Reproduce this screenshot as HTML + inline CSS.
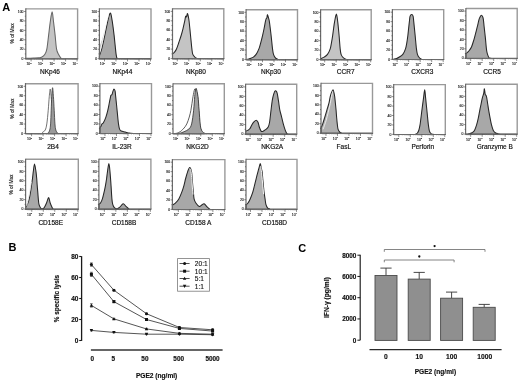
<!DOCTYPE html>
<html><head><meta charset="utf-8"><title>Figure</title>
<style>
html,body{margin:0;padding:0;background:#fff;}
body{width:520px;height:381px;overflow:hidden;position:relative;font-family:"Liberation Sans", sans-serif;-webkit-font-smoothing:antialiased;}
svg{filter:grayscale(1) blur(0.5px);}
</style></head><body>
<svg width="520" height="381" viewBox="0 0 520 381" style="position:absolute;left:0;top:0;display:block" font-family='"Liberation Sans", sans-serif'>
<rect width="520" height="381" fill="#fff"/>
<text x="2.3" y="10.7" font-size="11" font-weight="bold" fill="#000">A</text>
<text x="8.5" y="251.3" font-size="11" font-weight="bold" fill="#000">B</text>
<text x="298.3" y="251.5" font-size="11" font-weight="bold" fill="#000">C</text>
<g>
<path d="M25.8,58.3 C27.09,58.26 31.41,58.13 33.57,58.05 C35.73,57.97 37.43,57.93 38.75,57.8 C40.07,57.68 40.47,57.89 41.5,57.3 C42.52,56.72 44.02,55.72 44.91,54.31 C45.81,52.9 46.27,51.98 46.88,48.82 C47.5,45.66 48.02,39.88 48.59,35.35 C49.16,30.81 49.71,25.53 50.3,21.62 C50.89,17.72 51.58,11.89 52.11,11.89 C52.65,11.89 53.01,17.72 53.51,21.62 C54.01,25.53 54.62,30.81 55.12,35.35 C55.62,39.88 55.96,45.66 56.52,48.82 C57.08,51.98 57.71,52.73 58.49,54.31 C59.26,55.89 60.15,57.55 61.18,58.3 C62.21,59.05 61.91,58.72 64.65,58.8 C67.39,58.88 75.44,58.8 77.6,58.8 L77.6,58.8 L25.8,58.8 Z" fill="#c4c4c4" stroke="#666" stroke-width="1.05"/>
<path d="M25.8,8.9 H77.6 V58.8" fill="none" stroke="#999" stroke-width="1.4"/>
<path d="M25.8,8.3 V58.8 H78.2" fill="none" stroke="#6a6a6a" stroke-width="1.2"/>
<line x1="24" y1="58.65" x2="25.8" y2="58.65" stroke="#444" stroke-width="0.6"/>
<text x="23.5" y="59.85" font-size="3.4" text-anchor="end" fill="#222" stroke="#222" stroke-width="0.12">0</text>
<line x1="24.8" y1="53.94" x2="25.8" y2="53.94" stroke="#444" stroke-width="0.6"/>
<line x1="24" y1="49.22" x2="25.8" y2="49.22" stroke="#444" stroke-width="0.6"/>
<text x="23.5" y="50.42" font-size="3.4" text-anchor="end" fill="#222" stroke="#222" stroke-width="0.12">20</text>
<line x1="24.8" y1="44.5" x2="25.8" y2="44.5" stroke="#444" stroke-width="0.6"/>
<line x1="24" y1="39.79" x2="25.8" y2="39.79" stroke="#444" stroke-width="0.6"/>
<text x="23.5" y="40.99" font-size="3.4" text-anchor="end" fill="#222" stroke="#222" stroke-width="0.12">40</text>
<line x1="24.8" y1="35.08" x2="25.8" y2="35.08" stroke="#444" stroke-width="0.6"/>
<line x1="24" y1="30.36" x2="25.8" y2="30.36" stroke="#444" stroke-width="0.6"/>
<text x="23.5" y="31.56" font-size="3.4" text-anchor="end" fill="#222" stroke="#222" stroke-width="0.12">60</text>
<line x1="24.8" y1="25.64" x2="25.8" y2="25.64" stroke="#444" stroke-width="0.6"/>
<line x1="24" y1="20.93" x2="25.8" y2="20.93" stroke="#444" stroke-width="0.6"/>
<text x="23.5" y="22.13" font-size="3.4" text-anchor="end" fill="#222" stroke="#222" stroke-width="0.12">80</text>
<line x1="24.8" y1="16.21" x2="25.8" y2="16.21" stroke="#444" stroke-width="0.6"/>
<line x1="24" y1="11.5" x2="25.8" y2="11.5" stroke="#444" stroke-width="0.6"/>
<text x="23.5" y="12.7" font-size="3.4" text-anchor="end" fill="#222" stroke="#222" stroke-width="0.12">100</text>
<line x1="31.1" y1="58.8" x2="31.1" y2="61.4" stroke="#444" stroke-width="0.6"/>
<text x="31.5" y="65.2" font-size="3.4" text-anchor="end" fill="#222" stroke="#222" stroke-width="0.12">10<tspan font-size="2.4" dy="-1.5">0</tspan></text>
<line x1="26.52" y1="58.8" x2="26.52" y2="59.9" stroke="#777" stroke-width="0.4"/>
<line x1="27.64" y1="58.8" x2="27.64" y2="59.9" stroke="#777" stroke-width="0.4"/>
<line x1="28.55" y1="58.8" x2="28.55" y2="59.9" stroke="#777" stroke-width="0.4"/>
<line x1="29.32" y1="58.8" x2="29.32" y2="59.9" stroke="#777" stroke-width="0.4"/>
<line x1="29.99" y1="58.8" x2="29.99" y2="59.9" stroke="#777" stroke-width="0.4"/>
<line x1="30.57" y1="58.8" x2="30.57" y2="59.9" stroke="#777" stroke-width="0.4"/>
<line x1="42.6" y1="58.8" x2="42.6" y2="61.4" stroke="#444" stroke-width="0.6"/>
<text x="43" y="65.2" font-size="3.4" text-anchor="end" fill="#222" stroke="#222" stroke-width="0.12">10<tspan font-size="2.4" dy="-1.5">1</tspan></text>
<line x1="34.56" y1="58.8" x2="34.56" y2="59.9" stroke="#777" stroke-width="0.4"/>
<line x1="36.59" y1="58.8" x2="36.59" y2="59.9" stroke="#777" stroke-width="0.4"/>
<line x1="38.02" y1="58.8" x2="38.02" y2="59.9" stroke="#777" stroke-width="0.4"/>
<line x1="39.14" y1="58.8" x2="39.14" y2="59.9" stroke="#777" stroke-width="0.4"/>
<line x1="40.05" y1="58.8" x2="40.05" y2="59.9" stroke="#777" stroke-width="0.4"/>
<line x1="40.82" y1="58.8" x2="40.82" y2="59.9" stroke="#777" stroke-width="0.4"/>
<line x1="41.49" y1="58.8" x2="41.49" y2="59.9" stroke="#777" stroke-width="0.4"/>
<line x1="42.07" y1="58.8" x2="42.07" y2="59.9" stroke="#777" stroke-width="0.4"/>
<line x1="54.1" y1="58.8" x2="54.1" y2="61.4" stroke="#444" stroke-width="0.6"/>
<text x="54.5" y="65.2" font-size="3.4" text-anchor="end" fill="#222" stroke="#222" stroke-width="0.12">10<tspan font-size="2.4" dy="-1.5">2</tspan></text>
<line x1="46.06" y1="58.8" x2="46.06" y2="59.9" stroke="#777" stroke-width="0.4"/>
<line x1="48.09" y1="58.8" x2="48.09" y2="59.9" stroke="#777" stroke-width="0.4"/>
<line x1="49.52" y1="58.8" x2="49.52" y2="59.9" stroke="#777" stroke-width="0.4"/>
<line x1="50.64" y1="58.8" x2="50.64" y2="59.9" stroke="#777" stroke-width="0.4"/>
<line x1="51.55" y1="58.8" x2="51.55" y2="59.9" stroke="#777" stroke-width="0.4"/>
<line x1="52.32" y1="58.8" x2="52.32" y2="59.9" stroke="#777" stroke-width="0.4"/>
<line x1="52.99" y1="58.8" x2="52.99" y2="59.9" stroke="#777" stroke-width="0.4"/>
<line x1="53.57" y1="58.8" x2="53.57" y2="59.9" stroke="#777" stroke-width="0.4"/>
<line x1="65.6" y1="58.8" x2="65.6" y2="61.4" stroke="#444" stroke-width="0.6"/>
<text x="66" y="65.2" font-size="3.4" text-anchor="end" fill="#222" stroke="#222" stroke-width="0.12">10<tspan font-size="2.4" dy="-1.5">3</tspan></text>
<line x1="57.56" y1="58.8" x2="57.56" y2="59.9" stroke="#777" stroke-width="0.4"/>
<line x1="59.59" y1="58.8" x2="59.59" y2="59.9" stroke="#777" stroke-width="0.4"/>
<line x1="61.02" y1="58.8" x2="61.02" y2="59.9" stroke="#777" stroke-width="0.4"/>
<line x1="62.14" y1="58.8" x2="62.14" y2="59.9" stroke="#777" stroke-width="0.4"/>
<line x1="63.05" y1="58.8" x2="63.05" y2="59.9" stroke="#777" stroke-width="0.4"/>
<line x1="63.82" y1="58.8" x2="63.82" y2="59.9" stroke="#777" stroke-width="0.4"/>
<line x1="64.49" y1="58.8" x2="64.49" y2="59.9" stroke="#777" stroke-width="0.4"/>
<line x1="65.07" y1="58.8" x2="65.07" y2="59.9" stroke="#777" stroke-width="0.4"/>
<line x1="77.1" y1="58.8" x2="77.1" y2="61.4" stroke="#444" stroke-width="0.6"/>
<text x="77.5" y="65.2" font-size="3.4" text-anchor="end" fill="#222" stroke="#222" stroke-width="0.12">10<tspan font-size="2.4" dy="-1.5">4</tspan></text>
<line x1="69.06" y1="58.8" x2="69.06" y2="59.9" stroke="#777" stroke-width="0.4"/>
<line x1="71.09" y1="58.8" x2="71.09" y2="59.9" stroke="#777" stroke-width="0.4"/>
<line x1="72.52" y1="58.8" x2="72.52" y2="59.9" stroke="#777" stroke-width="0.4"/>
<line x1="73.64" y1="58.8" x2="73.64" y2="59.9" stroke="#777" stroke-width="0.4"/>
<line x1="74.55" y1="58.8" x2="74.55" y2="59.9" stroke="#777" stroke-width="0.4"/>
<line x1="75.32" y1="58.8" x2="75.32" y2="59.9" stroke="#777" stroke-width="0.4"/>
<line x1="75.99" y1="58.8" x2="75.99" y2="59.9" stroke="#777" stroke-width="0.4"/>
<line x1="76.57" y1="58.8" x2="76.57" y2="59.9" stroke="#777" stroke-width="0.4"/>
<text x="50" y="73.6" font-size="6.5" text-anchor="middle" fill="#111" stroke="#111" stroke-width="0.18">NKp46</text>
<text transform="translate(13.6,33.45) rotate(-90)" font-size="4.8" text-anchor="middle" fill="#222" stroke="#222" stroke-width="0.15">% of Max</text>
</g>
<g>
<path d="M99.4,46.82 C99.83,45.66 101.12,42.58 101.98,39.84 C102.84,37.09 103.7,33.6 104.56,30.36 C105.42,27.11 106.28,23.12 107.14,20.38 C108,17.63 109.13,15.05 109.72,13.89 C110.31,12.73 110.27,12.1 110.7,13.39 C111.13,14.68 111.73,17.97 112.3,21.62 C112.87,25.28 113.57,30.81 114.11,35.35 C114.64,39.88 115.16,45.66 115.5,48.82 C115.83,51.98 115.85,52.73 116.12,54.31 C116.39,55.89 116.45,57.55 117.1,58.3 C117.75,59.05 119.55,58.72 120.04,58.8 L120.04,58.8 L99.4,58.8 Z" fill="#c4c4c4" stroke="none" stroke-width="1.05"/>
<path d="M99.4,55.81 C99.83,54.48 101.12,51.07 101.98,47.82 C102.84,44.58 103.7,40.34 104.56,36.34 C105.42,32.35 106.37,27.36 107.14,23.87 C107.91,20.38 108.61,17.13 109.2,15.39 C109.8,13.64 110.18,12.35 110.7,13.39 C111.22,14.43 111.73,17.97 112.3,21.62 C112.87,25.28 113.57,30.81 114.11,35.35 C114.64,39.88 115.16,45.66 115.5,48.82 C115.83,51.98 115.85,52.73 116.12,54.31 C116.39,55.89 116.45,57.55 117.1,58.3 C117.75,59.05 114.39,58.72 120.04,58.8 C125.69,58.88 145.84,58.8 151,58.8 L151,58.8 L99.4,58.8 Z" fill="#a8a8a8" stroke="#262626" stroke-width="1.05"/>
<path d="M99.4,53.81 C99.72,52.65 100.57,49.9 101.31,46.82 C102.05,43.75 102.99,39.34 103.84,35.35 C104.69,31.35 105.65,26.2 106.42,22.87 C107.18,19.55 108.09,16.63 108.43,15.39" fill="none" stroke="#ffffff" stroke-width="0.9"/>
<path d="M99.4,8.9 H151 V58.8" fill="none" stroke="#999" stroke-width="1.4"/>
<path d="M99.4,8.3 V58.8 H151.6" fill="none" stroke="#6a6a6a" stroke-width="1.2"/>
<line x1="97.6" y1="58.65" x2="99.4" y2="58.65" stroke="#444" stroke-width="0.6"/>
<text x="97.1" y="59.85" font-size="3.4" text-anchor="end" fill="#222" stroke="#222" stroke-width="0.12">0</text>
<line x1="98.4" y1="53.94" x2="99.4" y2="53.94" stroke="#444" stroke-width="0.6"/>
<line x1="97.6" y1="49.22" x2="99.4" y2="49.22" stroke="#444" stroke-width="0.6"/>
<text x="97.1" y="50.42" font-size="3.4" text-anchor="end" fill="#222" stroke="#222" stroke-width="0.12">20</text>
<line x1="98.4" y1="44.5" x2="99.4" y2="44.5" stroke="#444" stroke-width="0.6"/>
<line x1="97.6" y1="39.79" x2="99.4" y2="39.79" stroke="#444" stroke-width="0.6"/>
<text x="97.1" y="40.99" font-size="3.4" text-anchor="end" fill="#222" stroke="#222" stroke-width="0.12">40</text>
<line x1="98.4" y1="35.08" x2="99.4" y2="35.08" stroke="#444" stroke-width="0.6"/>
<line x1="97.6" y1="30.36" x2="99.4" y2="30.36" stroke="#444" stroke-width="0.6"/>
<text x="97.1" y="31.56" font-size="3.4" text-anchor="end" fill="#222" stroke="#222" stroke-width="0.12">60</text>
<line x1="98.4" y1="25.64" x2="99.4" y2="25.64" stroke="#444" stroke-width="0.6"/>
<line x1="97.6" y1="20.93" x2="99.4" y2="20.93" stroke="#444" stroke-width="0.6"/>
<text x="97.1" y="22.13" font-size="3.4" text-anchor="end" fill="#222" stroke="#222" stroke-width="0.12">80</text>
<line x1="98.4" y1="16.21" x2="99.4" y2="16.21" stroke="#444" stroke-width="0.6"/>
<line x1="97.6" y1="11.5" x2="99.4" y2="11.5" stroke="#444" stroke-width="0.6"/>
<text x="97.1" y="12.7" font-size="3.4" text-anchor="end" fill="#222" stroke="#222" stroke-width="0.12">100</text>
<line x1="104.5" y1="58.8" x2="104.5" y2="61.4" stroke="#444" stroke-width="0.6"/>
<text x="104.9" y="65.2" font-size="3.4" text-anchor="end" fill="#222" stroke="#222" stroke-width="0.12">10<tspan font-size="2.4" dy="-1.5">0</tspan></text>
<line x1="99.92" y1="58.8" x2="99.92" y2="59.9" stroke="#777" stroke-width="0.4"/>
<line x1="101.04" y1="58.8" x2="101.04" y2="59.9" stroke="#777" stroke-width="0.4"/>
<line x1="101.95" y1="58.8" x2="101.95" y2="59.9" stroke="#777" stroke-width="0.4"/>
<line x1="102.72" y1="58.8" x2="102.72" y2="59.9" stroke="#777" stroke-width="0.4"/>
<line x1="103.39" y1="58.8" x2="103.39" y2="59.9" stroke="#777" stroke-width="0.4"/>
<line x1="103.97" y1="58.8" x2="103.97" y2="59.9" stroke="#777" stroke-width="0.4"/>
<line x1="116" y1="58.8" x2="116" y2="61.4" stroke="#444" stroke-width="0.6"/>
<text x="116.4" y="65.2" font-size="3.4" text-anchor="end" fill="#222" stroke="#222" stroke-width="0.12">10<tspan font-size="2.4" dy="-1.5">1</tspan></text>
<line x1="107.96" y1="58.8" x2="107.96" y2="59.9" stroke="#777" stroke-width="0.4"/>
<line x1="109.99" y1="58.8" x2="109.99" y2="59.9" stroke="#777" stroke-width="0.4"/>
<line x1="111.42" y1="58.8" x2="111.42" y2="59.9" stroke="#777" stroke-width="0.4"/>
<line x1="112.54" y1="58.8" x2="112.54" y2="59.9" stroke="#777" stroke-width="0.4"/>
<line x1="113.45" y1="58.8" x2="113.45" y2="59.9" stroke="#777" stroke-width="0.4"/>
<line x1="114.22" y1="58.8" x2="114.22" y2="59.9" stroke="#777" stroke-width="0.4"/>
<line x1="114.89" y1="58.8" x2="114.89" y2="59.9" stroke="#777" stroke-width="0.4"/>
<line x1="115.47" y1="58.8" x2="115.47" y2="59.9" stroke="#777" stroke-width="0.4"/>
<line x1="127.5" y1="58.8" x2="127.5" y2="61.4" stroke="#444" stroke-width="0.6"/>
<text x="127.9" y="65.2" font-size="3.4" text-anchor="end" fill="#222" stroke="#222" stroke-width="0.12">10<tspan font-size="2.4" dy="-1.5">2</tspan></text>
<line x1="119.46" y1="58.8" x2="119.46" y2="59.9" stroke="#777" stroke-width="0.4"/>
<line x1="121.49" y1="58.8" x2="121.49" y2="59.9" stroke="#777" stroke-width="0.4"/>
<line x1="122.92" y1="58.8" x2="122.92" y2="59.9" stroke="#777" stroke-width="0.4"/>
<line x1="124.04" y1="58.8" x2="124.04" y2="59.9" stroke="#777" stroke-width="0.4"/>
<line x1="124.95" y1="58.8" x2="124.95" y2="59.9" stroke="#777" stroke-width="0.4"/>
<line x1="125.72" y1="58.8" x2="125.72" y2="59.9" stroke="#777" stroke-width="0.4"/>
<line x1="126.39" y1="58.8" x2="126.39" y2="59.9" stroke="#777" stroke-width="0.4"/>
<line x1="126.97" y1="58.8" x2="126.97" y2="59.9" stroke="#777" stroke-width="0.4"/>
<line x1="139" y1="58.8" x2="139" y2="61.4" stroke="#444" stroke-width="0.6"/>
<text x="139.4" y="65.2" font-size="3.4" text-anchor="end" fill="#222" stroke="#222" stroke-width="0.12">10<tspan font-size="2.4" dy="-1.5">3</tspan></text>
<line x1="130.96" y1="58.8" x2="130.96" y2="59.9" stroke="#777" stroke-width="0.4"/>
<line x1="132.99" y1="58.8" x2="132.99" y2="59.9" stroke="#777" stroke-width="0.4"/>
<line x1="134.42" y1="58.8" x2="134.42" y2="59.9" stroke="#777" stroke-width="0.4"/>
<line x1="135.54" y1="58.8" x2="135.54" y2="59.9" stroke="#777" stroke-width="0.4"/>
<line x1="136.45" y1="58.8" x2="136.45" y2="59.9" stroke="#777" stroke-width="0.4"/>
<line x1="137.22" y1="58.8" x2="137.22" y2="59.9" stroke="#777" stroke-width="0.4"/>
<line x1="137.89" y1="58.8" x2="137.89" y2="59.9" stroke="#777" stroke-width="0.4"/>
<line x1="138.47" y1="58.8" x2="138.47" y2="59.9" stroke="#777" stroke-width="0.4"/>
<line x1="150.5" y1="58.8" x2="150.5" y2="61.4" stroke="#444" stroke-width="0.6"/>
<text x="150.9" y="65.2" font-size="3.4" text-anchor="end" fill="#222" stroke="#222" stroke-width="0.12">10<tspan font-size="2.4" dy="-1.5">4</tspan></text>
<line x1="142.46" y1="58.8" x2="142.46" y2="59.9" stroke="#777" stroke-width="0.4"/>
<line x1="144.49" y1="58.8" x2="144.49" y2="59.9" stroke="#777" stroke-width="0.4"/>
<line x1="145.92" y1="58.8" x2="145.92" y2="59.9" stroke="#777" stroke-width="0.4"/>
<line x1="147.04" y1="58.8" x2="147.04" y2="59.9" stroke="#777" stroke-width="0.4"/>
<line x1="147.95" y1="58.8" x2="147.95" y2="59.9" stroke="#777" stroke-width="0.4"/>
<line x1="148.72" y1="58.8" x2="148.72" y2="59.9" stroke="#777" stroke-width="0.4"/>
<line x1="149.39" y1="58.8" x2="149.39" y2="59.9" stroke="#777" stroke-width="0.4"/>
<line x1="149.97" y1="58.8" x2="149.97" y2="59.9" stroke="#777" stroke-width="0.4"/>
<text x="122.4" y="73.6" font-size="6.5" text-anchor="middle" fill="#111" stroke="#111" stroke-width="0.18">NKp44</text>
</g>
<g>
<path d="M172.5,52.96 C172.67,53 173.21,53.32 173.53,53.21 C173.84,53.1 173.9,53.03 174.4,52.31 C174.89,51.6 175.75,50.6 176.5,48.92 C177.25,47.24 178.13,44.51 178.91,42.23 C179.7,39.95 180.54,37.53 181.22,35.25 C181.91,32.96 182.45,30.8 183.02,28.51 C183.58,26.22 184.16,23.56 184.61,21.52 C185.05,19.49 185.35,17.08 185.68,16.28 C186.02,15.49 186.33,17.24 186.61,16.78 C186.89,16.33 187.09,13.62 187.38,13.54 C187.66,13.46 188.01,14.95 188.3,16.28 C188.59,17.62 188.75,18.36 189.12,21.52 C189.49,24.68 190.04,30.68 190.51,35.25 C190.97,39.81 191.51,45.73 191.89,48.92 C192.28,52.11 192.31,53.03 192.81,54.41 C193.32,55.79 194.29,56.57 194.92,57.2 C195.55,57.84 195.64,57.95 196.61,58.2 C197.58,58.45 196.18,58.62 200.72,58.7 C205.25,58.78 219.95,58.7 223.8,58.7 L223.8,58.7 L172.5,58.7 Z" fill="#c4c4c4" stroke="#262626" stroke-width="1.05"/>
<path d="M172.5,8.8 H223.8 V58.7" fill="none" stroke="#999" stroke-width="1.4"/>
<path d="M172.5,8.2 V58.7 H224.4" fill="none" stroke="#6a6a6a" stroke-width="1.2"/>
<line x1="170.7" y1="58.55" x2="172.5" y2="58.55" stroke="#444" stroke-width="0.6"/>
<text x="170.2" y="59.75" font-size="3.4" text-anchor="end" fill="#222" stroke="#222" stroke-width="0.12">0</text>
<line x1="171.5" y1="53.84" x2="172.5" y2="53.84" stroke="#444" stroke-width="0.6"/>
<line x1="170.7" y1="49.12" x2="172.5" y2="49.12" stroke="#444" stroke-width="0.6"/>
<text x="170.2" y="50.32" font-size="3.4" text-anchor="end" fill="#222" stroke="#222" stroke-width="0.12">20</text>
<line x1="171.5" y1="44.41" x2="172.5" y2="44.41" stroke="#444" stroke-width="0.6"/>
<line x1="170.7" y1="39.69" x2="172.5" y2="39.69" stroke="#444" stroke-width="0.6"/>
<text x="170.2" y="40.89" font-size="3.4" text-anchor="end" fill="#222" stroke="#222" stroke-width="0.12">40</text>
<line x1="171.5" y1="34.98" x2="172.5" y2="34.98" stroke="#444" stroke-width="0.6"/>
<line x1="170.7" y1="30.26" x2="172.5" y2="30.26" stroke="#444" stroke-width="0.6"/>
<text x="170.2" y="31.46" font-size="3.4" text-anchor="end" fill="#222" stroke="#222" stroke-width="0.12">60</text>
<line x1="171.5" y1="25.55" x2="172.5" y2="25.55" stroke="#444" stroke-width="0.6"/>
<line x1="170.7" y1="20.83" x2="172.5" y2="20.83" stroke="#444" stroke-width="0.6"/>
<text x="170.2" y="22.03" font-size="3.4" text-anchor="end" fill="#222" stroke="#222" stroke-width="0.12">80</text>
<line x1="171.5" y1="16.11" x2="172.5" y2="16.11" stroke="#444" stroke-width="0.6"/>
<line x1="170.7" y1="11.4" x2="172.5" y2="11.4" stroke="#444" stroke-width="0.6"/>
<text x="170.2" y="12.6" font-size="3.4" text-anchor="end" fill="#222" stroke="#222" stroke-width="0.12">100</text>
<line x1="177.3" y1="58.7" x2="177.3" y2="61.3" stroke="#444" stroke-width="0.6"/>
<text x="177.7" y="65.1" font-size="3.4" text-anchor="end" fill="#222" stroke="#222" stroke-width="0.12">10<tspan font-size="2.4" dy="-1.5">0</tspan></text>
<line x1="173.84" y1="58.7" x2="173.84" y2="59.8" stroke="#777" stroke-width="0.4"/>
<line x1="174.75" y1="58.7" x2="174.75" y2="59.8" stroke="#777" stroke-width="0.4"/>
<line x1="175.52" y1="58.7" x2="175.52" y2="59.8" stroke="#777" stroke-width="0.4"/>
<line x1="176.19" y1="58.7" x2="176.19" y2="59.8" stroke="#777" stroke-width="0.4"/>
<line x1="176.77" y1="58.7" x2="176.77" y2="59.8" stroke="#777" stroke-width="0.4"/>
<line x1="188.8" y1="58.7" x2="188.8" y2="61.3" stroke="#444" stroke-width="0.6"/>
<text x="189.2" y="65.1" font-size="3.4" text-anchor="end" fill="#222" stroke="#222" stroke-width="0.12">10<tspan font-size="2.4" dy="-1.5">1</tspan></text>
<line x1="180.76" y1="58.7" x2="180.76" y2="59.8" stroke="#777" stroke-width="0.4"/>
<line x1="182.79" y1="58.7" x2="182.79" y2="59.8" stroke="#777" stroke-width="0.4"/>
<line x1="184.22" y1="58.7" x2="184.22" y2="59.8" stroke="#777" stroke-width="0.4"/>
<line x1="185.34" y1="58.7" x2="185.34" y2="59.8" stroke="#777" stroke-width="0.4"/>
<line x1="186.25" y1="58.7" x2="186.25" y2="59.8" stroke="#777" stroke-width="0.4"/>
<line x1="187.02" y1="58.7" x2="187.02" y2="59.8" stroke="#777" stroke-width="0.4"/>
<line x1="187.69" y1="58.7" x2="187.69" y2="59.8" stroke="#777" stroke-width="0.4"/>
<line x1="188.27" y1="58.7" x2="188.27" y2="59.8" stroke="#777" stroke-width="0.4"/>
<line x1="200.3" y1="58.7" x2="200.3" y2="61.3" stroke="#444" stroke-width="0.6"/>
<text x="200.7" y="65.1" font-size="3.4" text-anchor="end" fill="#222" stroke="#222" stroke-width="0.12">10<tspan font-size="2.4" dy="-1.5">2</tspan></text>
<line x1="192.26" y1="58.7" x2="192.26" y2="59.8" stroke="#777" stroke-width="0.4"/>
<line x1="194.29" y1="58.7" x2="194.29" y2="59.8" stroke="#777" stroke-width="0.4"/>
<line x1="195.72" y1="58.7" x2="195.72" y2="59.8" stroke="#777" stroke-width="0.4"/>
<line x1="196.84" y1="58.7" x2="196.84" y2="59.8" stroke="#777" stroke-width="0.4"/>
<line x1="197.75" y1="58.7" x2="197.75" y2="59.8" stroke="#777" stroke-width="0.4"/>
<line x1="198.52" y1="58.7" x2="198.52" y2="59.8" stroke="#777" stroke-width="0.4"/>
<line x1="199.19" y1="58.7" x2="199.19" y2="59.8" stroke="#777" stroke-width="0.4"/>
<line x1="199.77" y1="58.7" x2="199.77" y2="59.8" stroke="#777" stroke-width="0.4"/>
<line x1="211.8" y1="58.7" x2="211.8" y2="61.3" stroke="#444" stroke-width="0.6"/>
<text x="212.2" y="65.1" font-size="3.4" text-anchor="end" fill="#222" stroke="#222" stroke-width="0.12">10<tspan font-size="2.4" dy="-1.5">3</tspan></text>
<line x1="203.76" y1="58.7" x2="203.76" y2="59.8" stroke="#777" stroke-width="0.4"/>
<line x1="205.79" y1="58.7" x2="205.79" y2="59.8" stroke="#777" stroke-width="0.4"/>
<line x1="207.22" y1="58.7" x2="207.22" y2="59.8" stroke="#777" stroke-width="0.4"/>
<line x1="208.34" y1="58.7" x2="208.34" y2="59.8" stroke="#777" stroke-width="0.4"/>
<line x1="209.25" y1="58.7" x2="209.25" y2="59.8" stroke="#777" stroke-width="0.4"/>
<line x1="210.02" y1="58.7" x2="210.02" y2="59.8" stroke="#777" stroke-width="0.4"/>
<line x1="210.69" y1="58.7" x2="210.69" y2="59.8" stroke="#777" stroke-width="0.4"/>
<line x1="211.27" y1="58.7" x2="211.27" y2="59.8" stroke="#777" stroke-width="0.4"/>
<line x1="223.3" y1="58.7" x2="223.3" y2="61.3" stroke="#444" stroke-width="0.6"/>
<text x="223.7" y="65.1" font-size="3.4" text-anchor="end" fill="#222" stroke="#222" stroke-width="0.12">10<tspan font-size="2.4" dy="-1.5">4</tspan></text>
<line x1="215.26" y1="58.7" x2="215.26" y2="59.8" stroke="#777" stroke-width="0.4"/>
<line x1="217.29" y1="58.7" x2="217.29" y2="59.8" stroke="#777" stroke-width="0.4"/>
<line x1="218.72" y1="58.7" x2="218.72" y2="59.8" stroke="#777" stroke-width="0.4"/>
<line x1="219.84" y1="58.7" x2="219.84" y2="59.8" stroke="#777" stroke-width="0.4"/>
<line x1="220.75" y1="58.7" x2="220.75" y2="59.8" stroke="#777" stroke-width="0.4"/>
<line x1="221.52" y1="58.7" x2="221.52" y2="59.8" stroke="#777" stroke-width="0.4"/>
<line x1="222.19" y1="58.7" x2="222.19" y2="59.8" stroke="#777" stroke-width="0.4"/>
<line x1="222.77" y1="58.7" x2="222.77" y2="59.8" stroke="#777" stroke-width="0.4"/>
<text x="195.9" y="73.6" font-size="6.5" text-anchor="middle" fill="#111" stroke="#111" stroke-width="0.18">NKp80</text>
</g>
<g>
<path d="M246.1,59.6 C246.53,59.52 248.02,59.27 248.67,59.1 C249.32,58.93 249.22,58.93 250.01,58.6 C250.79,58.27 252.38,57.8 253.4,57.1 C254.42,56.41 255.21,55.77 256.12,54.41 C257.04,53.05 258.1,50.97 258.9,48.92 C259.7,46.88 260.29,44.41 260.9,42.13 C261.52,39.86 262.07,37.57 262.6,35.3 C263.13,33.03 263.63,30.79 264.09,28.51 C264.55,26.23 265.04,23.23 265.38,21.63 C265.71,20.02 265.84,19.54 266.09,18.88 C266.35,18.22 266.69,18.37 266.92,17.68 C267.15,17 267.17,14.59 267.48,14.79 C267.79,14.99 268.45,17.74 268.77,18.88 C269.08,20.02 269,18.89 269.38,21.63 C269.77,24.36 270.56,30.75 271.08,35.3 C271.6,39.85 272.12,45.74 272.52,48.92 C272.92,52.11 273.05,52.96 273.5,54.41 C273.94,55.86 274.56,56.82 275.19,57.6 C275.83,58.39 276.58,58.77 277.3,59.1 C278.02,59.43 276.14,59.52 279.51,59.6 C282.88,59.68 294.5,59.6 297.5,59.6 L297.5,59.6 L246.1,59.6 Z" fill="#a8a8a8" stroke="#262626" stroke-width="1.05"/>
<path d="M246.1,9.7 H297.5 V59.6" fill="none" stroke="#999" stroke-width="1.4"/>
<path d="M246.1,9.1 V59.6 H298.1" fill="none" stroke="#6a6a6a" stroke-width="1.2"/>
<line x1="244.3" y1="59.45" x2="246.1" y2="59.45" stroke="#444" stroke-width="0.6"/>
<text x="243.8" y="60.65" font-size="3.4" text-anchor="end" fill="#222" stroke="#222" stroke-width="0.12">0</text>
<line x1="245.1" y1="54.73" x2="246.1" y2="54.73" stroke="#444" stroke-width="0.6"/>
<line x1="244.3" y1="50.02" x2="246.1" y2="50.02" stroke="#444" stroke-width="0.6"/>
<text x="243.8" y="51.22" font-size="3.4" text-anchor="end" fill="#222" stroke="#222" stroke-width="0.12">20</text>
<line x1="245.1" y1="45.3" x2="246.1" y2="45.3" stroke="#444" stroke-width="0.6"/>
<line x1="244.3" y1="40.59" x2="246.1" y2="40.59" stroke="#444" stroke-width="0.6"/>
<text x="243.8" y="41.79" font-size="3.4" text-anchor="end" fill="#222" stroke="#222" stroke-width="0.12">40</text>
<line x1="245.1" y1="35.88" x2="246.1" y2="35.88" stroke="#444" stroke-width="0.6"/>
<line x1="244.3" y1="31.16" x2="246.1" y2="31.16" stroke="#444" stroke-width="0.6"/>
<text x="243.8" y="32.36" font-size="3.4" text-anchor="end" fill="#222" stroke="#222" stroke-width="0.12">60</text>
<line x1="245.1" y1="26.44" x2="246.1" y2="26.44" stroke="#444" stroke-width="0.6"/>
<line x1="244.3" y1="21.73" x2="246.1" y2="21.73" stroke="#444" stroke-width="0.6"/>
<text x="243.8" y="22.93" font-size="3.4" text-anchor="end" fill="#222" stroke="#222" stroke-width="0.12">80</text>
<line x1="245.1" y1="17.01" x2="246.1" y2="17.01" stroke="#444" stroke-width="0.6"/>
<line x1="244.3" y1="12.3" x2="246.1" y2="12.3" stroke="#444" stroke-width="0.6"/>
<text x="243.8" y="13.5" font-size="3.4" text-anchor="end" fill="#222" stroke="#222" stroke-width="0.12">100</text>
<line x1="251" y1="59.6" x2="251" y2="62.2" stroke="#444" stroke-width="0.6"/>
<text x="251.4" y="66" font-size="3.4" text-anchor="end" fill="#222" stroke="#222" stroke-width="0.12">10<tspan font-size="2.4" dy="-1.5">0</tspan></text>
<line x1="247.54" y1="59.6" x2="247.54" y2="60.7" stroke="#777" stroke-width="0.4"/>
<line x1="248.45" y1="59.6" x2="248.45" y2="60.7" stroke="#777" stroke-width="0.4"/>
<line x1="249.22" y1="59.6" x2="249.22" y2="60.7" stroke="#777" stroke-width="0.4"/>
<line x1="249.89" y1="59.6" x2="249.89" y2="60.7" stroke="#777" stroke-width="0.4"/>
<line x1="250.47" y1="59.6" x2="250.47" y2="60.7" stroke="#777" stroke-width="0.4"/>
<line x1="262.5" y1="59.6" x2="262.5" y2="62.2" stroke="#444" stroke-width="0.6"/>
<text x="262.9" y="66" font-size="3.4" text-anchor="end" fill="#222" stroke="#222" stroke-width="0.12">10<tspan font-size="2.4" dy="-1.5">1</tspan></text>
<line x1="254.46" y1="59.6" x2="254.46" y2="60.7" stroke="#777" stroke-width="0.4"/>
<line x1="256.49" y1="59.6" x2="256.49" y2="60.7" stroke="#777" stroke-width="0.4"/>
<line x1="257.92" y1="59.6" x2="257.92" y2="60.7" stroke="#777" stroke-width="0.4"/>
<line x1="259.04" y1="59.6" x2="259.04" y2="60.7" stroke="#777" stroke-width="0.4"/>
<line x1="259.95" y1="59.6" x2="259.95" y2="60.7" stroke="#777" stroke-width="0.4"/>
<line x1="260.72" y1="59.6" x2="260.72" y2="60.7" stroke="#777" stroke-width="0.4"/>
<line x1="261.39" y1="59.6" x2="261.39" y2="60.7" stroke="#777" stroke-width="0.4"/>
<line x1="261.97" y1="59.6" x2="261.97" y2="60.7" stroke="#777" stroke-width="0.4"/>
<line x1="274" y1="59.6" x2="274" y2="62.2" stroke="#444" stroke-width="0.6"/>
<text x="274.4" y="66" font-size="3.4" text-anchor="end" fill="#222" stroke="#222" stroke-width="0.12">10<tspan font-size="2.4" dy="-1.5">2</tspan></text>
<line x1="265.96" y1="59.6" x2="265.96" y2="60.7" stroke="#777" stroke-width="0.4"/>
<line x1="267.99" y1="59.6" x2="267.99" y2="60.7" stroke="#777" stroke-width="0.4"/>
<line x1="269.42" y1="59.6" x2="269.42" y2="60.7" stroke="#777" stroke-width="0.4"/>
<line x1="270.54" y1="59.6" x2="270.54" y2="60.7" stroke="#777" stroke-width="0.4"/>
<line x1="271.45" y1="59.6" x2="271.45" y2="60.7" stroke="#777" stroke-width="0.4"/>
<line x1="272.22" y1="59.6" x2="272.22" y2="60.7" stroke="#777" stroke-width="0.4"/>
<line x1="272.89" y1="59.6" x2="272.89" y2="60.7" stroke="#777" stroke-width="0.4"/>
<line x1="273.47" y1="59.6" x2="273.47" y2="60.7" stroke="#777" stroke-width="0.4"/>
<line x1="285.5" y1="59.6" x2="285.5" y2="62.2" stroke="#444" stroke-width="0.6"/>
<text x="285.9" y="66" font-size="3.4" text-anchor="end" fill="#222" stroke="#222" stroke-width="0.12">10<tspan font-size="2.4" dy="-1.5">3</tspan></text>
<line x1="277.46" y1="59.6" x2="277.46" y2="60.7" stroke="#777" stroke-width="0.4"/>
<line x1="279.49" y1="59.6" x2="279.49" y2="60.7" stroke="#777" stroke-width="0.4"/>
<line x1="280.92" y1="59.6" x2="280.92" y2="60.7" stroke="#777" stroke-width="0.4"/>
<line x1="282.04" y1="59.6" x2="282.04" y2="60.7" stroke="#777" stroke-width="0.4"/>
<line x1="282.95" y1="59.6" x2="282.95" y2="60.7" stroke="#777" stroke-width="0.4"/>
<line x1="283.72" y1="59.6" x2="283.72" y2="60.7" stroke="#777" stroke-width="0.4"/>
<line x1="284.39" y1="59.6" x2="284.39" y2="60.7" stroke="#777" stroke-width="0.4"/>
<line x1="284.97" y1="59.6" x2="284.97" y2="60.7" stroke="#777" stroke-width="0.4"/>
<line x1="297" y1="59.6" x2="297" y2="62.2" stroke="#444" stroke-width="0.6"/>
<text x="297.4" y="66" font-size="3.4" text-anchor="end" fill="#222" stroke="#222" stroke-width="0.12">10<tspan font-size="2.4" dy="-1.5">4</tspan></text>
<line x1="288.96" y1="59.6" x2="288.96" y2="60.7" stroke="#777" stroke-width="0.4"/>
<line x1="290.99" y1="59.6" x2="290.99" y2="60.7" stroke="#777" stroke-width="0.4"/>
<line x1="292.42" y1="59.6" x2="292.42" y2="60.7" stroke="#777" stroke-width="0.4"/>
<line x1="293.54" y1="59.6" x2="293.54" y2="60.7" stroke="#777" stroke-width="0.4"/>
<line x1="294.45" y1="59.6" x2="294.45" y2="60.7" stroke="#777" stroke-width="0.4"/>
<line x1="295.22" y1="59.6" x2="295.22" y2="60.7" stroke="#777" stroke-width="0.4"/>
<line x1="295.89" y1="59.6" x2="295.89" y2="60.7" stroke="#777" stroke-width="0.4"/>
<line x1="296.47" y1="59.6" x2="296.47" y2="60.7" stroke="#777" stroke-width="0.4"/>
<text x="270.9" y="73.6" font-size="6.5" text-anchor="middle" fill="#111" stroke="#111" stroke-width="0.18">NKp30</text>
</g>
<g>
<path d="M320.6,58.7 C320.73,58.66 320.83,58.72 321.41,58.45 C321.99,58.19 323.08,57.78 324.09,57.11 C325.1,56.43 326.46,55.77 327.48,54.41 C328.5,53.05 329.53,50.98 330.21,48.92 C330.9,46.87 331.17,44.36 331.58,42.09 C331.99,39.81 332.36,37.56 332.69,35.3 C333.03,33.04 333.28,30.8 333.6,28.51 C333.92,26.23 334.15,23.98 334.62,21.58 C335.08,19.17 335.87,14.09 336.39,14.09 C336.9,14.09 337.26,18.04 337.7,21.58 C338.15,25.11 338.66,30.74 339.07,35.3 C339.48,39.86 339.84,45.74 340.18,48.92 C340.52,52.11 340.6,52.95 341.09,54.41 C341.59,55.87 342.37,56.91 343.17,57.7 C343.97,58.5 345.02,58.87 345.9,59.2 C346.78,59.53 344.21,59.62 348.43,59.7 C352.65,59.78 367.4,59.7 371.2,59.7 L371.2,59.7 L320.6,59.7 Z" fill="#c4c4c4" stroke="#262626" stroke-width="1.05"/>
<path d="M320.6,9.8 H371.2 V59.7" fill="none" stroke="#999" stroke-width="1.4"/>
<path d="M320.6,9.2 V59.7 H371.8" fill="none" stroke="#6a6a6a" stroke-width="1.2"/>
<line x1="318.8" y1="59.55" x2="320.6" y2="59.55" stroke="#444" stroke-width="0.6"/>
<text x="318.3" y="60.75" font-size="3.4" text-anchor="end" fill="#222" stroke="#222" stroke-width="0.12">0</text>
<line x1="319.6" y1="54.84" x2="320.6" y2="54.84" stroke="#444" stroke-width="0.6"/>
<line x1="318.8" y1="50.12" x2="320.6" y2="50.12" stroke="#444" stroke-width="0.6"/>
<text x="318.3" y="51.32" font-size="3.4" text-anchor="end" fill="#222" stroke="#222" stroke-width="0.12">20</text>
<line x1="319.6" y1="45.41" x2="320.6" y2="45.41" stroke="#444" stroke-width="0.6"/>
<line x1="318.8" y1="40.69" x2="320.6" y2="40.69" stroke="#444" stroke-width="0.6"/>
<text x="318.3" y="41.89" font-size="3.4" text-anchor="end" fill="#222" stroke="#222" stroke-width="0.12">40</text>
<line x1="319.6" y1="35.98" x2="320.6" y2="35.98" stroke="#444" stroke-width="0.6"/>
<line x1="318.8" y1="31.26" x2="320.6" y2="31.26" stroke="#444" stroke-width="0.6"/>
<text x="318.3" y="32.46" font-size="3.4" text-anchor="end" fill="#222" stroke="#222" stroke-width="0.12">60</text>
<line x1="319.6" y1="26.55" x2="320.6" y2="26.55" stroke="#444" stroke-width="0.6"/>
<line x1="318.8" y1="21.83" x2="320.6" y2="21.83" stroke="#444" stroke-width="0.6"/>
<text x="318.3" y="23.03" font-size="3.4" text-anchor="end" fill="#222" stroke="#222" stroke-width="0.12">80</text>
<line x1="319.6" y1="17.11" x2="320.6" y2="17.11" stroke="#444" stroke-width="0.6"/>
<line x1="318.8" y1="12.4" x2="320.6" y2="12.4" stroke="#444" stroke-width="0.6"/>
<text x="318.3" y="13.6" font-size="3.4" text-anchor="end" fill="#222" stroke="#222" stroke-width="0.12">100</text>
<line x1="324.7" y1="59.7" x2="324.7" y2="62.3" stroke="#444" stroke-width="0.6"/>
<text x="325.1" y="66.1" font-size="3.4" text-anchor="end" fill="#222" stroke="#222" stroke-width="0.12">10<tspan font-size="2.4" dy="-1.5">0</tspan></text>
<line x1="321.24" y1="59.7" x2="321.24" y2="60.8" stroke="#777" stroke-width="0.4"/>
<line x1="322.15" y1="59.7" x2="322.15" y2="60.8" stroke="#777" stroke-width="0.4"/>
<line x1="322.92" y1="59.7" x2="322.92" y2="60.8" stroke="#777" stroke-width="0.4"/>
<line x1="323.59" y1="59.7" x2="323.59" y2="60.8" stroke="#777" stroke-width="0.4"/>
<line x1="324.17" y1="59.7" x2="324.17" y2="60.8" stroke="#777" stroke-width="0.4"/>
<line x1="336.2" y1="59.7" x2="336.2" y2="62.3" stroke="#444" stroke-width="0.6"/>
<text x="336.6" y="66.1" font-size="3.4" text-anchor="end" fill="#222" stroke="#222" stroke-width="0.12">10<tspan font-size="2.4" dy="-1.5">1</tspan></text>
<line x1="328.16" y1="59.7" x2="328.16" y2="60.8" stroke="#777" stroke-width="0.4"/>
<line x1="330.19" y1="59.7" x2="330.19" y2="60.8" stroke="#777" stroke-width="0.4"/>
<line x1="331.62" y1="59.7" x2="331.62" y2="60.8" stroke="#777" stroke-width="0.4"/>
<line x1="332.74" y1="59.7" x2="332.74" y2="60.8" stroke="#777" stroke-width="0.4"/>
<line x1="333.65" y1="59.7" x2="333.65" y2="60.8" stroke="#777" stroke-width="0.4"/>
<line x1="334.42" y1="59.7" x2="334.42" y2="60.8" stroke="#777" stroke-width="0.4"/>
<line x1="335.09" y1="59.7" x2="335.09" y2="60.8" stroke="#777" stroke-width="0.4"/>
<line x1="335.67" y1="59.7" x2="335.67" y2="60.8" stroke="#777" stroke-width="0.4"/>
<line x1="347.7" y1="59.7" x2="347.7" y2="62.3" stroke="#444" stroke-width="0.6"/>
<text x="348.1" y="66.1" font-size="3.4" text-anchor="end" fill="#222" stroke="#222" stroke-width="0.12">10<tspan font-size="2.4" dy="-1.5">2</tspan></text>
<line x1="339.66" y1="59.7" x2="339.66" y2="60.8" stroke="#777" stroke-width="0.4"/>
<line x1="341.69" y1="59.7" x2="341.69" y2="60.8" stroke="#777" stroke-width="0.4"/>
<line x1="343.12" y1="59.7" x2="343.12" y2="60.8" stroke="#777" stroke-width="0.4"/>
<line x1="344.24" y1="59.7" x2="344.24" y2="60.8" stroke="#777" stroke-width="0.4"/>
<line x1="345.15" y1="59.7" x2="345.15" y2="60.8" stroke="#777" stroke-width="0.4"/>
<line x1="345.92" y1="59.7" x2="345.92" y2="60.8" stroke="#777" stroke-width="0.4"/>
<line x1="346.59" y1="59.7" x2="346.59" y2="60.8" stroke="#777" stroke-width="0.4"/>
<line x1="347.17" y1="59.7" x2="347.17" y2="60.8" stroke="#777" stroke-width="0.4"/>
<line x1="359.2" y1="59.7" x2="359.2" y2="62.3" stroke="#444" stroke-width="0.6"/>
<text x="359.6" y="66.1" font-size="3.4" text-anchor="end" fill="#222" stroke="#222" stroke-width="0.12">10<tspan font-size="2.4" dy="-1.5">3</tspan></text>
<line x1="351.16" y1="59.7" x2="351.16" y2="60.8" stroke="#777" stroke-width="0.4"/>
<line x1="353.19" y1="59.7" x2="353.19" y2="60.8" stroke="#777" stroke-width="0.4"/>
<line x1="354.62" y1="59.7" x2="354.62" y2="60.8" stroke="#777" stroke-width="0.4"/>
<line x1="355.74" y1="59.7" x2="355.74" y2="60.8" stroke="#777" stroke-width="0.4"/>
<line x1="356.65" y1="59.7" x2="356.65" y2="60.8" stroke="#777" stroke-width="0.4"/>
<line x1="357.42" y1="59.7" x2="357.42" y2="60.8" stroke="#777" stroke-width="0.4"/>
<line x1="358.09" y1="59.7" x2="358.09" y2="60.8" stroke="#777" stroke-width="0.4"/>
<line x1="358.67" y1="59.7" x2="358.67" y2="60.8" stroke="#777" stroke-width="0.4"/>
<line x1="370.7" y1="59.7" x2="370.7" y2="62.3" stroke="#444" stroke-width="0.6"/>
<text x="371.1" y="66.1" font-size="3.4" text-anchor="end" fill="#222" stroke="#222" stroke-width="0.12">10<tspan font-size="2.4" dy="-1.5">4</tspan></text>
<line x1="362.66" y1="59.7" x2="362.66" y2="60.8" stroke="#777" stroke-width="0.4"/>
<line x1="364.69" y1="59.7" x2="364.69" y2="60.8" stroke="#777" stroke-width="0.4"/>
<line x1="366.12" y1="59.7" x2="366.12" y2="60.8" stroke="#777" stroke-width="0.4"/>
<line x1="367.24" y1="59.7" x2="367.24" y2="60.8" stroke="#777" stroke-width="0.4"/>
<line x1="368.15" y1="59.7" x2="368.15" y2="60.8" stroke="#777" stroke-width="0.4"/>
<line x1="368.92" y1="59.7" x2="368.92" y2="60.8" stroke="#777" stroke-width="0.4"/>
<line x1="369.59" y1="59.7" x2="369.59" y2="60.8" stroke="#777" stroke-width="0.4"/>
<line x1="370.17" y1="59.7" x2="370.17" y2="60.8" stroke="#777" stroke-width="0.4"/>
<text x="345.7" y="73.6" font-size="6.5" text-anchor="middle" fill="#111" stroke="#111" stroke-width="0.18">CCR7</text>
</g>
<g>
<path d="M392.4,59.5 C392.74,59.42 393.74,59.17 394.45,59 C395.16,58.83 395.84,58.83 396.66,58.5 C397.48,58.17 398.35,57.69 399.38,57.01 C400.4,56.32 401.8,55.76 402.81,54.41 C403.83,53.06 404.8,50.98 405.48,48.92 C406.17,46.87 406.52,44.36 406.92,42.08 C407.32,39.81 407.61,37.56 407.89,35.3 C408.17,33.04 408.36,30.8 408.61,28.51 C408.86,26.23 409.13,23.63 409.38,21.58 C409.63,19.52 409.71,17.37 410.1,16.19 C410.48,15.01 411.19,14.49 411.69,14.49 C412.18,14.49 412.73,15.01 413.07,16.19 C413.42,17.37 413.4,18.39 413.74,21.58 C414.08,24.76 414.67,30.74 415.13,35.3 C415.58,39.86 416.07,45.74 416.46,48.92 C416.84,52.11 416.98,52.98 417.43,54.41 C417.89,55.84 418.56,56.74 419.18,57.5 C419.79,58.27 420.46,58.67 421.13,59 C421.79,59.33 419.42,59.42 423.18,59.5 C426.94,59.58 440.28,59.5 443.7,59.5 L443.7,59.5 L392.4,59.5 Z" fill="#a8a8a8" stroke="#262626" stroke-width="1.05"/>
<path d="M392.4,9.6 H443.7 V59.5" fill="none" stroke="#999" stroke-width="1.4"/>
<path d="M392.4,9 V59.5 H444.3" fill="none" stroke="#6a6a6a" stroke-width="1.2"/>
<line x1="390.6" y1="59.35" x2="392.4" y2="59.35" stroke="#444" stroke-width="0.6"/>
<text x="390.1" y="60.55" font-size="3.4" text-anchor="end" fill="#222" stroke="#222" stroke-width="0.12">0</text>
<line x1="391.4" y1="54.63" x2="392.4" y2="54.63" stroke="#444" stroke-width="0.6"/>
<line x1="390.6" y1="49.92" x2="392.4" y2="49.92" stroke="#444" stroke-width="0.6"/>
<text x="390.1" y="51.12" font-size="3.4" text-anchor="end" fill="#222" stroke="#222" stroke-width="0.12">20</text>
<line x1="391.4" y1="45.2" x2="392.4" y2="45.2" stroke="#444" stroke-width="0.6"/>
<line x1="390.6" y1="40.49" x2="392.4" y2="40.49" stroke="#444" stroke-width="0.6"/>
<text x="390.1" y="41.69" font-size="3.4" text-anchor="end" fill="#222" stroke="#222" stroke-width="0.12">40</text>
<line x1="391.4" y1="35.77" x2="392.4" y2="35.77" stroke="#444" stroke-width="0.6"/>
<line x1="390.6" y1="31.06" x2="392.4" y2="31.06" stroke="#444" stroke-width="0.6"/>
<text x="390.1" y="32.26" font-size="3.4" text-anchor="end" fill="#222" stroke="#222" stroke-width="0.12">60</text>
<line x1="391.4" y1="26.34" x2="392.4" y2="26.34" stroke="#444" stroke-width="0.6"/>
<line x1="390.6" y1="21.63" x2="392.4" y2="21.63" stroke="#444" stroke-width="0.6"/>
<text x="390.1" y="22.83" font-size="3.4" text-anchor="end" fill="#222" stroke="#222" stroke-width="0.12">80</text>
<line x1="391.4" y1="16.91" x2="392.4" y2="16.91" stroke="#444" stroke-width="0.6"/>
<line x1="390.6" y1="12.2" x2="392.4" y2="12.2" stroke="#444" stroke-width="0.6"/>
<text x="390.1" y="13.4" font-size="3.4" text-anchor="end" fill="#222" stroke="#222" stroke-width="0.12">100</text>
<line x1="397.2" y1="59.5" x2="397.2" y2="62.1" stroke="#444" stroke-width="0.6"/>
<text x="397.6" y="65.9" font-size="3.4" text-anchor="end" fill="#222" stroke="#222" stroke-width="0.12">10<tspan font-size="2.4" dy="-1.5">0</tspan></text>
<line x1="393.74" y1="59.5" x2="393.74" y2="60.6" stroke="#777" stroke-width="0.4"/>
<line x1="394.65" y1="59.5" x2="394.65" y2="60.6" stroke="#777" stroke-width="0.4"/>
<line x1="395.42" y1="59.5" x2="395.42" y2="60.6" stroke="#777" stroke-width="0.4"/>
<line x1="396.09" y1="59.5" x2="396.09" y2="60.6" stroke="#777" stroke-width="0.4"/>
<line x1="396.67" y1="59.5" x2="396.67" y2="60.6" stroke="#777" stroke-width="0.4"/>
<line x1="408.7" y1="59.5" x2="408.7" y2="62.1" stroke="#444" stroke-width="0.6"/>
<text x="409.1" y="65.9" font-size="3.4" text-anchor="end" fill="#222" stroke="#222" stroke-width="0.12">10<tspan font-size="2.4" dy="-1.5">1</tspan></text>
<line x1="400.66" y1="59.5" x2="400.66" y2="60.6" stroke="#777" stroke-width="0.4"/>
<line x1="402.69" y1="59.5" x2="402.69" y2="60.6" stroke="#777" stroke-width="0.4"/>
<line x1="404.12" y1="59.5" x2="404.12" y2="60.6" stroke="#777" stroke-width="0.4"/>
<line x1="405.24" y1="59.5" x2="405.24" y2="60.6" stroke="#777" stroke-width="0.4"/>
<line x1="406.15" y1="59.5" x2="406.15" y2="60.6" stroke="#777" stroke-width="0.4"/>
<line x1="406.92" y1="59.5" x2="406.92" y2="60.6" stroke="#777" stroke-width="0.4"/>
<line x1="407.59" y1="59.5" x2="407.59" y2="60.6" stroke="#777" stroke-width="0.4"/>
<line x1="408.17" y1="59.5" x2="408.17" y2="60.6" stroke="#777" stroke-width="0.4"/>
<line x1="420.2" y1="59.5" x2="420.2" y2="62.1" stroke="#444" stroke-width="0.6"/>
<text x="420.6" y="65.9" font-size="3.4" text-anchor="end" fill="#222" stroke="#222" stroke-width="0.12">10<tspan font-size="2.4" dy="-1.5">2</tspan></text>
<line x1="412.16" y1="59.5" x2="412.16" y2="60.6" stroke="#777" stroke-width="0.4"/>
<line x1="414.19" y1="59.5" x2="414.19" y2="60.6" stroke="#777" stroke-width="0.4"/>
<line x1="415.62" y1="59.5" x2="415.62" y2="60.6" stroke="#777" stroke-width="0.4"/>
<line x1="416.74" y1="59.5" x2="416.74" y2="60.6" stroke="#777" stroke-width="0.4"/>
<line x1="417.65" y1="59.5" x2="417.65" y2="60.6" stroke="#777" stroke-width="0.4"/>
<line x1="418.42" y1="59.5" x2="418.42" y2="60.6" stroke="#777" stroke-width="0.4"/>
<line x1="419.09" y1="59.5" x2="419.09" y2="60.6" stroke="#777" stroke-width="0.4"/>
<line x1="419.67" y1="59.5" x2="419.67" y2="60.6" stroke="#777" stroke-width="0.4"/>
<line x1="431.7" y1="59.5" x2="431.7" y2="62.1" stroke="#444" stroke-width="0.6"/>
<text x="432.1" y="65.9" font-size="3.4" text-anchor="end" fill="#222" stroke="#222" stroke-width="0.12">10<tspan font-size="2.4" dy="-1.5">3</tspan></text>
<line x1="423.66" y1="59.5" x2="423.66" y2="60.6" stroke="#777" stroke-width="0.4"/>
<line x1="425.69" y1="59.5" x2="425.69" y2="60.6" stroke="#777" stroke-width="0.4"/>
<line x1="427.12" y1="59.5" x2="427.12" y2="60.6" stroke="#777" stroke-width="0.4"/>
<line x1="428.24" y1="59.5" x2="428.24" y2="60.6" stroke="#777" stroke-width="0.4"/>
<line x1="429.15" y1="59.5" x2="429.15" y2="60.6" stroke="#777" stroke-width="0.4"/>
<line x1="429.92" y1="59.5" x2="429.92" y2="60.6" stroke="#777" stroke-width="0.4"/>
<line x1="430.59" y1="59.5" x2="430.59" y2="60.6" stroke="#777" stroke-width="0.4"/>
<line x1="431.17" y1="59.5" x2="431.17" y2="60.6" stroke="#777" stroke-width="0.4"/>
<line x1="443.2" y1="59.5" x2="443.2" y2="62.1" stroke="#444" stroke-width="0.6"/>
<text x="443.6" y="65.9" font-size="3.4" text-anchor="end" fill="#222" stroke="#222" stroke-width="0.12">10<tspan font-size="2.4" dy="-1.5">4</tspan></text>
<line x1="435.16" y1="59.5" x2="435.16" y2="60.6" stroke="#777" stroke-width="0.4"/>
<line x1="437.19" y1="59.5" x2="437.19" y2="60.6" stroke="#777" stroke-width="0.4"/>
<line x1="438.62" y1="59.5" x2="438.62" y2="60.6" stroke="#777" stroke-width="0.4"/>
<line x1="439.74" y1="59.5" x2="439.74" y2="60.6" stroke="#777" stroke-width="0.4"/>
<line x1="440.65" y1="59.5" x2="440.65" y2="60.6" stroke="#777" stroke-width="0.4"/>
<line x1="441.42" y1="59.5" x2="441.42" y2="60.6" stroke="#777" stroke-width="0.4"/>
<line x1="442.09" y1="59.5" x2="442.09" y2="60.6" stroke="#777" stroke-width="0.4"/>
<line x1="442.67" y1="59.5" x2="442.67" y2="60.6" stroke="#777" stroke-width="0.4"/>
<text x="422.3" y="73.6" font-size="6.5" text-anchor="middle" fill="#111" stroke="#111" stroke-width="0.18">CXCR3</text>
</g>
<g>
<path d="M465.9,53.41 C466,53.36 466.03,53.51 466.52,53.11 C467,52.71 467.99,52.05 468.82,51.01 C469.65,49.98 470.66,48.74 471.49,46.92 C472.32,45.1 473.12,42.36 473.8,40.09 C474.48,37.82 475,35.57 475.6,33.3 C476.19,31.03 476.83,28.74 477.39,26.46 C477.96,24.19 478.53,21.22 478.98,19.63 C479.43,18.04 479.73,17.66 480.11,16.93 C480.49,16.21 480.85,15.29 481.29,15.29 C481.73,15.29 482.43,16.21 482.78,16.93 C483.13,17.66 483.17,18.04 483.39,19.63 C483.62,21.22 483.86,24.19 484.11,26.46 C484.36,28.74 484.63,31.03 484.88,33.3 C485.13,35.57 485.38,37.82 485.6,40.09 C485.82,42.36 486,44.95 486.21,46.92 C486.43,48.89 486.6,50.5 486.88,51.91 C487.16,53.33 487.52,54.41 487.91,55.41 C488.29,56.4 488.58,57.4 489.19,57.9 C489.8,58.4 486.88,58.32 491.55,58.4 C496.22,58.48 512.93,58.4 517.2,58.4 L517.2,58.4 L465.9,58.4 Z" fill="#a8a8a8" stroke="#262626" stroke-width="1.05"/>
<path d="M465.9,8.5 H517.2 V58.4" fill="none" stroke="#999" stroke-width="1.4"/>
<path d="M465.9,7.9 V58.4 H517.8" fill="none" stroke="#6a6a6a" stroke-width="1.2"/>
<line x1="464.1" y1="58.25" x2="465.9" y2="58.25" stroke="#444" stroke-width="0.6"/>
<text x="463.6" y="59.45" font-size="3.4" text-anchor="end" fill="#222" stroke="#222" stroke-width="0.12">0</text>
<line x1="464.9" y1="53.53" x2="465.9" y2="53.53" stroke="#444" stroke-width="0.6"/>
<line x1="464.1" y1="48.82" x2="465.9" y2="48.82" stroke="#444" stroke-width="0.6"/>
<text x="463.6" y="50.02" font-size="3.4" text-anchor="end" fill="#222" stroke="#222" stroke-width="0.12">20</text>
<line x1="464.9" y1="44.11" x2="465.9" y2="44.11" stroke="#444" stroke-width="0.6"/>
<line x1="464.1" y1="39.39" x2="465.9" y2="39.39" stroke="#444" stroke-width="0.6"/>
<text x="463.6" y="40.59" font-size="3.4" text-anchor="end" fill="#222" stroke="#222" stroke-width="0.12">40</text>
<line x1="464.9" y1="34.67" x2="465.9" y2="34.67" stroke="#444" stroke-width="0.6"/>
<line x1="464.1" y1="29.96" x2="465.9" y2="29.96" stroke="#444" stroke-width="0.6"/>
<text x="463.6" y="31.16" font-size="3.4" text-anchor="end" fill="#222" stroke="#222" stroke-width="0.12">60</text>
<line x1="464.9" y1="25.24" x2="465.9" y2="25.24" stroke="#444" stroke-width="0.6"/>
<line x1="464.1" y1="20.53" x2="465.9" y2="20.53" stroke="#444" stroke-width="0.6"/>
<text x="463.6" y="21.73" font-size="3.4" text-anchor="end" fill="#222" stroke="#222" stroke-width="0.12">80</text>
<line x1="464.9" y1="15.81" x2="465.9" y2="15.81" stroke="#444" stroke-width="0.6"/>
<line x1="464.1" y1="11.1" x2="465.9" y2="11.1" stroke="#444" stroke-width="0.6"/>
<text x="463.6" y="12.3" font-size="3.4" text-anchor="end" fill="#222" stroke="#222" stroke-width="0.12">100</text>
<line x1="470.7" y1="58.4" x2="470.7" y2="61" stroke="#444" stroke-width="0.6"/>
<text x="471.1" y="64.8" font-size="3.4" text-anchor="end" fill="#222" stroke="#222" stroke-width="0.12">10<tspan font-size="2.4" dy="-1.5">0</tspan></text>
<line x1="467.24" y1="58.4" x2="467.24" y2="59.5" stroke="#777" stroke-width="0.4"/>
<line x1="468.15" y1="58.4" x2="468.15" y2="59.5" stroke="#777" stroke-width="0.4"/>
<line x1="468.92" y1="58.4" x2="468.92" y2="59.5" stroke="#777" stroke-width="0.4"/>
<line x1="469.59" y1="58.4" x2="469.59" y2="59.5" stroke="#777" stroke-width="0.4"/>
<line x1="470.17" y1="58.4" x2="470.17" y2="59.5" stroke="#777" stroke-width="0.4"/>
<line x1="482.2" y1="58.4" x2="482.2" y2="61" stroke="#444" stroke-width="0.6"/>
<text x="482.6" y="64.8" font-size="3.4" text-anchor="end" fill="#222" stroke="#222" stroke-width="0.12">10<tspan font-size="2.4" dy="-1.5">1</tspan></text>
<line x1="474.16" y1="58.4" x2="474.16" y2="59.5" stroke="#777" stroke-width="0.4"/>
<line x1="476.19" y1="58.4" x2="476.19" y2="59.5" stroke="#777" stroke-width="0.4"/>
<line x1="477.62" y1="58.4" x2="477.62" y2="59.5" stroke="#777" stroke-width="0.4"/>
<line x1="478.74" y1="58.4" x2="478.74" y2="59.5" stroke="#777" stroke-width="0.4"/>
<line x1="479.65" y1="58.4" x2="479.65" y2="59.5" stroke="#777" stroke-width="0.4"/>
<line x1="480.42" y1="58.4" x2="480.42" y2="59.5" stroke="#777" stroke-width="0.4"/>
<line x1="481.09" y1="58.4" x2="481.09" y2="59.5" stroke="#777" stroke-width="0.4"/>
<line x1="481.67" y1="58.4" x2="481.67" y2="59.5" stroke="#777" stroke-width="0.4"/>
<line x1="493.7" y1="58.4" x2="493.7" y2="61" stroke="#444" stroke-width="0.6"/>
<text x="494.1" y="64.8" font-size="3.4" text-anchor="end" fill="#222" stroke="#222" stroke-width="0.12">10<tspan font-size="2.4" dy="-1.5">2</tspan></text>
<line x1="485.66" y1="58.4" x2="485.66" y2="59.5" stroke="#777" stroke-width="0.4"/>
<line x1="487.69" y1="58.4" x2="487.69" y2="59.5" stroke="#777" stroke-width="0.4"/>
<line x1="489.12" y1="58.4" x2="489.12" y2="59.5" stroke="#777" stroke-width="0.4"/>
<line x1="490.24" y1="58.4" x2="490.24" y2="59.5" stroke="#777" stroke-width="0.4"/>
<line x1="491.15" y1="58.4" x2="491.15" y2="59.5" stroke="#777" stroke-width="0.4"/>
<line x1="491.92" y1="58.4" x2="491.92" y2="59.5" stroke="#777" stroke-width="0.4"/>
<line x1="492.59" y1="58.4" x2="492.59" y2="59.5" stroke="#777" stroke-width="0.4"/>
<line x1="493.17" y1="58.4" x2="493.17" y2="59.5" stroke="#777" stroke-width="0.4"/>
<line x1="505.2" y1="58.4" x2="505.2" y2="61" stroke="#444" stroke-width="0.6"/>
<text x="505.6" y="64.8" font-size="3.4" text-anchor="end" fill="#222" stroke="#222" stroke-width="0.12">10<tspan font-size="2.4" dy="-1.5">3</tspan></text>
<line x1="497.16" y1="58.4" x2="497.16" y2="59.5" stroke="#777" stroke-width="0.4"/>
<line x1="499.19" y1="58.4" x2="499.19" y2="59.5" stroke="#777" stroke-width="0.4"/>
<line x1="500.62" y1="58.4" x2="500.62" y2="59.5" stroke="#777" stroke-width="0.4"/>
<line x1="501.74" y1="58.4" x2="501.74" y2="59.5" stroke="#777" stroke-width="0.4"/>
<line x1="502.65" y1="58.4" x2="502.65" y2="59.5" stroke="#777" stroke-width="0.4"/>
<line x1="503.42" y1="58.4" x2="503.42" y2="59.5" stroke="#777" stroke-width="0.4"/>
<line x1="504.09" y1="58.4" x2="504.09" y2="59.5" stroke="#777" stroke-width="0.4"/>
<line x1="504.67" y1="58.4" x2="504.67" y2="59.5" stroke="#777" stroke-width="0.4"/>
<line x1="516.7" y1="58.4" x2="516.7" y2="61" stroke="#444" stroke-width="0.6"/>
<text x="517.1" y="64.8" font-size="3.4" text-anchor="end" fill="#222" stroke="#222" stroke-width="0.12">10<tspan font-size="2.4" dy="-1.5">4</tspan></text>
<line x1="508.66" y1="58.4" x2="508.66" y2="59.5" stroke="#777" stroke-width="0.4"/>
<line x1="510.69" y1="58.4" x2="510.69" y2="59.5" stroke="#777" stroke-width="0.4"/>
<line x1="512.12" y1="58.4" x2="512.12" y2="59.5" stroke="#777" stroke-width="0.4"/>
<line x1="513.24" y1="58.4" x2="513.24" y2="59.5" stroke="#777" stroke-width="0.4"/>
<line x1="514.15" y1="58.4" x2="514.15" y2="59.5" stroke="#777" stroke-width="0.4"/>
<line x1="514.92" y1="58.4" x2="514.92" y2="59.5" stroke="#777" stroke-width="0.4"/>
<line x1="515.59" y1="58.4" x2="515.59" y2="59.5" stroke="#777" stroke-width="0.4"/>
<line x1="516.17" y1="58.4" x2="516.17" y2="59.5" stroke="#777" stroke-width="0.4"/>
<text x="492" y="73.6" font-size="6.5" text-anchor="middle" fill="#111" stroke="#111" stroke-width="0.18">CCR5</text>
</g>
<g>
<path d="M25.5,133.6 C28.13,133.6 38.41,133.85 41.28,133.6 C44.15,133.35 42.05,132.69 42.7,132.1 C43.35,131.52 44.49,131.47 45.17,130.11 C45.86,128.74 46.29,127.22 46.8,123.92 C47.31,120.62 47.81,114.85 48.22,110.3 C48.64,105.74 48.94,100.11 49.28,96.57 C49.61,93.04 49.92,89.09 50.22,89.09 C50.53,89.09 50.78,93.04 51.12,96.57 C51.45,100.11 51.84,105.74 52.22,110.3 C52.6,114.85 53.05,120.62 53.38,123.92 C53.7,127.22 53.9,128.66 54.17,130.11 C54.43,131.55 54.47,132.02 54.96,132.6 C55.44,133.18 56.71,133.43 57.06,133.6 L57.06,133.6 L25.5,133.6 Z" fill="#ffffff" stroke="#444" stroke-width="0.75"/>
<path d="M46.54,133.6 C46.8,133.52 47.59,133.68 48.12,133.1 C48.64,132.52 49.28,131.64 49.7,130.11 C50.11,128.58 50.34,127.22 50.59,123.92 C50.84,120.62 50.98,114.85 51.17,110.3 C51.36,105.74 51.51,100.34 51.75,96.57 C51.98,92.81 52.31,87.69 52.59,87.69 C52.87,87.69 53.16,92.81 53.43,96.57 C53.7,100.34 53.97,105.74 54.22,110.3 C54.47,114.85 54.68,120.62 54.96,123.92 C55.23,127.22 55.41,128.58 55.85,130.11 C56.29,131.64 57.03,132.52 57.59,133.1 C58.14,133.68 58.9,133.52 59.16,133.6 L59.16,133.6 L46.54,133.6 Z" fill="#9a9a9a" stroke="#3a3a3a" stroke-width="0.8"/>
<path d="M25.5,83.7 H78.1 V133.6" fill="none" stroke="#999" stroke-width="1.4"/>
<path d="M25.5,83.1 V133.6 H78.7" fill="none" stroke="#6a6a6a" stroke-width="1.2"/>
<line x1="23.7" y1="133.45" x2="25.5" y2="133.45" stroke="#444" stroke-width="0.6"/>
<text x="23.2" y="134.65" font-size="3.4" text-anchor="end" fill="#222" stroke="#222" stroke-width="0.12">0</text>
<line x1="24.5" y1="128.73" x2="25.5" y2="128.73" stroke="#444" stroke-width="0.6"/>
<line x1="23.7" y1="124.02" x2="25.5" y2="124.02" stroke="#444" stroke-width="0.6"/>
<text x="23.2" y="125.22" font-size="3.4" text-anchor="end" fill="#222" stroke="#222" stroke-width="0.12">20</text>
<line x1="24.5" y1="119.3" x2="25.5" y2="119.3" stroke="#444" stroke-width="0.6"/>
<line x1="23.7" y1="114.59" x2="25.5" y2="114.59" stroke="#444" stroke-width="0.6"/>
<text x="23.2" y="115.79" font-size="3.4" text-anchor="end" fill="#222" stroke="#222" stroke-width="0.12">40</text>
<line x1="24.5" y1="109.88" x2="25.5" y2="109.88" stroke="#444" stroke-width="0.6"/>
<line x1="23.7" y1="105.16" x2="25.5" y2="105.16" stroke="#444" stroke-width="0.6"/>
<text x="23.2" y="106.36" font-size="3.4" text-anchor="end" fill="#222" stroke="#222" stroke-width="0.12">60</text>
<line x1="24.5" y1="100.44" x2="25.5" y2="100.44" stroke="#444" stroke-width="0.6"/>
<line x1="23.7" y1="95.73" x2="25.5" y2="95.73" stroke="#444" stroke-width="0.6"/>
<text x="23.2" y="96.93" font-size="3.4" text-anchor="end" fill="#222" stroke="#222" stroke-width="0.12">80</text>
<line x1="24.5" y1="91.02" x2="25.5" y2="91.02" stroke="#444" stroke-width="0.6"/>
<line x1="23.7" y1="86.3" x2="25.5" y2="86.3" stroke="#444" stroke-width="0.6"/>
<text x="23.2" y="87.5" font-size="3.4" text-anchor="end" fill="#222" stroke="#222" stroke-width="0.12">100</text>
<line x1="31.6" y1="133.6" x2="31.6" y2="136.2" stroke="#444" stroke-width="0.6"/>
<text x="32" y="140" font-size="3.4" text-anchor="end" fill="#222" stroke="#222" stroke-width="0.12">10<tspan font-size="2.4" dy="-1.5">0</tspan></text>
<line x1="27.02" y1="133.6" x2="27.02" y2="134.7" stroke="#777" stroke-width="0.4"/>
<line x1="28.14" y1="133.6" x2="28.14" y2="134.7" stroke="#777" stroke-width="0.4"/>
<line x1="29.05" y1="133.6" x2="29.05" y2="134.7" stroke="#777" stroke-width="0.4"/>
<line x1="29.82" y1="133.6" x2="29.82" y2="134.7" stroke="#777" stroke-width="0.4"/>
<line x1="30.49" y1="133.6" x2="30.49" y2="134.7" stroke="#777" stroke-width="0.4"/>
<line x1="31.07" y1="133.6" x2="31.07" y2="134.7" stroke="#777" stroke-width="0.4"/>
<line x1="43.1" y1="133.6" x2="43.1" y2="136.2" stroke="#444" stroke-width="0.6"/>
<text x="43.5" y="140" font-size="3.4" text-anchor="end" fill="#222" stroke="#222" stroke-width="0.12">10<tspan font-size="2.4" dy="-1.5">1</tspan></text>
<line x1="35.06" y1="133.6" x2="35.06" y2="134.7" stroke="#777" stroke-width="0.4"/>
<line x1="37.09" y1="133.6" x2="37.09" y2="134.7" stroke="#777" stroke-width="0.4"/>
<line x1="38.52" y1="133.6" x2="38.52" y2="134.7" stroke="#777" stroke-width="0.4"/>
<line x1="39.64" y1="133.6" x2="39.64" y2="134.7" stroke="#777" stroke-width="0.4"/>
<line x1="40.55" y1="133.6" x2="40.55" y2="134.7" stroke="#777" stroke-width="0.4"/>
<line x1="41.32" y1="133.6" x2="41.32" y2="134.7" stroke="#777" stroke-width="0.4"/>
<line x1="41.99" y1="133.6" x2="41.99" y2="134.7" stroke="#777" stroke-width="0.4"/>
<line x1="42.57" y1="133.6" x2="42.57" y2="134.7" stroke="#777" stroke-width="0.4"/>
<line x1="54.6" y1="133.6" x2="54.6" y2="136.2" stroke="#444" stroke-width="0.6"/>
<text x="55" y="140" font-size="3.4" text-anchor="end" fill="#222" stroke="#222" stroke-width="0.12">10<tspan font-size="2.4" dy="-1.5">2</tspan></text>
<line x1="46.56" y1="133.6" x2="46.56" y2="134.7" stroke="#777" stroke-width="0.4"/>
<line x1="48.59" y1="133.6" x2="48.59" y2="134.7" stroke="#777" stroke-width="0.4"/>
<line x1="50.02" y1="133.6" x2="50.02" y2="134.7" stroke="#777" stroke-width="0.4"/>
<line x1="51.14" y1="133.6" x2="51.14" y2="134.7" stroke="#777" stroke-width="0.4"/>
<line x1="52.05" y1="133.6" x2="52.05" y2="134.7" stroke="#777" stroke-width="0.4"/>
<line x1="52.82" y1="133.6" x2="52.82" y2="134.7" stroke="#777" stroke-width="0.4"/>
<line x1="53.49" y1="133.6" x2="53.49" y2="134.7" stroke="#777" stroke-width="0.4"/>
<line x1="54.07" y1="133.6" x2="54.07" y2="134.7" stroke="#777" stroke-width="0.4"/>
<line x1="66.1" y1="133.6" x2="66.1" y2="136.2" stroke="#444" stroke-width="0.6"/>
<text x="66.5" y="140" font-size="3.4" text-anchor="end" fill="#222" stroke="#222" stroke-width="0.12">10<tspan font-size="2.4" dy="-1.5">3</tspan></text>
<line x1="58.06" y1="133.6" x2="58.06" y2="134.7" stroke="#777" stroke-width="0.4"/>
<line x1="60.09" y1="133.6" x2="60.09" y2="134.7" stroke="#777" stroke-width="0.4"/>
<line x1="61.52" y1="133.6" x2="61.52" y2="134.7" stroke="#777" stroke-width="0.4"/>
<line x1="62.64" y1="133.6" x2="62.64" y2="134.7" stroke="#777" stroke-width="0.4"/>
<line x1="63.55" y1="133.6" x2="63.55" y2="134.7" stroke="#777" stroke-width="0.4"/>
<line x1="64.32" y1="133.6" x2="64.32" y2="134.7" stroke="#777" stroke-width="0.4"/>
<line x1="64.99" y1="133.6" x2="64.99" y2="134.7" stroke="#777" stroke-width="0.4"/>
<line x1="65.57" y1="133.6" x2="65.57" y2="134.7" stroke="#777" stroke-width="0.4"/>
<line x1="77.6" y1="133.6" x2="77.6" y2="136.2" stroke="#444" stroke-width="0.6"/>
<text x="78" y="140" font-size="3.4" text-anchor="end" fill="#222" stroke="#222" stroke-width="0.12">10<tspan font-size="2.4" dy="-1.5">4</tspan></text>
<line x1="69.56" y1="133.6" x2="69.56" y2="134.7" stroke="#777" stroke-width="0.4"/>
<line x1="71.59" y1="133.6" x2="71.59" y2="134.7" stroke="#777" stroke-width="0.4"/>
<line x1="73.02" y1="133.6" x2="73.02" y2="134.7" stroke="#777" stroke-width="0.4"/>
<line x1="74.14" y1="133.6" x2="74.14" y2="134.7" stroke="#777" stroke-width="0.4"/>
<line x1="75.05" y1="133.6" x2="75.05" y2="134.7" stroke="#777" stroke-width="0.4"/>
<line x1="75.82" y1="133.6" x2="75.82" y2="134.7" stroke="#777" stroke-width="0.4"/>
<line x1="76.49" y1="133.6" x2="76.49" y2="134.7" stroke="#777" stroke-width="0.4"/>
<line x1="77.07" y1="133.6" x2="77.07" y2="134.7" stroke="#777" stroke-width="0.4"/>
<text x="53" y="149.3" font-size="6.5" text-anchor="middle" fill="#111" stroke="#111" stroke-width="0.18">2B4</text>
<text transform="translate(14.4,108.65) rotate(-90)" font-size="4.8" text-anchor="middle" fill="#222" stroke="#222" stroke-width="0.15">% of Max</text>
</g>
<g>
<path d="M99.9,127.01 C100.04,126.96 100.36,127.25 100.73,126.71 C101.1,126.18 101.65,124.51 102.12,123.82 C102.58,123.13 102.88,123.69 103.51,122.57 C104.14,121.45 105.17,119.13 105.89,117.08 C106.6,115.04 107.24,112.56 107.79,110.3 C108.35,108.03 108.72,105.79 109.19,103.51 C109.65,101.23 110.28,98 110.58,96.62 C110.88,95.25 110.75,95.62 110.99,95.28 C111.23,94.94 111.69,95.26 112.03,94.58 C112.36,93.9 112.68,92.1 113.01,91.18 C113.33,90.27 113.63,89.09 113.99,89.09 C114.34,89.09 114.84,89.93 115.12,91.18 C115.41,92.44 115.47,94.57 115.69,96.62 C115.9,98.68 116.18,101.23 116.41,103.51 C116.64,105.79 116.86,108.03 117.08,110.3 C117.31,112.56 117.52,114.83 117.75,117.08 C117.99,119.34 118.17,121.81 118.48,123.82 C118.78,125.83 119.1,127.96 119.56,129.16 C120.02,130.36 120.26,130.53 121.21,131 C122.17,131.48 124.11,131.67 125.29,132 C126.47,132.34 126.92,132.75 128.28,133 C129.64,133.25 129.57,133.42 133.44,133.5 C137.31,133.58 148.49,133.5 151.5,133.5 L151.5,133.5 L99.9,133.5 Z" fill="#a8a8a8" stroke="#262626" stroke-width="1.05"/>
<path d="M99.9,83.6 H151.5 V133.5" fill="none" stroke="#999" stroke-width="1.4"/>
<path d="M99.9,83 V133.5 H152.1" fill="none" stroke="#6a6a6a" stroke-width="1.2"/>
<line x1="98.1" y1="133.35" x2="99.9" y2="133.35" stroke="#444" stroke-width="0.6"/>
<text x="97.6" y="134.55" font-size="3.4" text-anchor="end" fill="#222" stroke="#222" stroke-width="0.12">0</text>
<line x1="98.9" y1="128.63" x2="99.9" y2="128.63" stroke="#444" stroke-width="0.6"/>
<line x1="98.1" y1="123.92" x2="99.9" y2="123.92" stroke="#444" stroke-width="0.6"/>
<text x="97.6" y="125.12" font-size="3.4" text-anchor="end" fill="#222" stroke="#222" stroke-width="0.12">20</text>
<line x1="98.9" y1="119.2" x2="99.9" y2="119.2" stroke="#444" stroke-width="0.6"/>
<line x1="98.1" y1="114.49" x2="99.9" y2="114.49" stroke="#444" stroke-width="0.6"/>
<text x="97.6" y="115.69" font-size="3.4" text-anchor="end" fill="#222" stroke="#222" stroke-width="0.12">40</text>
<line x1="98.9" y1="109.77" x2="99.9" y2="109.77" stroke="#444" stroke-width="0.6"/>
<line x1="98.1" y1="105.06" x2="99.9" y2="105.06" stroke="#444" stroke-width="0.6"/>
<text x="97.6" y="106.26" font-size="3.4" text-anchor="end" fill="#222" stroke="#222" stroke-width="0.12">60</text>
<line x1="98.9" y1="100.34" x2="99.9" y2="100.34" stroke="#444" stroke-width="0.6"/>
<line x1="98.1" y1="95.63" x2="99.9" y2="95.63" stroke="#444" stroke-width="0.6"/>
<text x="97.6" y="96.83" font-size="3.4" text-anchor="end" fill="#222" stroke="#222" stroke-width="0.12">80</text>
<line x1="98.9" y1="90.91" x2="99.9" y2="90.91" stroke="#444" stroke-width="0.6"/>
<line x1="98.1" y1="86.2" x2="99.9" y2="86.2" stroke="#444" stroke-width="0.6"/>
<text x="97.6" y="87.4" font-size="3.4" text-anchor="end" fill="#222" stroke="#222" stroke-width="0.12">100</text>
<line x1="105" y1="133.5" x2="105" y2="136.1" stroke="#444" stroke-width="0.6"/>
<text x="105.4" y="139.9" font-size="3.4" text-anchor="end" fill="#222" stroke="#222" stroke-width="0.12">10<tspan font-size="2.4" dy="-1.5">0</tspan></text>
<line x1="100.42" y1="133.5" x2="100.42" y2="134.6" stroke="#777" stroke-width="0.4"/>
<line x1="101.54" y1="133.5" x2="101.54" y2="134.6" stroke="#777" stroke-width="0.4"/>
<line x1="102.45" y1="133.5" x2="102.45" y2="134.6" stroke="#777" stroke-width="0.4"/>
<line x1="103.22" y1="133.5" x2="103.22" y2="134.6" stroke="#777" stroke-width="0.4"/>
<line x1="103.89" y1="133.5" x2="103.89" y2="134.6" stroke="#777" stroke-width="0.4"/>
<line x1="104.47" y1="133.5" x2="104.47" y2="134.6" stroke="#777" stroke-width="0.4"/>
<line x1="116.5" y1="133.5" x2="116.5" y2="136.1" stroke="#444" stroke-width="0.6"/>
<text x="116.9" y="139.9" font-size="3.4" text-anchor="end" fill="#222" stroke="#222" stroke-width="0.12">10<tspan font-size="2.4" dy="-1.5">1</tspan></text>
<line x1="108.46" y1="133.5" x2="108.46" y2="134.6" stroke="#777" stroke-width="0.4"/>
<line x1="110.49" y1="133.5" x2="110.49" y2="134.6" stroke="#777" stroke-width="0.4"/>
<line x1="111.92" y1="133.5" x2="111.92" y2="134.6" stroke="#777" stroke-width="0.4"/>
<line x1="113.04" y1="133.5" x2="113.04" y2="134.6" stroke="#777" stroke-width="0.4"/>
<line x1="113.95" y1="133.5" x2="113.95" y2="134.6" stroke="#777" stroke-width="0.4"/>
<line x1="114.72" y1="133.5" x2="114.72" y2="134.6" stroke="#777" stroke-width="0.4"/>
<line x1="115.39" y1="133.5" x2="115.39" y2="134.6" stroke="#777" stroke-width="0.4"/>
<line x1="115.97" y1="133.5" x2="115.97" y2="134.6" stroke="#777" stroke-width="0.4"/>
<line x1="128" y1="133.5" x2="128" y2="136.1" stroke="#444" stroke-width="0.6"/>
<text x="128.4" y="139.9" font-size="3.4" text-anchor="end" fill="#222" stroke="#222" stroke-width="0.12">10<tspan font-size="2.4" dy="-1.5">2</tspan></text>
<line x1="119.96" y1="133.5" x2="119.96" y2="134.6" stroke="#777" stroke-width="0.4"/>
<line x1="121.99" y1="133.5" x2="121.99" y2="134.6" stroke="#777" stroke-width="0.4"/>
<line x1="123.42" y1="133.5" x2="123.42" y2="134.6" stroke="#777" stroke-width="0.4"/>
<line x1="124.54" y1="133.5" x2="124.54" y2="134.6" stroke="#777" stroke-width="0.4"/>
<line x1="125.45" y1="133.5" x2="125.45" y2="134.6" stroke="#777" stroke-width="0.4"/>
<line x1="126.22" y1="133.5" x2="126.22" y2="134.6" stroke="#777" stroke-width="0.4"/>
<line x1="126.89" y1="133.5" x2="126.89" y2="134.6" stroke="#777" stroke-width="0.4"/>
<line x1="127.47" y1="133.5" x2="127.47" y2="134.6" stroke="#777" stroke-width="0.4"/>
<line x1="139.5" y1="133.5" x2="139.5" y2="136.1" stroke="#444" stroke-width="0.6"/>
<text x="139.9" y="139.9" font-size="3.4" text-anchor="end" fill="#222" stroke="#222" stroke-width="0.12">10<tspan font-size="2.4" dy="-1.5">3</tspan></text>
<line x1="131.46" y1="133.5" x2="131.46" y2="134.6" stroke="#777" stroke-width="0.4"/>
<line x1="133.49" y1="133.5" x2="133.49" y2="134.6" stroke="#777" stroke-width="0.4"/>
<line x1="134.92" y1="133.5" x2="134.92" y2="134.6" stroke="#777" stroke-width="0.4"/>
<line x1="136.04" y1="133.5" x2="136.04" y2="134.6" stroke="#777" stroke-width="0.4"/>
<line x1="136.95" y1="133.5" x2="136.95" y2="134.6" stroke="#777" stroke-width="0.4"/>
<line x1="137.72" y1="133.5" x2="137.72" y2="134.6" stroke="#777" stroke-width="0.4"/>
<line x1="138.39" y1="133.5" x2="138.39" y2="134.6" stroke="#777" stroke-width="0.4"/>
<line x1="138.97" y1="133.5" x2="138.97" y2="134.6" stroke="#777" stroke-width="0.4"/>
<line x1="151" y1="133.5" x2="151" y2="136.1" stroke="#444" stroke-width="0.6"/>
<text x="151.4" y="139.9" font-size="3.4" text-anchor="end" fill="#222" stroke="#222" stroke-width="0.12">10<tspan font-size="2.4" dy="-1.5">4</tspan></text>
<line x1="142.96" y1="133.5" x2="142.96" y2="134.6" stroke="#777" stroke-width="0.4"/>
<line x1="144.99" y1="133.5" x2="144.99" y2="134.6" stroke="#777" stroke-width="0.4"/>
<line x1="146.42" y1="133.5" x2="146.42" y2="134.6" stroke="#777" stroke-width="0.4"/>
<line x1="147.54" y1="133.5" x2="147.54" y2="134.6" stroke="#777" stroke-width="0.4"/>
<line x1="148.45" y1="133.5" x2="148.45" y2="134.6" stroke="#777" stroke-width="0.4"/>
<line x1="149.22" y1="133.5" x2="149.22" y2="134.6" stroke="#777" stroke-width="0.4"/>
<line x1="149.89" y1="133.5" x2="149.89" y2="134.6" stroke="#777" stroke-width="0.4"/>
<line x1="150.47" y1="133.5" x2="150.47" y2="134.6" stroke="#777" stroke-width="0.4"/>
<text x="121.9" y="149.3" font-size="6.5" text-anchor="middle" fill="#111" stroke="#111" stroke-width="0.18">IL-23R</text>
</g>
<g>
<path d="M173,133.7 C173.68,133.62 175.91,133.53 177.1,133.2 C178.3,132.87 179.46,132.12 180.18,131.7 C180.9,131.29 180.76,131.32 181.41,130.71 C182.06,130.09 183.18,129.14 184.08,128.01 C184.98,126.88 185.94,125.74 186.8,123.92 C187.66,122.1 188.58,119.35 189.26,117.08 C189.95,114.81 190.45,112.56 190.9,110.3 C191.36,108.03 191.63,105.79 191.98,103.51 C192.33,101.23 192.55,99.03 193.01,96.62 C193.46,94.22 194.19,89.98 194.7,89.09 C195.21,88.2 195.6,90.03 196.09,91.28 C196.57,92.54 197.2,93.46 197.62,96.62 C198.05,99.79 198.31,105.75 198.65,110.3 C198.99,114.85 199.29,120.6 199.68,123.92 C200.06,127.24 200.53,128.74 200.96,130.21 C201.39,131.67 201.77,132.12 202.24,132.7 C202.71,133.28 203.52,133.53 203.78,133.7 L203.78,133.7 L173,133.7 Z" fill="#ffffff" stroke="#333" stroke-width="0.8"/>
<path d="M178.13,133.7 C178.47,133.62 179.19,133.53 180.18,133.2 C181.17,132.87 182.63,132.4 184.08,131.7 C185.53,131.01 187.65,130.31 188.9,129.01 C190.16,127.71 190.84,127.04 191.62,123.92 C192.41,120.8 193.11,114.85 193.62,110.3 C194.14,105.75 194.38,100.04 194.7,96.62 C195.02,93.21 195.29,91.09 195.57,89.79 C195.85,88.48 195.99,87.65 196.39,88.79 C196.79,89.93 197.53,93.04 197.98,96.62 C198.44,100.21 198.74,105.75 199.11,110.3 C199.48,114.85 199.86,120.8 200.19,123.92 C200.52,127.04 200.73,127.71 201.11,129.01 C201.5,130.31 201.92,131.01 202.5,131.7 C203.08,132.4 203.96,132.87 204.6,133.2 C205.24,133.53 206.05,133.62 206.34,133.7 L206.34,133.7 L178.13,133.7 Z" fill="#a0a0a0" stroke="#333" stroke-width="0.85"/>
<path d="M173,83.8 H224.3 V133.7" fill="none" stroke="#999" stroke-width="1.4"/>
<path d="M173,83.2 V133.7 H224.9" fill="none" stroke="#6a6a6a" stroke-width="1.2"/>
<line x1="171.2" y1="133.55" x2="173" y2="133.55" stroke="#444" stroke-width="0.6"/>
<text x="170.7" y="134.75" font-size="3.4" text-anchor="end" fill="#222" stroke="#222" stroke-width="0.12">0</text>
<line x1="172" y1="128.83" x2="173" y2="128.83" stroke="#444" stroke-width="0.6"/>
<line x1="171.2" y1="124.12" x2="173" y2="124.12" stroke="#444" stroke-width="0.6"/>
<text x="170.7" y="125.32" font-size="3.4" text-anchor="end" fill="#222" stroke="#222" stroke-width="0.12">20</text>
<line x1="172" y1="119.4" x2="173" y2="119.4" stroke="#444" stroke-width="0.6"/>
<line x1="171.2" y1="114.69" x2="173" y2="114.69" stroke="#444" stroke-width="0.6"/>
<text x="170.7" y="115.89" font-size="3.4" text-anchor="end" fill="#222" stroke="#222" stroke-width="0.12">40</text>
<line x1="172" y1="109.97" x2="173" y2="109.97" stroke="#444" stroke-width="0.6"/>
<line x1="171.2" y1="105.26" x2="173" y2="105.26" stroke="#444" stroke-width="0.6"/>
<text x="170.7" y="106.46" font-size="3.4" text-anchor="end" fill="#222" stroke="#222" stroke-width="0.12">60</text>
<line x1="172" y1="100.54" x2="173" y2="100.54" stroke="#444" stroke-width="0.6"/>
<line x1="171.2" y1="95.83" x2="173" y2="95.83" stroke="#444" stroke-width="0.6"/>
<text x="170.7" y="97.03" font-size="3.4" text-anchor="end" fill="#222" stroke="#222" stroke-width="0.12">80</text>
<line x1="172" y1="91.11" x2="173" y2="91.11" stroke="#444" stroke-width="0.6"/>
<line x1="171.2" y1="86.4" x2="173" y2="86.4" stroke="#444" stroke-width="0.6"/>
<text x="170.7" y="87.6" font-size="3.4" text-anchor="end" fill="#222" stroke="#222" stroke-width="0.12">100</text>
<line x1="177.8" y1="133.7" x2="177.8" y2="136.3" stroke="#444" stroke-width="0.6"/>
<text x="178.2" y="140.1" font-size="3.4" text-anchor="end" fill="#222" stroke="#222" stroke-width="0.12">10<tspan font-size="2.4" dy="-1.5">0</tspan></text>
<line x1="174.34" y1="133.7" x2="174.34" y2="134.8" stroke="#777" stroke-width="0.4"/>
<line x1="175.25" y1="133.7" x2="175.25" y2="134.8" stroke="#777" stroke-width="0.4"/>
<line x1="176.02" y1="133.7" x2="176.02" y2="134.8" stroke="#777" stroke-width="0.4"/>
<line x1="176.69" y1="133.7" x2="176.69" y2="134.8" stroke="#777" stroke-width="0.4"/>
<line x1="177.27" y1="133.7" x2="177.27" y2="134.8" stroke="#777" stroke-width="0.4"/>
<line x1="189.3" y1="133.7" x2="189.3" y2="136.3" stroke="#444" stroke-width="0.6"/>
<text x="189.7" y="140.1" font-size="3.4" text-anchor="end" fill="#222" stroke="#222" stroke-width="0.12">10<tspan font-size="2.4" dy="-1.5">1</tspan></text>
<line x1="181.26" y1="133.7" x2="181.26" y2="134.8" stroke="#777" stroke-width="0.4"/>
<line x1="183.29" y1="133.7" x2="183.29" y2="134.8" stroke="#777" stroke-width="0.4"/>
<line x1="184.72" y1="133.7" x2="184.72" y2="134.8" stroke="#777" stroke-width="0.4"/>
<line x1="185.84" y1="133.7" x2="185.84" y2="134.8" stroke="#777" stroke-width="0.4"/>
<line x1="186.75" y1="133.7" x2="186.75" y2="134.8" stroke="#777" stroke-width="0.4"/>
<line x1="187.52" y1="133.7" x2="187.52" y2="134.8" stroke="#777" stroke-width="0.4"/>
<line x1="188.19" y1="133.7" x2="188.19" y2="134.8" stroke="#777" stroke-width="0.4"/>
<line x1="188.77" y1="133.7" x2="188.77" y2="134.8" stroke="#777" stroke-width="0.4"/>
<line x1="200.8" y1="133.7" x2="200.8" y2="136.3" stroke="#444" stroke-width="0.6"/>
<text x="201.2" y="140.1" font-size="3.4" text-anchor="end" fill="#222" stroke="#222" stroke-width="0.12">10<tspan font-size="2.4" dy="-1.5">2</tspan></text>
<line x1="192.76" y1="133.7" x2="192.76" y2="134.8" stroke="#777" stroke-width="0.4"/>
<line x1="194.79" y1="133.7" x2="194.79" y2="134.8" stroke="#777" stroke-width="0.4"/>
<line x1="196.22" y1="133.7" x2="196.22" y2="134.8" stroke="#777" stroke-width="0.4"/>
<line x1="197.34" y1="133.7" x2="197.34" y2="134.8" stroke="#777" stroke-width="0.4"/>
<line x1="198.25" y1="133.7" x2="198.25" y2="134.8" stroke="#777" stroke-width="0.4"/>
<line x1="199.02" y1="133.7" x2="199.02" y2="134.8" stroke="#777" stroke-width="0.4"/>
<line x1="199.69" y1="133.7" x2="199.69" y2="134.8" stroke="#777" stroke-width="0.4"/>
<line x1="200.27" y1="133.7" x2="200.27" y2="134.8" stroke="#777" stroke-width="0.4"/>
<line x1="212.3" y1="133.7" x2="212.3" y2="136.3" stroke="#444" stroke-width="0.6"/>
<text x="212.7" y="140.1" font-size="3.4" text-anchor="end" fill="#222" stroke="#222" stroke-width="0.12">10<tspan font-size="2.4" dy="-1.5">3</tspan></text>
<line x1="204.26" y1="133.7" x2="204.26" y2="134.8" stroke="#777" stroke-width="0.4"/>
<line x1="206.29" y1="133.7" x2="206.29" y2="134.8" stroke="#777" stroke-width="0.4"/>
<line x1="207.72" y1="133.7" x2="207.72" y2="134.8" stroke="#777" stroke-width="0.4"/>
<line x1="208.84" y1="133.7" x2="208.84" y2="134.8" stroke="#777" stroke-width="0.4"/>
<line x1="209.75" y1="133.7" x2="209.75" y2="134.8" stroke="#777" stroke-width="0.4"/>
<line x1="210.52" y1="133.7" x2="210.52" y2="134.8" stroke="#777" stroke-width="0.4"/>
<line x1="211.19" y1="133.7" x2="211.19" y2="134.8" stroke="#777" stroke-width="0.4"/>
<line x1="211.77" y1="133.7" x2="211.77" y2="134.8" stroke="#777" stroke-width="0.4"/>
<line x1="223.8" y1="133.7" x2="223.8" y2="136.3" stroke="#444" stroke-width="0.6"/>
<text x="224.2" y="140.1" font-size="3.4" text-anchor="end" fill="#222" stroke="#222" stroke-width="0.12">10<tspan font-size="2.4" dy="-1.5">4</tspan></text>
<line x1="215.76" y1="133.7" x2="215.76" y2="134.8" stroke="#777" stroke-width="0.4"/>
<line x1="217.79" y1="133.7" x2="217.79" y2="134.8" stroke="#777" stroke-width="0.4"/>
<line x1="219.22" y1="133.7" x2="219.22" y2="134.8" stroke="#777" stroke-width="0.4"/>
<line x1="220.34" y1="133.7" x2="220.34" y2="134.8" stroke="#777" stroke-width="0.4"/>
<line x1="221.25" y1="133.7" x2="221.25" y2="134.8" stroke="#777" stroke-width="0.4"/>
<line x1="222.02" y1="133.7" x2="222.02" y2="134.8" stroke="#777" stroke-width="0.4"/>
<line x1="222.69" y1="133.7" x2="222.69" y2="134.8" stroke="#777" stroke-width="0.4"/>
<line x1="223.27" y1="133.7" x2="223.27" y2="134.8" stroke="#777" stroke-width="0.4"/>
<text x="197.5" y="149.3" font-size="6.5" text-anchor="middle" fill="#111" stroke="#111" stroke-width="0.18">NKG2D</text>
</g>
<g>
<path d="M245.6,131.11 C245.95,130.99 247,130.79 247.7,130.41 C248.39,130.03 249.11,129.73 249.79,128.81 C250.47,127.9 251.1,126.07 251.78,124.92 C252.46,123.77 253.15,122.71 253.88,121.92 C254.61,121.13 255.49,120.13 256.18,120.18 C256.87,120.23 257.5,121.08 258.02,122.22 C258.54,123.36 258.78,125.53 259.29,127.01 C259.81,128.49 260.51,130.37 261.08,131.11 C261.65,131.85 261.99,131.69 262.72,131.46 C263.45,131.22 264.57,130.45 265.48,129.71 C266.39,128.97 267.5,128.26 268.19,127.01 C268.87,125.77 269.11,124.84 269.57,122.22 C270.02,119.6 270.44,114.93 270.89,111.3 C271.35,107.66 271.81,103.27 272.27,100.42 C272.74,97.57 273.2,95.79 273.7,94.18 C274.21,92.58 274.73,91 275.29,90.79 C275.85,90.57 276.56,91.28 277.08,92.88 C277.6,94.49 277.95,97.58 278.41,100.42 C278.86,103.25 279.32,107.4 279.79,109.9 C280.25,112.39 280.65,113.1 281.22,115.39 C281.79,117.67 282.53,121.12 283.21,123.62 C283.89,126.12 284.74,128.83 285.3,130.41 C285.87,131.99 286.05,132.47 286.58,133.1 C287.12,133.73 286.84,134.02 288.52,134.2 C290.21,134.38 295.34,134.2 296.7,134.2 L296.7,134.2 L245.6,134.2 Z" fill="#a8a8a8" stroke="#262626" stroke-width="1.05"/>
<path d="M245.6,84.3 H296.7 V134.2" fill="none" stroke="#999" stroke-width="1.4"/>
<path d="M245.6,83.7 V134.2 H297.3" fill="none" stroke="#6a6a6a" stroke-width="1.2"/>
<line x1="243.8" y1="134.05" x2="245.6" y2="134.05" stroke="#444" stroke-width="0.6"/>
<text x="243.3" y="135.25" font-size="3.4" text-anchor="end" fill="#222" stroke="#222" stroke-width="0.12">0</text>
<line x1="244.6" y1="129.33" x2="245.6" y2="129.33" stroke="#444" stroke-width="0.6"/>
<line x1="243.8" y1="124.62" x2="245.6" y2="124.62" stroke="#444" stroke-width="0.6"/>
<text x="243.3" y="125.82" font-size="3.4" text-anchor="end" fill="#222" stroke="#222" stroke-width="0.12">20</text>
<line x1="244.6" y1="119.9" x2="245.6" y2="119.9" stroke="#444" stroke-width="0.6"/>
<line x1="243.8" y1="115.19" x2="245.6" y2="115.19" stroke="#444" stroke-width="0.6"/>
<text x="243.3" y="116.39" font-size="3.4" text-anchor="end" fill="#222" stroke="#222" stroke-width="0.12">40</text>
<line x1="244.6" y1="110.47" x2="245.6" y2="110.47" stroke="#444" stroke-width="0.6"/>
<line x1="243.8" y1="105.76" x2="245.6" y2="105.76" stroke="#444" stroke-width="0.6"/>
<text x="243.3" y="106.96" font-size="3.4" text-anchor="end" fill="#222" stroke="#222" stroke-width="0.12">60</text>
<line x1="244.6" y1="101.04" x2="245.6" y2="101.04" stroke="#444" stroke-width="0.6"/>
<line x1="243.8" y1="96.33" x2="245.6" y2="96.33" stroke="#444" stroke-width="0.6"/>
<text x="243.3" y="97.53" font-size="3.4" text-anchor="end" fill="#222" stroke="#222" stroke-width="0.12">80</text>
<line x1="244.6" y1="91.61" x2="245.6" y2="91.61" stroke="#444" stroke-width="0.6"/>
<line x1="243.8" y1="86.9" x2="245.6" y2="86.9" stroke="#444" stroke-width="0.6"/>
<text x="243.3" y="88.1" font-size="3.4" text-anchor="end" fill="#222" stroke="#222" stroke-width="0.12">100</text>
<line x1="250.2" y1="134.2" x2="250.2" y2="136.8" stroke="#444" stroke-width="0.6"/>
<text x="250.6" y="140.6" font-size="3.4" text-anchor="end" fill="#222" stroke="#222" stroke-width="0.12">10<tspan font-size="2.4" dy="-1.5">0</tspan></text>
<line x1="246.74" y1="134.2" x2="246.74" y2="135.3" stroke="#777" stroke-width="0.4"/>
<line x1="247.65" y1="134.2" x2="247.65" y2="135.3" stroke="#777" stroke-width="0.4"/>
<line x1="248.42" y1="134.2" x2="248.42" y2="135.3" stroke="#777" stroke-width="0.4"/>
<line x1="249.09" y1="134.2" x2="249.09" y2="135.3" stroke="#777" stroke-width="0.4"/>
<line x1="249.67" y1="134.2" x2="249.67" y2="135.3" stroke="#777" stroke-width="0.4"/>
<line x1="261.7" y1="134.2" x2="261.7" y2="136.8" stroke="#444" stroke-width="0.6"/>
<text x="262.1" y="140.6" font-size="3.4" text-anchor="end" fill="#222" stroke="#222" stroke-width="0.12">10<tspan font-size="2.4" dy="-1.5">1</tspan></text>
<line x1="253.66" y1="134.2" x2="253.66" y2="135.3" stroke="#777" stroke-width="0.4"/>
<line x1="255.69" y1="134.2" x2="255.69" y2="135.3" stroke="#777" stroke-width="0.4"/>
<line x1="257.12" y1="134.2" x2="257.12" y2="135.3" stroke="#777" stroke-width="0.4"/>
<line x1="258.24" y1="134.2" x2="258.24" y2="135.3" stroke="#777" stroke-width="0.4"/>
<line x1="259.15" y1="134.2" x2="259.15" y2="135.3" stroke="#777" stroke-width="0.4"/>
<line x1="259.92" y1="134.2" x2="259.92" y2="135.3" stroke="#777" stroke-width="0.4"/>
<line x1="260.59" y1="134.2" x2="260.59" y2="135.3" stroke="#777" stroke-width="0.4"/>
<line x1="261.17" y1="134.2" x2="261.17" y2="135.3" stroke="#777" stroke-width="0.4"/>
<line x1="273.2" y1="134.2" x2="273.2" y2="136.8" stroke="#444" stroke-width="0.6"/>
<text x="273.6" y="140.6" font-size="3.4" text-anchor="end" fill="#222" stroke="#222" stroke-width="0.12">10<tspan font-size="2.4" dy="-1.5">2</tspan></text>
<line x1="265.16" y1="134.2" x2="265.16" y2="135.3" stroke="#777" stroke-width="0.4"/>
<line x1="267.19" y1="134.2" x2="267.19" y2="135.3" stroke="#777" stroke-width="0.4"/>
<line x1="268.62" y1="134.2" x2="268.62" y2="135.3" stroke="#777" stroke-width="0.4"/>
<line x1="269.74" y1="134.2" x2="269.74" y2="135.3" stroke="#777" stroke-width="0.4"/>
<line x1="270.65" y1="134.2" x2="270.65" y2="135.3" stroke="#777" stroke-width="0.4"/>
<line x1="271.42" y1="134.2" x2="271.42" y2="135.3" stroke="#777" stroke-width="0.4"/>
<line x1="272.09" y1="134.2" x2="272.09" y2="135.3" stroke="#777" stroke-width="0.4"/>
<line x1="272.67" y1="134.2" x2="272.67" y2="135.3" stroke="#777" stroke-width="0.4"/>
<line x1="284.7" y1="134.2" x2="284.7" y2="136.8" stroke="#444" stroke-width="0.6"/>
<text x="285.1" y="140.6" font-size="3.4" text-anchor="end" fill="#222" stroke="#222" stroke-width="0.12">10<tspan font-size="2.4" dy="-1.5">3</tspan></text>
<line x1="276.66" y1="134.2" x2="276.66" y2="135.3" stroke="#777" stroke-width="0.4"/>
<line x1="278.69" y1="134.2" x2="278.69" y2="135.3" stroke="#777" stroke-width="0.4"/>
<line x1="280.12" y1="134.2" x2="280.12" y2="135.3" stroke="#777" stroke-width="0.4"/>
<line x1="281.24" y1="134.2" x2="281.24" y2="135.3" stroke="#777" stroke-width="0.4"/>
<line x1="282.15" y1="134.2" x2="282.15" y2="135.3" stroke="#777" stroke-width="0.4"/>
<line x1="282.92" y1="134.2" x2="282.92" y2="135.3" stroke="#777" stroke-width="0.4"/>
<line x1="283.59" y1="134.2" x2="283.59" y2="135.3" stroke="#777" stroke-width="0.4"/>
<line x1="284.17" y1="134.2" x2="284.17" y2="135.3" stroke="#777" stroke-width="0.4"/>
<line x1="296.2" y1="134.2" x2="296.2" y2="136.8" stroke="#444" stroke-width="0.6"/>
<text x="296.6" y="140.6" font-size="3.4" text-anchor="end" fill="#222" stroke="#222" stroke-width="0.12">10<tspan font-size="2.4" dy="-1.5">4</tspan></text>
<line x1="288.16" y1="134.2" x2="288.16" y2="135.3" stroke="#777" stroke-width="0.4"/>
<line x1="290.19" y1="134.2" x2="290.19" y2="135.3" stroke="#777" stroke-width="0.4"/>
<line x1="291.62" y1="134.2" x2="291.62" y2="135.3" stroke="#777" stroke-width="0.4"/>
<line x1="292.74" y1="134.2" x2="292.74" y2="135.3" stroke="#777" stroke-width="0.4"/>
<line x1="293.65" y1="134.2" x2="293.65" y2="135.3" stroke="#777" stroke-width="0.4"/>
<line x1="294.42" y1="134.2" x2="294.42" y2="135.3" stroke="#777" stroke-width="0.4"/>
<line x1="295.09" y1="134.2" x2="295.09" y2="135.3" stroke="#777" stroke-width="0.4"/>
<line x1="295.67" y1="134.2" x2="295.67" y2="135.3" stroke="#777" stroke-width="0.4"/>
<text x="272.2" y="149.3" font-size="6.5" text-anchor="middle" fill="#111" stroke="#111" stroke-width="0.18">NKG2A</text>
</g>
<g>
<path d="M321,126.81 C321.1,126.78 321.33,127.1 321.62,126.61 C321.9,126.13 322.17,125.51 322.7,123.92 C323.23,122.33 324.12,119.35 324.81,117.08 C325.5,114.81 326.14,112.57 326.82,110.3 C327.5,108.03 328.31,105.75 328.88,103.46 C329.45,101.17 329.77,98.42 330.22,96.57 C330.66,94.73 331.09,93.51 331.56,92.38 C332.02,91.25 332.61,89.79 333,89.79 C333.39,89.79 333.59,91.25 333.88,92.38 C334.16,93.51 334.44,94.73 334.7,96.57 C334.96,98.42 335.19,101.17 335.42,103.46 C335.65,105.75 335.89,108.03 336.09,110.3 C336.29,112.57 336.41,114.81 336.6,117.08 C336.8,119.35 337.03,121.87 337.27,123.92 C337.52,125.96 337.68,128 338.1,129.36 C338.52,130.71 339.21,131.44 339.8,132.05 C340.38,132.67 340.87,132.84 341.6,133.05 C342.33,133.26 339.03,133.26 344.18,133.3 C349.32,133.34 367.78,133.3 372.5,133.3 L372.5,133.3 L321,133.3 Z" fill="#b0b0b0" stroke="#262626" stroke-width="1.05"/>
<path d="M323.06,129.31 C323.57,127.81 325.29,123.15 326.15,120.33 C327.01,117.5 327.52,115.17 328.21,112.34 C328.9,109.51 329.71,106.02 330.27,103.36 C330.83,100.7 331.15,98.37 331.56,96.37 C331.97,94.38 332.54,92.22 332.74,91.38" fill="none" stroke="#f0f0f0" stroke-width="0.9"/>
<path d="M321,83.4 H372.5 V133.3" fill="none" stroke="#999" stroke-width="1.4"/>
<path d="M321,82.8 V133.3 H373.1" fill="none" stroke="#6a6a6a" stroke-width="1.2"/>
<line x1="319.2" y1="133.15" x2="321" y2="133.15" stroke="#444" stroke-width="0.6"/>
<text x="318.7" y="134.35" font-size="3.4" text-anchor="end" fill="#222" stroke="#222" stroke-width="0.12">0</text>
<line x1="320" y1="128.44" x2="321" y2="128.44" stroke="#444" stroke-width="0.6"/>
<line x1="319.2" y1="123.72" x2="321" y2="123.72" stroke="#444" stroke-width="0.6"/>
<text x="318.7" y="124.92" font-size="3.4" text-anchor="end" fill="#222" stroke="#222" stroke-width="0.12">20</text>
<line x1="320" y1="119" x2="321" y2="119" stroke="#444" stroke-width="0.6"/>
<line x1="319.2" y1="114.29" x2="321" y2="114.29" stroke="#444" stroke-width="0.6"/>
<text x="318.7" y="115.49" font-size="3.4" text-anchor="end" fill="#222" stroke="#222" stroke-width="0.12">40</text>
<line x1="320" y1="109.58" x2="321" y2="109.58" stroke="#444" stroke-width="0.6"/>
<line x1="319.2" y1="104.86" x2="321" y2="104.86" stroke="#444" stroke-width="0.6"/>
<text x="318.7" y="106.06" font-size="3.4" text-anchor="end" fill="#222" stroke="#222" stroke-width="0.12">60</text>
<line x1="320" y1="100.15" x2="321" y2="100.15" stroke="#444" stroke-width="0.6"/>
<line x1="319.2" y1="95.43" x2="321" y2="95.43" stroke="#444" stroke-width="0.6"/>
<text x="318.7" y="96.63" font-size="3.4" text-anchor="end" fill="#222" stroke="#222" stroke-width="0.12">80</text>
<line x1="320" y1="90.72" x2="321" y2="90.72" stroke="#444" stroke-width="0.6"/>
<line x1="319.2" y1="86" x2="321" y2="86" stroke="#444" stroke-width="0.6"/>
<text x="318.7" y="87.2" font-size="3.4" text-anchor="end" fill="#222" stroke="#222" stroke-width="0.12">100</text>
<line x1="326" y1="133.3" x2="326" y2="135.9" stroke="#444" stroke-width="0.6"/>
<text x="326.4" y="139.7" font-size="3.4" text-anchor="end" fill="#222" stroke="#222" stroke-width="0.12">10<tspan font-size="2.4" dy="-1.5">0</tspan></text>
<line x1="322.54" y1="133.3" x2="322.54" y2="134.4" stroke="#777" stroke-width="0.4"/>
<line x1="323.45" y1="133.3" x2="323.45" y2="134.4" stroke="#777" stroke-width="0.4"/>
<line x1="324.22" y1="133.3" x2="324.22" y2="134.4" stroke="#777" stroke-width="0.4"/>
<line x1="324.89" y1="133.3" x2="324.89" y2="134.4" stroke="#777" stroke-width="0.4"/>
<line x1="325.47" y1="133.3" x2="325.47" y2="134.4" stroke="#777" stroke-width="0.4"/>
<line x1="337.5" y1="133.3" x2="337.5" y2="135.9" stroke="#444" stroke-width="0.6"/>
<text x="337.9" y="139.7" font-size="3.4" text-anchor="end" fill="#222" stroke="#222" stroke-width="0.12">10<tspan font-size="2.4" dy="-1.5">1</tspan></text>
<line x1="329.46" y1="133.3" x2="329.46" y2="134.4" stroke="#777" stroke-width="0.4"/>
<line x1="331.49" y1="133.3" x2="331.49" y2="134.4" stroke="#777" stroke-width="0.4"/>
<line x1="332.92" y1="133.3" x2="332.92" y2="134.4" stroke="#777" stroke-width="0.4"/>
<line x1="334.04" y1="133.3" x2="334.04" y2="134.4" stroke="#777" stroke-width="0.4"/>
<line x1="334.95" y1="133.3" x2="334.95" y2="134.4" stroke="#777" stroke-width="0.4"/>
<line x1="335.72" y1="133.3" x2="335.72" y2="134.4" stroke="#777" stroke-width="0.4"/>
<line x1="336.39" y1="133.3" x2="336.39" y2="134.4" stroke="#777" stroke-width="0.4"/>
<line x1="336.97" y1="133.3" x2="336.97" y2="134.4" stroke="#777" stroke-width="0.4"/>
<line x1="349" y1="133.3" x2="349" y2="135.9" stroke="#444" stroke-width="0.6"/>
<text x="349.4" y="139.7" font-size="3.4" text-anchor="end" fill="#222" stroke="#222" stroke-width="0.12">10<tspan font-size="2.4" dy="-1.5">2</tspan></text>
<line x1="340.96" y1="133.3" x2="340.96" y2="134.4" stroke="#777" stroke-width="0.4"/>
<line x1="342.99" y1="133.3" x2="342.99" y2="134.4" stroke="#777" stroke-width="0.4"/>
<line x1="344.42" y1="133.3" x2="344.42" y2="134.4" stroke="#777" stroke-width="0.4"/>
<line x1="345.54" y1="133.3" x2="345.54" y2="134.4" stroke="#777" stroke-width="0.4"/>
<line x1="346.45" y1="133.3" x2="346.45" y2="134.4" stroke="#777" stroke-width="0.4"/>
<line x1="347.22" y1="133.3" x2="347.22" y2="134.4" stroke="#777" stroke-width="0.4"/>
<line x1="347.89" y1="133.3" x2="347.89" y2="134.4" stroke="#777" stroke-width="0.4"/>
<line x1="348.47" y1="133.3" x2="348.47" y2="134.4" stroke="#777" stroke-width="0.4"/>
<line x1="360.5" y1="133.3" x2="360.5" y2="135.9" stroke="#444" stroke-width="0.6"/>
<text x="360.9" y="139.7" font-size="3.4" text-anchor="end" fill="#222" stroke="#222" stroke-width="0.12">10<tspan font-size="2.4" dy="-1.5">3</tspan></text>
<line x1="352.46" y1="133.3" x2="352.46" y2="134.4" stroke="#777" stroke-width="0.4"/>
<line x1="354.49" y1="133.3" x2="354.49" y2="134.4" stroke="#777" stroke-width="0.4"/>
<line x1="355.92" y1="133.3" x2="355.92" y2="134.4" stroke="#777" stroke-width="0.4"/>
<line x1="357.04" y1="133.3" x2="357.04" y2="134.4" stroke="#777" stroke-width="0.4"/>
<line x1="357.95" y1="133.3" x2="357.95" y2="134.4" stroke="#777" stroke-width="0.4"/>
<line x1="358.72" y1="133.3" x2="358.72" y2="134.4" stroke="#777" stroke-width="0.4"/>
<line x1="359.39" y1="133.3" x2="359.39" y2="134.4" stroke="#777" stroke-width="0.4"/>
<line x1="359.97" y1="133.3" x2="359.97" y2="134.4" stroke="#777" stroke-width="0.4"/>
<line x1="372" y1="133.3" x2="372" y2="135.9" stroke="#444" stroke-width="0.6"/>
<text x="372.4" y="139.7" font-size="3.4" text-anchor="end" fill="#222" stroke="#222" stroke-width="0.12">10<tspan font-size="2.4" dy="-1.5">4</tspan></text>
<line x1="363.96" y1="133.3" x2="363.96" y2="134.4" stroke="#777" stroke-width="0.4"/>
<line x1="365.99" y1="133.3" x2="365.99" y2="134.4" stroke="#777" stroke-width="0.4"/>
<line x1="367.42" y1="133.3" x2="367.42" y2="134.4" stroke="#777" stroke-width="0.4"/>
<line x1="368.54" y1="133.3" x2="368.54" y2="134.4" stroke="#777" stroke-width="0.4"/>
<line x1="369.45" y1="133.3" x2="369.45" y2="134.4" stroke="#777" stroke-width="0.4"/>
<line x1="370.22" y1="133.3" x2="370.22" y2="134.4" stroke="#777" stroke-width="0.4"/>
<line x1="370.89" y1="133.3" x2="370.89" y2="134.4" stroke="#777" stroke-width="0.4"/>
<line x1="371.47" y1="133.3" x2="371.47" y2="134.4" stroke="#777" stroke-width="0.4"/>
<text x="343.8" y="149.3" font-size="6.5" text-anchor="middle" fill="#111" stroke="#111" stroke-width="0.18">FasL</text>
</g>
<g>
<path d="M393.7,134.5 C396.8,134.5 408.66,134.54 412.28,134.5 C415.89,134.46 414.51,134.5 415.37,134.25 C416.23,134 416.88,133.63 417.44,133 C418,132.38 418.3,131.86 418.73,130.51 C419.16,129.16 419.51,128.12 420.02,124.92 C420.52,121.72 421.18,115.85 421.77,111.3 C422.36,106.74 423.09,101.18 423.58,97.57 C424.07,93.97 424.38,89.69 424.71,89.69 C425.05,89.69 425.21,93.97 425.59,97.57 C425.97,101.18 426.52,106.74 426.98,111.3 C427.45,115.85 427.99,121.72 428.38,124.92 C428.76,128.12 428.96,129.16 429.3,130.51 C429.65,131.86 429.92,132.38 430.44,133 C430.96,133.63 431.64,134 432.4,134.25 C433.16,134.5 432.83,134.46 434.98,134.5 C437.13,134.54 443.58,134.5 445.3,134.5 L445.3,134.5 L393.7,134.5 Z" fill="#a8a8a8" stroke="#262626" stroke-width="1.05"/>
<path d="M393.7,84.6 H445.3 V134.5" fill="none" stroke="#999" stroke-width="1.4"/>
<path d="M393.7,84 V134.5 H445.9" fill="none" stroke="#6a6a6a" stroke-width="1.2"/>
<line x1="391.9" y1="134.35" x2="393.7" y2="134.35" stroke="#444" stroke-width="0.6"/>
<text x="391.4" y="135.55" font-size="3.4" text-anchor="end" fill="#222" stroke="#222" stroke-width="0.12">0</text>
<line x1="392.7" y1="129.63" x2="393.7" y2="129.63" stroke="#444" stroke-width="0.6"/>
<line x1="391.9" y1="124.92" x2="393.7" y2="124.92" stroke="#444" stroke-width="0.6"/>
<text x="391.4" y="126.12" font-size="3.4" text-anchor="end" fill="#222" stroke="#222" stroke-width="0.12">20</text>
<line x1="392.7" y1="120.2" x2="393.7" y2="120.2" stroke="#444" stroke-width="0.6"/>
<line x1="391.9" y1="115.49" x2="393.7" y2="115.49" stroke="#444" stroke-width="0.6"/>
<text x="391.4" y="116.69" font-size="3.4" text-anchor="end" fill="#222" stroke="#222" stroke-width="0.12">40</text>
<line x1="392.7" y1="110.77" x2="393.7" y2="110.77" stroke="#444" stroke-width="0.6"/>
<line x1="391.9" y1="106.06" x2="393.7" y2="106.06" stroke="#444" stroke-width="0.6"/>
<text x="391.4" y="107.26" font-size="3.4" text-anchor="end" fill="#222" stroke="#222" stroke-width="0.12">60</text>
<line x1="392.7" y1="101.34" x2="393.7" y2="101.34" stroke="#444" stroke-width="0.6"/>
<line x1="391.9" y1="96.63" x2="393.7" y2="96.63" stroke="#444" stroke-width="0.6"/>
<text x="391.4" y="97.83" font-size="3.4" text-anchor="end" fill="#222" stroke="#222" stroke-width="0.12">80</text>
<line x1="392.7" y1="91.91" x2="393.7" y2="91.91" stroke="#444" stroke-width="0.6"/>
<line x1="391.9" y1="87.2" x2="393.7" y2="87.2" stroke="#444" stroke-width="0.6"/>
<text x="391.4" y="88.4" font-size="3.4" text-anchor="end" fill="#222" stroke="#222" stroke-width="0.12">100</text>
<line x1="398.8" y1="134.5" x2="398.8" y2="137.1" stroke="#444" stroke-width="0.6"/>
<text x="399.2" y="140.9" font-size="3.4" text-anchor="end" fill="#222" stroke="#222" stroke-width="0.12">10<tspan font-size="2.4" dy="-1.5">0</tspan></text>
<line x1="394.22" y1="134.5" x2="394.22" y2="135.6" stroke="#777" stroke-width="0.4"/>
<line x1="395.34" y1="134.5" x2="395.34" y2="135.6" stroke="#777" stroke-width="0.4"/>
<line x1="396.25" y1="134.5" x2="396.25" y2="135.6" stroke="#777" stroke-width="0.4"/>
<line x1="397.02" y1="134.5" x2="397.02" y2="135.6" stroke="#777" stroke-width="0.4"/>
<line x1="397.69" y1="134.5" x2="397.69" y2="135.6" stroke="#777" stroke-width="0.4"/>
<line x1="398.27" y1="134.5" x2="398.27" y2="135.6" stroke="#777" stroke-width="0.4"/>
<line x1="410.3" y1="134.5" x2="410.3" y2="137.1" stroke="#444" stroke-width="0.6"/>
<text x="410.7" y="140.9" font-size="3.4" text-anchor="end" fill="#222" stroke="#222" stroke-width="0.12">10<tspan font-size="2.4" dy="-1.5">1</tspan></text>
<line x1="402.26" y1="134.5" x2="402.26" y2="135.6" stroke="#777" stroke-width="0.4"/>
<line x1="404.29" y1="134.5" x2="404.29" y2="135.6" stroke="#777" stroke-width="0.4"/>
<line x1="405.72" y1="134.5" x2="405.72" y2="135.6" stroke="#777" stroke-width="0.4"/>
<line x1="406.84" y1="134.5" x2="406.84" y2="135.6" stroke="#777" stroke-width="0.4"/>
<line x1="407.75" y1="134.5" x2="407.75" y2="135.6" stroke="#777" stroke-width="0.4"/>
<line x1="408.52" y1="134.5" x2="408.52" y2="135.6" stroke="#777" stroke-width="0.4"/>
<line x1="409.19" y1="134.5" x2="409.19" y2="135.6" stroke="#777" stroke-width="0.4"/>
<line x1="409.77" y1="134.5" x2="409.77" y2="135.6" stroke="#777" stroke-width="0.4"/>
<line x1="421.8" y1="134.5" x2="421.8" y2="137.1" stroke="#444" stroke-width="0.6"/>
<text x="422.2" y="140.9" font-size="3.4" text-anchor="end" fill="#222" stroke="#222" stroke-width="0.12">10<tspan font-size="2.4" dy="-1.5">2</tspan></text>
<line x1="413.76" y1="134.5" x2="413.76" y2="135.6" stroke="#777" stroke-width="0.4"/>
<line x1="415.79" y1="134.5" x2="415.79" y2="135.6" stroke="#777" stroke-width="0.4"/>
<line x1="417.22" y1="134.5" x2="417.22" y2="135.6" stroke="#777" stroke-width="0.4"/>
<line x1="418.34" y1="134.5" x2="418.34" y2="135.6" stroke="#777" stroke-width="0.4"/>
<line x1="419.25" y1="134.5" x2="419.25" y2="135.6" stroke="#777" stroke-width="0.4"/>
<line x1="420.02" y1="134.5" x2="420.02" y2="135.6" stroke="#777" stroke-width="0.4"/>
<line x1="420.69" y1="134.5" x2="420.69" y2="135.6" stroke="#777" stroke-width="0.4"/>
<line x1="421.27" y1="134.5" x2="421.27" y2="135.6" stroke="#777" stroke-width="0.4"/>
<line x1="433.3" y1="134.5" x2="433.3" y2="137.1" stroke="#444" stroke-width="0.6"/>
<text x="433.7" y="140.9" font-size="3.4" text-anchor="end" fill="#222" stroke="#222" stroke-width="0.12">10<tspan font-size="2.4" dy="-1.5">3</tspan></text>
<line x1="425.26" y1="134.5" x2="425.26" y2="135.6" stroke="#777" stroke-width="0.4"/>
<line x1="427.29" y1="134.5" x2="427.29" y2="135.6" stroke="#777" stroke-width="0.4"/>
<line x1="428.72" y1="134.5" x2="428.72" y2="135.6" stroke="#777" stroke-width="0.4"/>
<line x1="429.84" y1="134.5" x2="429.84" y2="135.6" stroke="#777" stroke-width="0.4"/>
<line x1="430.75" y1="134.5" x2="430.75" y2="135.6" stroke="#777" stroke-width="0.4"/>
<line x1="431.52" y1="134.5" x2="431.52" y2="135.6" stroke="#777" stroke-width="0.4"/>
<line x1="432.19" y1="134.5" x2="432.19" y2="135.6" stroke="#777" stroke-width="0.4"/>
<line x1="432.77" y1="134.5" x2="432.77" y2="135.6" stroke="#777" stroke-width="0.4"/>
<line x1="444.8" y1="134.5" x2="444.8" y2="137.1" stroke="#444" stroke-width="0.6"/>
<text x="445.2" y="140.9" font-size="3.4" text-anchor="end" fill="#222" stroke="#222" stroke-width="0.12">10<tspan font-size="2.4" dy="-1.5">4</tspan></text>
<line x1="436.76" y1="134.5" x2="436.76" y2="135.6" stroke="#777" stroke-width="0.4"/>
<line x1="438.79" y1="134.5" x2="438.79" y2="135.6" stroke="#777" stroke-width="0.4"/>
<line x1="440.22" y1="134.5" x2="440.22" y2="135.6" stroke="#777" stroke-width="0.4"/>
<line x1="441.34" y1="134.5" x2="441.34" y2="135.6" stroke="#777" stroke-width="0.4"/>
<line x1="442.25" y1="134.5" x2="442.25" y2="135.6" stroke="#777" stroke-width="0.4"/>
<line x1="443.02" y1="134.5" x2="443.02" y2="135.6" stroke="#777" stroke-width="0.4"/>
<line x1="443.69" y1="134.5" x2="443.69" y2="135.6" stroke="#777" stroke-width="0.4"/>
<line x1="444.27" y1="134.5" x2="444.27" y2="135.6" stroke="#777" stroke-width="0.4"/>
<text x="422.8" y="149.3" font-size="6.5" text-anchor="middle" fill="#111" stroke="#111" stroke-width="0.18">Perforin</text>
</g>
<g>
<path d="M465.6,134.2 C465.94,134.2 467.03,134.28 467.66,134.2 C468.3,134.12 468.68,133.95 469.42,133.7 C470.16,133.45 471.26,133.25 472.1,132.7 C472.94,132.15 473.73,131.71 474.48,130.41 C475.22,129.11 475.95,126.97 476.59,124.92 C477.23,122.86 477.79,120.35 478.29,118.08 C478.79,115.81 479.14,113.56 479.58,111.3 C480.03,109.03 480.5,106.79 480.98,104.51 C481.45,102.23 481.97,99.46 482.42,97.62 C482.88,95.79 483.38,94.95 483.71,93.48 C484.04,92.01 484.13,88.66 484.38,88.79 C484.63,88.92 484.94,93.2 485.21,94.28 C485.47,95.36 485.73,94.72 485.98,95.28 C486.23,95.84 486.4,96.08 486.7,97.62 C487.01,99.16 487.43,102.23 487.79,104.51 C488.15,106.79 488.48,109.03 488.87,111.3 C489.26,113.56 489.67,115.81 490.11,118.08 C490.55,120.35 490.97,122.86 491.5,124.92 C492.04,126.97 492.67,129.11 493.31,130.41 C493.95,131.71 494.52,132.15 495.32,132.7 C496.12,133.25 497.21,133.45 498.11,133.7 C499,133.95 497.51,134.12 500.69,134.2 C503.87,134.28 514.45,134.2 517.2,134.2 L517.2,134.2 L465.6,134.2 Z" fill="#a8a8a8" stroke="#262626" stroke-width="1.05"/>
<path d="M465.6,84.3 H517.2 V134.2" fill="none" stroke="#999" stroke-width="1.4"/>
<path d="M465.6,83.7 V134.2 H517.8" fill="none" stroke="#6a6a6a" stroke-width="1.2"/>
<line x1="463.8" y1="134.05" x2="465.6" y2="134.05" stroke="#444" stroke-width="0.6"/>
<text x="463.3" y="135.25" font-size="3.4" text-anchor="end" fill="#222" stroke="#222" stroke-width="0.12">0</text>
<line x1="464.6" y1="129.33" x2="465.6" y2="129.33" stroke="#444" stroke-width="0.6"/>
<line x1="463.8" y1="124.62" x2="465.6" y2="124.62" stroke="#444" stroke-width="0.6"/>
<text x="463.3" y="125.82" font-size="3.4" text-anchor="end" fill="#222" stroke="#222" stroke-width="0.12">20</text>
<line x1="464.6" y1="119.9" x2="465.6" y2="119.9" stroke="#444" stroke-width="0.6"/>
<line x1="463.8" y1="115.19" x2="465.6" y2="115.19" stroke="#444" stroke-width="0.6"/>
<text x="463.3" y="116.39" font-size="3.4" text-anchor="end" fill="#222" stroke="#222" stroke-width="0.12">40</text>
<line x1="464.6" y1="110.47" x2="465.6" y2="110.47" stroke="#444" stroke-width="0.6"/>
<line x1="463.8" y1="105.76" x2="465.6" y2="105.76" stroke="#444" stroke-width="0.6"/>
<text x="463.3" y="106.96" font-size="3.4" text-anchor="end" fill="#222" stroke="#222" stroke-width="0.12">60</text>
<line x1="464.6" y1="101.04" x2="465.6" y2="101.04" stroke="#444" stroke-width="0.6"/>
<line x1="463.8" y1="96.33" x2="465.6" y2="96.33" stroke="#444" stroke-width="0.6"/>
<text x="463.3" y="97.53" font-size="3.4" text-anchor="end" fill="#222" stroke="#222" stroke-width="0.12">80</text>
<line x1="464.6" y1="91.61" x2="465.6" y2="91.61" stroke="#444" stroke-width="0.6"/>
<line x1="463.8" y1="86.9" x2="465.6" y2="86.9" stroke="#444" stroke-width="0.6"/>
<text x="463.3" y="88.1" font-size="3.4" text-anchor="end" fill="#222" stroke="#222" stroke-width="0.12">100</text>
<line x1="470.7" y1="134.2" x2="470.7" y2="136.8" stroke="#444" stroke-width="0.6"/>
<text x="471.1" y="140.6" font-size="3.4" text-anchor="end" fill="#222" stroke="#222" stroke-width="0.12">10<tspan font-size="2.4" dy="-1.5">0</tspan></text>
<line x1="466.12" y1="134.2" x2="466.12" y2="135.3" stroke="#777" stroke-width="0.4"/>
<line x1="467.24" y1="134.2" x2="467.24" y2="135.3" stroke="#777" stroke-width="0.4"/>
<line x1="468.15" y1="134.2" x2="468.15" y2="135.3" stroke="#777" stroke-width="0.4"/>
<line x1="468.92" y1="134.2" x2="468.92" y2="135.3" stroke="#777" stroke-width="0.4"/>
<line x1="469.59" y1="134.2" x2="469.59" y2="135.3" stroke="#777" stroke-width="0.4"/>
<line x1="470.17" y1="134.2" x2="470.17" y2="135.3" stroke="#777" stroke-width="0.4"/>
<line x1="482.2" y1="134.2" x2="482.2" y2="136.8" stroke="#444" stroke-width="0.6"/>
<text x="482.6" y="140.6" font-size="3.4" text-anchor="end" fill="#222" stroke="#222" stroke-width="0.12">10<tspan font-size="2.4" dy="-1.5">1</tspan></text>
<line x1="474.16" y1="134.2" x2="474.16" y2="135.3" stroke="#777" stroke-width="0.4"/>
<line x1="476.19" y1="134.2" x2="476.19" y2="135.3" stroke="#777" stroke-width="0.4"/>
<line x1="477.62" y1="134.2" x2="477.62" y2="135.3" stroke="#777" stroke-width="0.4"/>
<line x1="478.74" y1="134.2" x2="478.74" y2="135.3" stroke="#777" stroke-width="0.4"/>
<line x1="479.65" y1="134.2" x2="479.65" y2="135.3" stroke="#777" stroke-width="0.4"/>
<line x1="480.42" y1="134.2" x2="480.42" y2="135.3" stroke="#777" stroke-width="0.4"/>
<line x1="481.09" y1="134.2" x2="481.09" y2="135.3" stroke="#777" stroke-width="0.4"/>
<line x1="481.67" y1="134.2" x2="481.67" y2="135.3" stroke="#777" stroke-width="0.4"/>
<line x1="493.7" y1="134.2" x2="493.7" y2="136.8" stroke="#444" stroke-width="0.6"/>
<text x="494.1" y="140.6" font-size="3.4" text-anchor="end" fill="#222" stroke="#222" stroke-width="0.12">10<tspan font-size="2.4" dy="-1.5">2</tspan></text>
<line x1="485.66" y1="134.2" x2="485.66" y2="135.3" stroke="#777" stroke-width="0.4"/>
<line x1="487.69" y1="134.2" x2="487.69" y2="135.3" stroke="#777" stroke-width="0.4"/>
<line x1="489.12" y1="134.2" x2="489.12" y2="135.3" stroke="#777" stroke-width="0.4"/>
<line x1="490.24" y1="134.2" x2="490.24" y2="135.3" stroke="#777" stroke-width="0.4"/>
<line x1="491.15" y1="134.2" x2="491.15" y2="135.3" stroke="#777" stroke-width="0.4"/>
<line x1="491.92" y1="134.2" x2="491.92" y2="135.3" stroke="#777" stroke-width="0.4"/>
<line x1="492.59" y1="134.2" x2="492.59" y2="135.3" stroke="#777" stroke-width="0.4"/>
<line x1="493.17" y1="134.2" x2="493.17" y2="135.3" stroke="#777" stroke-width="0.4"/>
<line x1="505.2" y1="134.2" x2="505.2" y2="136.8" stroke="#444" stroke-width="0.6"/>
<text x="505.6" y="140.6" font-size="3.4" text-anchor="end" fill="#222" stroke="#222" stroke-width="0.12">10<tspan font-size="2.4" dy="-1.5">3</tspan></text>
<line x1="497.16" y1="134.2" x2="497.16" y2="135.3" stroke="#777" stroke-width="0.4"/>
<line x1="499.19" y1="134.2" x2="499.19" y2="135.3" stroke="#777" stroke-width="0.4"/>
<line x1="500.62" y1="134.2" x2="500.62" y2="135.3" stroke="#777" stroke-width="0.4"/>
<line x1="501.74" y1="134.2" x2="501.74" y2="135.3" stroke="#777" stroke-width="0.4"/>
<line x1="502.65" y1="134.2" x2="502.65" y2="135.3" stroke="#777" stroke-width="0.4"/>
<line x1="503.42" y1="134.2" x2="503.42" y2="135.3" stroke="#777" stroke-width="0.4"/>
<line x1="504.09" y1="134.2" x2="504.09" y2="135.3" stroke="#777" stroke-width="0.4"/>
<line x1="504.67" y1="134.2" x2="504.67" y2="135.3" stroke="#777" stroke-width="0.4"/>
<line x1="516.7" y1="134.2" x2="516.7" y2="136.8" stroke="#444" stroke-width="0.6"/>
<text x="517.1" y="140.6" font-size="3.4" text-anchor="end" fill="#222" stroke="#222" stroke-width="0.12">10<tspan font-size="2.4" dy="-1.5">4</tspan></text>
<line x1="508.66" y1="134.2" x2="508.66" y2="135.3" stroke="#777" stroke-width="0.4"/>
<line x1="510.69" y1="134.2" x2="510.69" y2="135.3" stroke="#777" stroke-width="0.4"/>
<line x1="512.12" y1="134.2" x2="512.12" y2="135.3" stroke="#777" stroke-width="0.4"/>
<line x1="513.24" y1="134.2" x2="513.24" y2="135.3" stroke="#777" stroke-width="0.4"/>
<line x1="514.15" y1="134.2" x2="514.15" y2="135.3" stroke="#777" stroke-width="0.4"/>
<line x1="514.92" y1="134.2" x2="514.92" y2="135.3" stroke="#777" stroke-width="0.4"/>
<line x1="515.59" y1="134.2" x2="515.59" y2="135.3" stroke="#777" stroke-width="0.4"/>
<line x1="516.17" y1="134.2" x2="516.17" y2="135.3" stroke="#777" stroke-width="0.4"/>
<text x="494.8" y="149.3" font-size="6.5" text-anchor="middle" fill="#111" stroke="#111" stroke-width="0.18">Granzyme B</text>
</g>
<g>
<path d="M25.6,207.2 C25.72,207.08 26.04,206.92 26.34,206.46 C26.64,205.99 26.92,205.67 27.39,204.41 C27.87,203.15 28.67,200.97 29.18,198.92 C29.7,196.87 30.11,194.35 30.5,192.08 C30.89,189.81 31.17,187.56 31.5,185.3 C31.84,183.04 32.21,180.8 32.5,178.51 C32.8,176.22 32.96,173.98 33.29,171.58 C33.63,169.17 34.06,164.09 34.51,164.09 C34.95,164.09 35.61,169.17 35.98,171.58 C36.35,173.98 36.52,176.22 36.72,178.51 C36.92,180.8 37.02,183.04 37.19,185.3 C37.37,187.56 37.59,189.81 37.77,192.08 C37.96,194.35 38.1,196.87 38.3,198.92 C38.5,200.97 38.63,202.95 38.99,204.41 C39.34,205.87 39.95,206.99 40.41,207.7 C40.87,208.42 41.3,208.55 41.73,208.7 C42.16,208.85 42.53,208.85 42.99,208.6 C43.45,208.35 43.88,208.14 44.47,207.2 C45.06,206.27 45.83,204.61 46.52,203.01 C47.22,201.42 48.02,197.62 48.63,197.62 C49.24,197.62 49.65,201.42 50.21,203.01 C50.77,204.61 51.54,206.26 52,207.2 C52.47,208.15 52.49,208.37 53,208.7 C53.52,209.03 50.9,209.12 55.11,209.2 C59.33,209.28 74.44,209.2 78.3,209.2 L78.3,209.2 L25.6,209.2 Z" fill="#a8a8a8" stroke="#262626" stroke-width="1.05"/>
<path d="M26.65,206.21 C26.92,205.04 27.71,201.72 28.23,199.22 C28.76,196.73 29.29,194.15 29.82,191.24 C30.34,188.33 31.13,183.34 31.4,181.76" fill="none" stroke="#e8e8e8" stroke-width="0.9"/>
<path d="M25.6,159.3 H78.3 V209.2" fill="none" stroke="#999" stroke-width="1.4"/>
<path d="M25.6,158.7 V209.2 H78.9" fill="none" stroke="#6a6a6a" stroke-width="1.2"/>
<line x1="23.8" y1="209.05" x2="25.6" y2="209.05" stroke="#444" stroke-width="0.6"/>
<text x="23.3" y="210.25" font-size="3.4" text-anchor="end" fill="#222" stroke="#222" stroke-width="0.12">0</text>
<line x1="24.6" y1="204.34" x2="25.6" y2="204.34" stroke="#444" stroke-width="0.6"/>
<line x1="23.8" y1="199.62" x2="25.6" y2="199.62" stroke="#444" stroke-width="0.6"/>
<text x="23.3" y="200.82" font-size="3.4" text-anchor="end" fill="#222" stroke="#222" stroke-width="0.12">20</text>
<line x1="24.6" y1="194.91" x2="25.6" y2="194.91" stroke="#444" stroke-width="0.6"/>
<line x1="23.8" y1="190.19" x2="25.6" y2="190.19" stroke="#444" stroke-width="0.6"/>
<text x="23.3" y="191.39" font-size="3.4" text-anchor="end" fill="#222" stroke="#222" stroke-width="0.12">40</text>
<line x1="24.6" y1="185.48" x2="25.6" y2="185.48" stroke="#444" stroke-width="0.6"/>
<line x1="23.8" y1="180.76" x2="25.6" y2="180.76" stroke="#444" stroke-width="0.6"/>
<text x="23.3" y="181.96" font-size="3.4" text-anchor="end" fill="#222" stroke="#222" stroke-width="0.12">60</text>
<line x1="24.6" y1="176.05" x2="25.6" y2="176.05" stroke="#444" stroke-width="0.6"/>
<line x1="23.8" y1="171.33" x2="25.6" y2="171.33" stroke="#444" stroke-width="0.6"/>
<text x="23.3" y="172.53" font-size="3.4" text-anchor="end" fill="#222" stroke="#222" stroke-width="0.12">80</text>
<line x1="24.6" y1="166.62" x2="25.6" y2="166.62" stroke="#444" stroke-width="0.6"/>
<line x1="23.8" y1="161.9" x2="25.6" y2="161.9" stroke="#444" stroke-width="0.6"/>
<text x="23.3" y="163.1" font-size="3.4" text-anchor="end" fill="#222" stroke="#222" stroke-width="0.12">100</text>
<line x1="31.8" y1="209.2" x2="31.8" y2="211.8" stroke="#444" stroke-width="0.6"/>
<text x="32.2" y="215.6" font-size="3.4" text-anchor="end" fill="#222" stroke="#222" stroke-width="0.12">10<tspan font-size="2.4" dy="-1.5">0</tspan></text>
<line x1="27.22" y1="209.2" x2="27.22" y2="210.3" stroke="#777" stroke-width="0.4"/>
<line x1="28.34" y1="209.2" x2="28.34" y2="210.3" stroke="#777" stroke-width="0.4"/>
<line x1="29.25" y1="209.2" x2="29.25" y2="210.3" stroke="#777" stroke-width="0.4"/>
<line x1="30.02" y1="209.2" x2="30.02" y2="210.3" stroke="#777" stroke-width="0.4"/>
<line x1="30.69" y1="209.2" x2="30.69" y2="210.3" stroke="#777" stroke-width="0.4"/>
<line x1="31.27" y1="209.2" x2="31.27" y2="210.3" stroke="#777" stroke-width="0.4"/>
<line x1="43.3" y1="209.2" x2="43.3" y2="211.8" stroke="#444" stroke-width="0.6"/>
<text x="43.7" y="215.6" font-size="3.4" text-anchor="end" fill="#222" stroke="#222" stroke-width="0.12">10<tspan font-size="2.4" dy="-1.5">1</tspan></text>
<line x1="35.26" y1="209.2" x2="35.26" y2="210.3" stroke="#777" stroke-width="0.4"/>
<line x1="37.29" y1="209.2" x2="37.29" y2="210.3" stroke="#777" stroke-width="0.4"/>
<line x1="38.72" y1="209.2" x2="38.72" y2="210.3" stroke="#777" stroke-width="0.4"/>
<line x1="39.84" y1="209.2" x2="39.84" y2="210.3" stroke="#777" stroke-width="0.4"/>
<line x1="40.75" y1="209.2" x2="40.75" y2="210.3" stroke="#777" stroke-width="0.4"/>
<line x1="41.52" y1="209.2" x2="41.52" y2="210.3" stroke="#777" stroke-width="0.4"/>
<line x1="42.19" y1="209.2" x2="42.19" y2="210.3" stroke="#777" stroke-width="0.4"/>
<line x1="42.77" y1="209.2" x2="42.77" y2="210.3" stroke="#777" stroke-width="0.4"/>
<line x1="54.8" y1="209.2" x2="54.8" y2="211.8" stroke="#444" stroke-width="0.6"/>
<text x="55.2" y="215.6" font-size="3.4" text-anchor="end" fill="#222" stroke="#222" stroke-width="0.12">10<tspan font-size="2.4" dy="-1.5">2</tspan></text>
<line x1="46.76" y1="209.2" x2="46.76" y2="210.3" stroke="#777" stroke-width="0.4"/>
<line x1="48.79" y1="209.2" x2="48.79" y2="210.3" stroke="#777" stroke-width="0.4"/>
<line x1="50.22" y1="209.2" x2="50.22" y2="210.3" stroke="#777" stroke-width="0.4"/>
<line x1="51.34" y1="209.2" x2="51.34" y2="210.3" stroke="#777" stroke-width="0.4"/>
<line x1="52.25" y1="209.2" x2="52.25" y2="210.3" stroke="#777" stroke-width="0.4"/>
<line x1="53.02" y1="209.2" x2="53.02" y2="210.3" stroke="#777" stroke-width="0.4"/>
<line x1="53.69" y1="209.2" x2="53.69" y2="210.3" stroke="#777" stroke-width="0.4"/>
<line x1="54.27" y1="209.2" x2="54.27" y2="210.3" stroke="#777" stroke-width="0.4"/>
<line x1="66.3" y1="209.2" x2="66.3" y2="211.8" stroke="#444" stroke-width="0.6"/>
<text x="66.7" y="215.6" font-size="3.4" text-anchor="end" fill="#222" stroke="#222" stroke-width="0.12">10<tspan font-size="2.4" dy="-1.5">3</tspan></text>
<line x1="58.26" y1="209.2" x2="58.26" y2="210.3" stroke="#777" stroke-width="0.4"/>
<line x1="60.29" y1="209.2" x2="60.29" y2="210.3" stroke="#777" stroke-width="0.4"/>
<line x1="61.72" y1="209.2" x2="61.72" y2="210.3" stroke="#777" stroke-width="0.4"/>
<line x1="62.84" y1="209.2" x2="62.84" y2="210.3" stroke="#777" stroke-width="0.4"/>
<line x1="63.75" y1="209.2" x2="63.75" y2="210.3" stroke="#777" stroke-width="0.4"/>
<line x1="64.52" y1="209.2" x2="64.52" y2="210.3" stroke="#777" stroke-width="0.4"/>
<line x1="65.19" y1="209.2" x2="65.19" y2="210.3" stroke="#777" stroke-width="0.4"/>
<line x1="65.77" y1="209.2" x2="65.77" y2="210.3" stroke="#777" stroke-width="0.4"/>
<line x1="77.8" y1="209.2" x2="77.8" y2="211.8" stroke="#444" stroke-width="0.6"/>
<text x="78.2" y="215.6" font-size="3.4" text-anchor="end" fill="#222" stroke="#222" stroke-width="0.12">10<tspan font-size="2.4" dy="-1.5">4</tspan></text>
<line x1="69.76" y1="209.2" x2="69.76" y2="210.3" stroke="#777" stroke-width="0.4"/>
<line x1="71.79" y1="209.2" x2="71.79" y2="210.3" stroke="#777" stroke-width="0.4"/>
<line x1="73.22" y1="209.2" x2="73.22" y2="210.3" stroke="#777" stroke-width="0.4"/>
<line x1="74.34" y1="209.2" x2="74.34" y2="210.3" stroke="#777" stroke-width="0.4"/>
<line x1="75.25" y1="209.2" x2="75.25" y2="210.3" stroke="#777" stroke-width="0.4"/>
<line x1="76.02" y1="209.2" x2="76.02" y2="210.3" stroke="#777" stroke-width="0.4"/>
<line x1="76.69" y1="209.2" x2="76.69" y2="210.3" stroke="#777" stroke-width="0.4"/>
<line x1="77.27" y1="209.2" x2="77.27" y2="210.3" stroke="#777" stroke-width="0.4"/>
<text x="50.7" y="224.9" font-size="6.5" text-anchor="middle" fill="#111" stroke="#111" stroke-width="0.18">CD158E</text>
<text transform="translate(12.6,184.5) rotate(-90)" font-size="4.8" text-anchor="middle" fill="#222" stroke="#222" stroke-width="0.15">% of Max</text>
</g>
<g>
<path d="M98.9,204.21 C99.17,204.01 99.93,203.89 100.51,203.01 C101.09,202.13 101.79,200.74 102.38,198.92 C102.98,197.1 103.58,194.35 104.1,192.08 C104.62,189.81 105.09,187.56 105.5,185.3 C105.92,183.04 106.27,180.8 106.6,178.51 C106.93,176.22 107.1,174.08 107.48,171.58 C107.86,169.07 108.47,163.49 108.88,163.49 C109.3,163.49 109.62,167.94 109.98,171.58 C110.33,175.21 110.7,180.74 111.02,185.3 C111.34,189.86 111.61,195.74 111.9,198.92 C112.19,202.11 112.32,202.95 112.73,204.41 C113.15,205.87 113.67,206.99 114.4,207.7 C115.12,208.42 116.21,208.78 117.1,208.7 C117.99,208.62 118.74,208.04 119.75,207.2 C120.77,206.37 122.14,203.84 123.18,203.71 C124.22,203.59 125.07,205.62 125.99,206.46 C126.91,207.29 127.84,208.24 128.7,208.7 C129.55,209.16 127.44,209.12 131.14,209.2 C134.84,209.28 147.61,209.2 150.9,209.2 L150.9,209.2 L98.9,209.2 Z" fill="#a8a8a8" stroke="#262626" stroke-width="1.05"/>
<path d="M98.9,159.3 H150.9 V209.2" fill="none" stroke="#999" stroke-width="1.4"/>
<path d="M98.9,158.7 V209.2 H151.5" fill="none" stroke="#6a6a6a" stroke-width="1.2"/>
<line x1="97.1" y1="209.05" x2="98.9" y2="209.05" stroke="#444" stroke-width="0.6"/>
<text x="96.6" y="210.25" font-size="3.4" text-anchor="end" fill="#222" stroke="#222" stroke-width="0.12">0</text>
<line x1="97.9" y1="204.34" x2="98.9" y2="204.34" stroke="#444" stroke-width="0.6"/>
<line x1="97.1" y1="199.62" x2="98.9" y2="199.62" stroke="#444" stroke-width="0.6"/>
<text x="96.6" y="200.82" font-size="3.4" text-anchor="end" fill="#222" stroke="#222" stroke-width="0.12">20</text>
<line x1="97.9" y1="194.91" x2="98.9" y2="194.91" stroke="#444" stroke-width="0.6"/>
<line x1="97.1" y1="190.19" x2="98.9" y2="190.19" stroke="#444" stroke-width="0.6"/>
<text x="96.6" y="191.39" font-size="3.4" text-anchor="end" fill="#222" stroke="#222" stroke-width="0.12">40</text>
<line x1="97.9" y1="185.48" x2="98.9" y2="185.48" stroke="#444" stroke-width="0.6"/>
<line x1="97.1" y1="180.76" x2="98.9" y2="180.76" stroke="#444" stroke-width="0.6"/>
<text x="96.6" y="181.96" font-size="3.4" text-anchor="end" fill="#222" stroke="#222" stroke-width="0.12">60</text>
<line x1="97.9" y1="176.05" x2="98.9" y2="176.05" stroke="#444" stroke-width="0.6"/>
<line x1="97.1" y1="171.33" x2="98.9" y2="171.33" stroke="#444" stroke-width="0.6"/>
<text x="96.6" y="172.53" font-size="3.4" text-anchor="end" fill="#222" stroke="#222" stroke-width="0.12">80</text>
<line x1="97.9" y1="166.62" x2="98.9" y2="166.62" stroke="#444" stroke-width="0.6"/>
<line x1="97.1" y1="161.9" x2="98.9" y2="161.9" stroke="#444" stroke-width="0.6"/>
<text x="96.6" y="163.1" font-size="3.4" text-anchor="end" fill="#222" stroke="#222" stroke-width="0.12">100</text>
<line x1="104.4" y1="209.2" x2="104.4" y2="211.8" stroke="#444" stroke-width="0.6"/>
<text x="104.8" y="215.6" font-size="3.4" text-anchor="end" fill="#222" stroke="#222" stroke-width="0.12">10<tspan font-size="2.4" dy="-1.5">0</tspan></text>
<line x1="99.82" y1="209.2" x2="99.82" y2="210.3" stroke="#777" stroke-width="0.4"/>
<line x1="100.94" y1="209.2" x2="100.94" y2="210.3" stroke="#777" stroke-width="0.4"/>
<line x1="101.85" y1="209.2" x2="101.85" y2="210.3" stroke="#777" stroke-width="0.4"/>
<line x1="102.62" y1="209.2" x2="102.62" y2="210.3" stroke="#777" stroke-width="0.4"/>
<line x1="103.29" y1="209.2" x2="103.29" y2="210.3" stroke="#777" stroke-width="0.4"/>
<line x1="103.87" y1="209.2" x2="103.87" y2="210.3" stroke="#777" stroke-width="0.4"/>
<line x1="115.9" y1="209.2" x2="115.9" y2="211.8" stroke="#444" stroke-width="0.6"/>
<text x="116.3" y="215.6" font-size="3.4" text-anchor="end" fill="#222" stroke="#222" stroke-width="0.12">10<tspan font-size="2.4" dy="-1.5">1</tspan></text>
<line x1="107.86" y1="209.2" x2="107.86" y2="210.3" stroke="#777" stroke-width="0.4"/>
<line x1="109.89" y1="209.2" x2="109.89" y2="210.3" stroke="#777" stroke-width="0.4"/>
<line x1="111.32" y1="209.2" x2="111.32" y2="210.3" stroke="#777" stroke-width="0.4"/>
<line x1="112.44" y1="209.2" x2="112.44" y2="210.3" stroke="#777" stroke-width="0.4"/>
<line x1="113.35" y1="209.2" x2="113.35" y2="210.3" stroke="#777" stroke-width="0.4"/>
<line x1="114.12" y1="209.2" x2="114.12" y2="210.3" stroke="#777" stroke-width="0.4"/>
<line x1="114.79" y1="209.2" x2="114.79" y2="210.3" stroke="#777" stroke-width="0.4"/>
<line x1="115.37" y1="209.2" x2="115.37" y2="210.3" stroke="#777" stroke-width="0.4"/>
<line x1="127.4" y1="209.2" x2="127.4" y2="211.8" stroke="#444" stroke-width="0.6"/>
<text x="127.8" y="215.6" font-size="3.4" text-anchor="end" fill="#222" stroke="#222" stroke-width="0.12">10<tspan font-size="2.4" dy="-1.5">2</tspan></text>
<line x1="119.36" y1="209.2" x2="119.36" y2="210.3" stroke="#777" stroke-width="0.4"/>
<line x1="121.39" y1="209.2" x2="121.39" y2="210.3" stroke="#777" stroke-width="0.4"/>
<line x1="122.82" y1="209.2" x2="122.82" y2="210.3" stroke="#777" stroke-width="0.4"/>
<line x1="123.94" y1="209.2" x2="123.94" y2="210.3" stroke="#777" stroke-width="0.4"/>
<line x1="124.85" y1="209.2" x2="124.85" y2="210.3" stroke="#777" stroke-width="0.4"/>
<line x1="125.62" y1="209.2" x2="125.62" y2="210.3" stroke="#777" stroke-width="0.4"/>
<line x1="126.29" y1="209.2" x2="126.29" y2="210.3" stroke="#777" stroke-width="0.4"/>
<line x1="126.87" y1="209.2" x2="126.87" y2="210.3" stroke="#777" stroke-width="0.4"/>
<line x1="138.9" y1="209.2" x2="138.9" y2="211.8" stroke="#444" stroke-width="0.6"/>
<text x="139.3" y="215.6" font-size="3.4" text-anchor="end" fill="#222" stroke="#222" stroke-width="0.12">10<tspan font-size="2.4" dy="-1.5">3</tspan></text>
<line x1="130.86" y1="209.2" x2="130.86" y2="210.3" stroke="#777" stroke-width="0.4"/>
<line x1="132.89" y1="209.2" x2="132.89" y2="210.3" stroke="#777" stroke-width="0.4"/>
<line x1="134.32" y1="209.2" x2="134.32" y2="210.3" stroke="#777" stroke-width="0.4"/>
<line x1="135.44" y1="209.2" x2="135.44" y2="210.3" stroke="#777" stroke-width="0.4"/>
<line x1="136.35" y1="209.2" x2="136.35" y2="210.3" stroke="#777" stroke-width="0.4"/>
<line x1="137.12" y1="209.2" x2="137.12" y2="210.3" stroke="#777" stroke-width="0.4"/>
<line x1="137.79" y1="209.2" x2="137.79" y2="210.3" stroke="#777" stroke-width="0.4"/>
<line x1="138.37" y1="209.2" x2="138.37" y2="210.3" stroke="#777" stroke-width="0.4"/>
<line x1="150.4" y1="209.2" x2="150.4" y2="211.8" stroke="#444" stroke-width="0.6"/>
<text x="150.8" y="215.6" font-size="3.4" text-anchor="end" fill="#222" stroke="#222" stroke-width="0.12">10<tspan font-size="2.4" dy="-1.5">4</tspan></text>
<line x1="142.36" y1="209.2" x2="142.36" y2="210.3" stroke="#777" stroke-width="0.4"/>
<line x1="144.39" y1="209.2" x2="144.39" y2="210.3" stroke="#777" stroke-width="0.4"/>
<line x1="145.82" y1="209.2" x2="145.82" y2="210.3" stroke="#777" stroke-width="0.4"/>
<line x1="146.94" y1="209.2" x2="146.94" y2="210.3" stroke="#777" stroke-width="0.4"/>
<line x1="147.85" y1="209.2" x2="147.85" y2="210.3" stroke="#777" stroke-width="0.4"/>
<line x1="148.62" y1="209.2" x2="148.62" y2="210.3" stroke="#777" stroke-width="0.4"/>
<line x1="149.29" y1="209.2" x2="149.29" y2="210.3" stroke="#777" stroke-width="0.4"/>
<line x1="149.87" y1="209.2" x2="149.87" y2="210.3" stroke="#777" stroke-width="0.4"/>
<text x="124" y="224.9" font-size="6.5" text-anchor="middle" fill="#111" stroke="#111" stroke-width="0.18">CD158B</text>
</g>
<g>
<path d="M172.4,205.01 C172.9,204.68 174.33,204.03 175.39,203.01 C176.46,202 177.74,200.74 178.81,198.92 C179.87,197.1 180.93,194.36 181.8,192.08 C182.66,189.81 183.36,187.56 184,185.3 C184.64,183.04 185.02,180.8 185.63,178.51 C186.24,176.23 187,173.4 187.68,171.58 C188.36,169.75 189.09,167.58 189.72,167.58 C190.36,167.58 191.1,169.75 191.51,171.58 C191.92,173.4 191.99,176.23 192.19,178.51 C192.39,180.8 192.52,183.04 192.72,185.3 C192.92,187.56 193.17,189.81 193.4,192.08 C193.63,194.36 193.67,197.1 194.08,198.92 C194.49,200.74 195,201.75 195.87,203.01 C196.73,204.28 198.29,206.17 199.28,206.51 C200.27,206.84 201,205.47 201.8,205.01 C202.61,204.54 203.28,203.46 204.11,203.71 C204.94,203.96 205.89,205.62 206.79,206.51 C207.69,207.39 208.69,208.5 209.52,209 C210.35,209.5 209.21,209.42 211.78,209.5 C214.34,209.58 222.71,209.5 224.9,209.5 L224.9,209.5 L172.4,209.5 Z" fill="#a8a8a8" stroke="#262626" stroke-width="1.05"/>
<path d="M189.99,168.58 C190.16,169.08 190.73,169.75 191.04,171.58 C191.34,173.41 191.61,176.98 191.83,179.56 C192.04,182.14 192.13,184.55 192.35,187.04 C192.57,189.54 193.01,193.28 193.14,194.53" fill="none" stroke="#ffffff" stroke-width="0.9"/>
<path d="M172.4,159.6 H224.9 V209.5" fill="none" stroke="#999" stroke-width="1.4"/>
<path d="M172.4,159 V209.5 H225.5" fill="none" stroke="#6a6a6a" stroke-width="1.2"/>
<line x1="170.6" y1="209.35" x2="172.4" y2="209.35" stroke="#444" stroke-width="0.6"/>
<text x="170.1" y="210.55" font-size="3.4" text-anchor="end" fill="#222" stroke="#222" stroke-width="0.12">0</text>
<line x1="171.4" y1="204.63" x2="172.4" y2="204.63" stroke="#444" stroke-width="0.6"/>
<line x1="170.6" y1="199.92" x2="172.4" y2="199.92" stroke="#444" stroke-width="0.6"/>
<text x="170.1" y="201.12" font-size="3.4" text-anchor="end" fill="#222" stroke="#222" stroke-width="0.12">20</text>
<line x1="171.4" y1="195.2" x2="172.4" y2="195.2" stroke="#444" stroke-width="0.6"/>
<line x1="170.6" y1="190.49" x2="172.4" y2="190.49" stroke="#444" stroke-width="0.6"/>
<text x="170.1" y="191.69" font-size="3.4" text-anchor="end" fill="#222" stroke="#222" stroke-width="0.12">40</text>
<line x1="171.4" y1="185.77" x2="172.4" y2="185.77" stroke="#444" stroke-width="0.6"/>
<line x1="170.6" y1="181.06" x2="172.4" y2="181.06" stroke="#444" stroke-width="0.6"/>
<text x="170.1" y="182.26" font-size="3.4" text-anchor="end" fill="#222" stroke="#222" stroke-width="0.12">60</text>
<line x1="171.4" y1="176.34" x2="172.4" y2="176.34" stroke="#444" stroke-width="0.6"/>
<line x1="170.6" y1="171.63" x2="172.4" y2="171.63" stroke="#444" stroke-width="0.6"/>
<text x="170.1" y="172.83" font-size="3.4" text-anchor="end" fill="#222" stroke="#222" stroke-width="0.12">80</text>
<line x1="171.4" y1="166.91" x2="172.4" y2="166.91" stroke="#444" stroke-width="0.6"/>
<line x1="170.6" y1="162.2" x2="172.4" y2="162.2" stroke="#444" stroke-width="0.6"/>
<text x="170.1" y="163.4" font-size="3.4" text-anchor="end" fill="#222" stroke="#222" stroke-width="0.12">100</text>
<line x1="178.4" y1="209.5" x2="178.4" y2="212.1" stroke="#444" stroke-width="0.6"/>
<text x="178.8" y="215.9" font-size="3.4" text-anchor="end" fill="#222" stroke="#222" stroke-width="0.12">10<tspan font-size="2.4" dy="-1.5">0</tspan></text>
<line x1="173.82" y1="209.5" x2="173.82" y2="210.6" stroke="#777" stroke-width="0.4"/>
<line x1="174.94" y1="209.5" x2="174.94" y2="210.6" stroke="#777" stroke-width="0.4"/>
<line x1="175.85" y1="209.5" x2="175.85" y2="210.6" stroke="#777" stroke-width="0.4"/>
<line x1="176.62" y1="209.5" x2="176.62" y2="210.6" stroke="#777" stroke-width="0.4"/>
<line x1="177.29" y1="209.5" x2="177.29" y2="210.6" stroke="#777" stroke-width="0.4"/>
<line x1="177.87" y1="209.5" x2="177.87" y2="210.6" stroke="#777" stroke-width="0.4"/>
<line x1="189.9" y1="209.5" x2="189.9" y2="212.1" stroke="#444" stroke-width="0.6"/>
<text x="190.3" y="215.9" font-size="3.4" text-anchor="end" fill="#222" stroke="#222" stroke-width="0.12">10<tspan font-size="2.4" dy="-1.5">1</tspan></text>
<line x1="181.86" y1="209.5" x2="181.86" y2="210.6" stroke="#777" stroke-width="0.4"/>
<line x1="183.89" y1="209.5" x2="183.89" y2="210.6" stroke="#777" stroke-width="0.4"/>
<line x1="185.32" y1="209.5" x2="185.32" y2="210.6" stroke="#777" stroke-width="0.4"/>
<line x1="186.44" y1="209.5" x2="186.44" y2="210.6" stroke="#777" stroke-width="0.4"/>
<line x1="187.35" y1="209.5" x2="187.35" y2="210.6" stroke="#777" stroke-width="0.4"/>
<line x1="188.12" y1="209.5" x2="188.12" y2="210.6" stroke="#777" stroke-width="0.4"/>
<line x1="188.79" y1="209.5" x2="188.79" y2="210.6" stroke="#777" stroke-width="0.4"/>
<line x1="189.37" y1="209.5" x2="189.37" y2="210.6" stroke="#777" stroke-width="0.4"/>
<line x1="201.4" y1="209.5" x2="201.4" y2="212.1" stroke="#444" stroke-width="0.6"/>
<text x="201.8" y="215.9" font-size="3.4" text-anchor="end" fill="#222" stroke="#222" stroke-width="0.12">10<tspan font-size="2.4" dy="-1.5">2</tspan></text>
<line x1="193.36" y1="209.5" x2="193.36" y2="210.6" stroke="#777" stroke-width="0.4"/>
<line x1="195.39" y1="209.5" x2="195.39" y2="210.6" stroke="#777" stroke-width="0.4"/>
<line x1="196.82" y1="209.5" x2="196.82" y2="210.6" stroke="#777" stroke-width="0.4"/>
<line x1="197.94" y1="209.5" x2="197.94" y2="210.6" stroke="#777" stroke-width="0.4"/>
<line x1="198.85" y1="209.5" x2="198.85" y2="210.6" stroke="#777" stroke-width="0.4"/>
<line x1="199.62" y1="209.5" x2="199.62" y2="210.6" stroke="#777" stroke-width="0.4"/>
<line x1="200.29" y1="209.5" x2="200.29" y2="210.6" stroke="#777" stroke-width="0.4"/>
<line x1="200.87" y1="209.5" x2="200.87" y2="210.6" stroke="#777" stroke-width="0.4"/>
<line x1="212.9" y1="209.5" x2="212.9" y2="212.1" stroke="#444" stroke-width="0.6"/>
<text x="213.3" y="215.9" font-size="3.4" text-anchor="end" fill="#222" stroke="#222" stroke-width="0.12">10<tspan font-size="2.4" dy="-1.5">3</tspan></text>
<line x1="204.86" y1="209.5" x2="204.86" y2="210.6" stroke="#777" stroke-width="0.4"/>
<line x1="206.89" y1="209.5" x2="206.89" y2="210.6" stroke="#777" stroke-width="0.4"/>
<line x1="208.32" y1="209.5" x2="208.32" y2="210.6" stroke="#777" stroke-width="0.4"/>
<line x1="209.44" y1="209.5" x2="209.44" y2="210.6" stroke="#777" stroke-width="0.4"/>
<line x1="210.35" y1="209.5" x2="210.35" y2="210.6" stroke="#777" stroke-width="0.4"/>
<line x1="211.12" y1="209.5" x2="211.12" y2="210.6" stroke="#777" stroke-width="0.4"/>
<line x1="211.79" y1="209.5" x2="211.79" y2="210.6" stroke="#777" stroke-width="0.4"/>
<line x1="212.37" y1="209.5" x2="212.37" y2="210.6" stroke="#777" stroke-width="0.4"/>
<line x1="224.4" y1="209.5" x2="224.4" y2="212.1" stroke="#444" stroke-width="0.6"/>
<text x="224.8" y="215.9" font-size="3.4" text-anchor="end" fill="#222" stroke="#222" stroke-width="0.12">10<tspan font-size="2.4" dy="-1.5">4</tspan></text>
<line x1="216.36" y1="209.5" x2="216.36" y2="210.6" stroke="#777" stroke-width="0.4"/>
<line x1="218.39" y1="209.5" x2="218.39" y2="210.6" stroke="#777" stroke-width="0.4"/>
<line x1="219.82" y1="209.5" x2="219.82" y2="210.6" stroke="#777" stroke-width="0.4"/>
<line x1="220.94" y1="209.5" x2="220.94" y2="210.6" stroke="#777" stroke-width="0.4"/>
<line x1="221.85" y1="209.5" x2="221.85" y2="210.6" stroke="#777" stroke-width="0.4"/>
<line x1="222.62" y1="209.5" x2="222.62" y2="210.6" stroke="#777" stroke-width="0.4"/>
<line x1="223.29" y1="209.5" x2="223.29" y2="210.6" stroke="#777" stroke-width="0.4"/>
<line x1="223.87" y1="209.5" x2="223.87" y2="210.6" stroke="#777" stroke-width="0.4"/>
<text x="198.3" y="224.9" font-size="6.5" text-anchor="middle" fill="#111" stroke="#111" stroke-width="0.18">CD158 A</text>
</g>
<g>
<path d="M246,205.01 C246.33,204.68 247.29,204.03 247.99,203.01 C248.69,202 249.38,200.74 250.18,198.92 C250.98,197.1 252.06,194.35 252.78,192.08 C253.51,189.81 253.95,187.56 254.52,185.3 C255.09,183.04 255.62,180.8 256.2,178.51 C256.78,176.22 257.48,173.51 257.99,171.58 C258.5,169.64 258.86,168.2 259.26,166.88 C259.66,165.57 260.04,163.44 260.38,163.69 C260.72,163.94 261.01,167.07 261.3,168.38 C261.59,169.7 261.88,169.89 262.12,171.58 C262.35,173.26 262.52,176.22 262.73,178.51 C262.94,180.8 263.17,183.04 263.39,185.3 C263.61,187.56 263.77,189.81 264.05,192.08 C264.33,194.35 264.77,196.87 265.07,198.92 C265.38,200.97 265.48,202.88 265.89,204.36 C266.3,205.84 266.91,207.06 267.52,207.8 C268.13,208.54 268.9,208.55 269.56,208.8 C270.23,209.05 266.93,209.22 271.5,209.3 C276.07,209.38 292.75,209.3 297,209.3 L297,209.3 L246,209.3 Z" fill="#b0b0b0" stroke="#262626" stroke-width="1.05"/>
<path d="M260.54,166.39 C260.71,167.38 261.27,170.21 261.56,172.37 C261.84,174.54 261.99,176.95 262.22,179.36 C262.45,181.77 262.7,184.35 262.93,186.84 C263.16,189.34 263.48,193.08 263.6,194.33" fill="none" stroke="#ffffff" stroke-width="0.9"/>
<path d="M246,159.4 H297 V209.3" fill="none" stroke="#999" stroke-width="1.4"/>
<path d="M246,158.8 V209.3 H297.6" fill="none" stroke="#6a6a6a" stroke-width="1.2"/>
<line x1="244.2" y1="209.15" x2="246" y2="209.15" stroke="#444" stroke-width="0.6"/>
<text x="243.7" y="210.35" font-size="3.4" text-anchor="end" fill="#222" stroke="#222" stroke-width="0.12">0</text>
<line x1="245" y1="204.44" x2="246" y2="204.44" stroke="#444" stroke-width="0.6"/>
<line x1="244.2" y1="199.72" x2="246" y2="199.72" stroke="#444" stroke-width="0.6"/>
<text x="243.7" y="200.92" font-size="3.4" text-anchor="end" fill="#222" stroke="#222" stroke-width="0.12">20</text>
<line x1="245" y1="195" x2="246" y2="195" stroke="#444" stroke-width="0.6"/>
<line x1="244.2" y1="190.29" x2="246" y2="190.29" stroke="#444" stroke-width="0.6"/>
<text x="243.7" y="191.49" font-size="3.4" text-anchor="end" fill="#222" stroke="#222" stroke-width="0.12">40</text>
<line x1="245" y1="185.57" x2="246" y2="185.57" stroke="#444" stroke-width="0.6"/>
<line x1="244.2" y1="180.86" x2="246" y2="180.86" stroke="#444" stroke-width="0.6"/>
<text x="243.7" y="182.06" font-size="3.4" text-anchor="end" fill="#222" stroke="#222" stroke-width="0.12">60</text>
<line x1="245" y1="176.15" x2="246" y2="176.15" stroke="#444" stroke-width="0.6"/>
<line x1="244.2" y1="171.43" x2="246" y2="171.43" stroke="#444" stroke-width="0.6"/>
<text x="243.7" y="172.63" font-size="3.4" text-anchor="end" fill="#222" stroke="#222" stroke-width="0.12">80</text>
<line x1="245" y1="166.72" x2="246" y2="166.72" stroke="#444" stroke-width="0.6"/>
<line x1="244.2" y1="162" x2="246" y2="162" stroke="#444" stroke-width="0.6"/>
<text x="243.7" y="163.2" font-size="3.4" text-anchor="end" fill="#222" stroke="#222" stroke-width="0.12">100</text>
<line x1="250.5" y1="209.3" x2="250.5" y2="211.9" stroke="#444" stroke-width="0.6"/>
<text x="250.9" y="215.7" font-size="3.4" text-anchor="end" fill="#222" stroke="#222" stroke-width="0.12">10<tspan font-size="2.4" dy="-1.5">0</tspan></text>
<line x1="247.04" y1="209.3" x2="247.04" y2="210.4" stroke="#777" stroke-width="0.4"/>
<line x1="247.95" y1="209.3" x2="247.95" y2="210.4" stroke="#777" stroke-width="0.4"/>
<line x1="248.72" y1="209.3" x2="248.72" y2="210.4" stroke="#777" stroke-width="0.4"/>
<line x1="249.39" y1="209.3" x2="249.39" y2="210.4" stroke="#777" stroke-width="0.4"/>
<line x1="249.97" y1="209.3" x2="249.97" y2="210.4" stroke="#777" stroke-width="0.4"/>
<line x1="262" y1="209.3" x2="262" y2="211.9" stroke="#444" stroke-width="0.6"/>
<text x="262.4" y="215.7" font-size="3.4" text-anchor="end" fill="#222" stroke="#222" stroke-width="0.12">10<tspan font-size="2.4" dy="-1.5">1</tspan></text>
<line x1="253.96" y1="209.3" x2="253.96" y2="210.4" stroke="#777" stroke-width="0.4"/>
<line x1="255.99" y1="209.3" x2="255.99" y2="210.4" stroke="#777" stroke-width="0.4"/>
<line x1="257.42" y1="209.3" x2="257.42" y2="210.4" stroke="#777" stroke-width="0.4"/>
<line x1="258.54" y1="209.3" x2="258.54" y2="210.4" stroke="#777" stroke-width="0.4"/>
<line x1="259.45" y1="209.3" x2="259.45" y2="210.4" stroke="#777" stroke-width="0.4"/>
<line x1="260.22" y1="209.3" x2="260.22" y2="210.4" stroke="#777" stroke-width="0.4"/>
<line x1="260.89" y1="209.3" x2="260.89" y2="210.4" stroke="#777" stroke-width="0.4"/>
<line x1="261.47" y1="209.3" x2="261.47" y2="210.4" stroke="#777" stroke-width="0.4"/>
<line x1="273.5" y1="209.3" x2="273.5" y2="211.9" stroke="#444" stroke-width="0.6"/>
<text x="273.9" y="215.7" font-size="3.4" text-anchor="end" fill="#222" stroke="#222" stroke-width="0.12">10<tspan font-size="2.4" dy="-1.5">2</tspan></text>
<line x1="265.46" y1="209.3" x2="265.46" y2="210.4" stroke="#777" stroke-width="0.4"/>
<line x1="267.49" y1="209.3" x2="267.49" y2="210.4" stroke="#777" stroke-width="0.4"/>
<line x1="268.92" y1="209.3" x2="268.92" y2="210.4" stroke="#777" stroke-width="0.4"/>
<line x1="270.04" y1="209.3" x2="270.04" y2="210.4" stroke="#777" stroke-width="0.4"/>
<line x1="270.95" y1="209.3" x2="270.95" y2="210.4" stroke="#777" stroke-width="0.4"/>
<line x1="271.72" y1="209.3" x2="271.72" y2="210.4" stroke="#777" stroke-width="0.4"/>
<line x1="272.39" y1="209.3" x2="272.39" y2="210.4" stroke="#777" stroke-width="0.4"/>
<line x1="272.97" y1="209.3" x2="272.97" y2="210.4" stroke="#777" stroke-width="0.4"/>
<line x1="285" y1="209.3" x2="285" y2="211.9" stroke="#444" stroke-width="0.6"/>
<text x="285.4" y="215.7" font-size="3.4" text-anchor="end" fill="#222" stroke="#222" stroke-width="0.12">10<tspan font-size="2.4" dy="-1.5">3</tspan></text>
<line x1="276.96" y1="209.3" x2="276.96" y2="210.4" stroke="#777" stroke-width="0.4"/>
<line x1="278.99" y1="209.3" x2="278.99" y2="210.4" stroke="#777" stroke-width="0.4"/>
<line x1="280.42" y1="209.3" x2="280.42" y2="210.4" stroke="#777" stroke-width="0.4"/>
<line x1="281.54" y1="209.3" x2="281.54" y2="210.4" stroke="#777" stroke-width="0.4"/>
<line x1="282.45" y1="209.3" x2="282.45" y2="210.4" stroke="#777" stroke-width="0.4"/>
<line x1="283.22" y1="209.3" x2="283.22" y2="210.4" stroke="#777" stroke-width="0.4"/>
<line x1="283.89" y1="209.3" x2="283.89" y2="210.4" stroke="#777" stroke-width="0.4"/>
<line x1="284.47" y1="209.3" x2="284.47" y2="210.4" stroke="#777" stroke-width="0.4"/>
<line x1="296.5" y1="209.3" x2="296.5" y2="211.9" stroke="#444" stroke-width="0.6"/>
<text x="296.9" y="215.7" font-size="3.4" text-anchor="end" fill="#222" stroke="#222" stroke-width="0.12">10<tspan font-size="2.4" dy="-1.5">4</tspan></text>
<line x1="288.46" y1="209.3" x2="288.46" y2="210.4" stroke="#777" stroke-width="0.4"/>
<line x1="290.49" y1="209.3" x2="290.49" y2="210.4" stroke="#777" stroke-width="0.4"/>
<line x1="291.92" y1="209.3" x2="291.92" y2="210.4" stroke="#777" stroke-width="0.4"/>
<line x1="293.04" y1="209.3" x2="293.04" y2="210.4" stroke="#777" stroke-width="0.4"/>
<line x1="293.95" y1="209.3" x2="293.95" y2="210.4" stroke="#777" stroke-width="0.4"/>
<line x1="294.72" y1="209.3" x2="294.72" y2="210.4" stroke="#777" stroke-width="0.4"/>
<line x1="295.39" y1="209.3" x2="295.39" y2="210.4" stroke="#777" stroke-width="0.4"/>
<line x1="295.97" y1="209.3" x2="295.97" y2="210.4" stroke="#777" stroke-width="0.4"/>
<text x="274.5" y="224.9" font-size="6.5" text-anchor="middle" fill="#111" stroke="#111" stroke-width="0.18">CD158D</text>
</g>
<g>
<line x1="81.6" y1="256.2" x2="81.6" y2="340.9" stroke="#1a1a1a" stroke-width="1.3"/>
<line x1="79.2" y1="340.5" x2="81.6" y2="340.5" stroke="#1a1a1a" stroke-width="1.1"/>
<text x="78.4" y="342.8" font-size="6.5" font-weight="bold" text-anchor="end" fill="#111" stroke="#111" stroke-width="0.15">0</text>
<line x1="79.2" y1="319.5" x2="81.6" y2="319.5" stroke="#1a1a1a" stroke-width="1.1"/>
<text x="78.4" y="321.8" font-size="6.5" font-weight="bold" text-anchor="end" fill="#111" stroke="#111" stroke-width="0.15">20</text>
<line x1="79.2" y1="298.5" x2="81.6" y2="298.5" stroke="#1a1a1a" stroke-width="1.1"/>
<text x="78.4" y="300.8" font-size="6.5" font-weight="bold" text-anchor="end" fill="#111" stroke="#111" stroke-width="0.15">40</text>
<line x1="79.2" y1="277.5" x2="81.6" y2="277.5" stroke="#1a1a1a" stroke-width="1.1"/>
<text x="78.4" y="279.8" font-size="6.5" font-weight="bold" text-anchor="end" fill="#111" stroke="#111" stroke-width="0.15">60</text>
<line x1="79.2" y1="256.5" x2="81.6" y2="256.5" stroke="#1a1a1a" stroke-width="1.1"/>
<text x="78.4" y="258.8" font-size="6.5" font-weight="bold" text-anchor="end" fill="#111" stroke="#111" stroke-width="0.15">80</text>
<text transform="translate(59.1,298.6) rotate(-90)" font-size="6.4" font-weight="bold" text-anchor="middle" fill="#111" stroke="#111" stroke-width="0.15">% specific lysis</text>
<line x1="90.9" y1="350" x2="222.6" y2="350" stroke="#333" stroke-width="1.35"/>
<text x="92.2" y="361.3" font-size="6.4" font-weight="bold" text-anchor="middle" fill="#111" stroke="#111" stroke-width="0.15">0</text>
<text x="113.2" y="361.3" font-size="6.4" font-weight="bold" text-anchor="middle" fill="#111" stroke="#111" stroke-width="0.15">5</text>
<text x="144.9" y="361.3" font-size="6.4" font-weight="bold" text-anchor="middle" fill="#111" stroke="#111" stroke-width="0.15">50</text>
<text x="178.7" y="361.3" font-size="6.4" font-weight="bold" text-anchor="middle" fill="#111" stroke="#111" stroke-width="0.15">500</text>
<text x="212.5" y="361.3" font-size="6.4" font-weight="bold" text-anchor="middle" fill="#111" stroke="#111" stroke-width="0.15">5000</text>
<text x="156.6" y="377.6" font-size="6.6" font-weight="bold" text-anchor="middle" fill="#111" stroke="#111" stroke-width="0.15">PGE2 (ng/ml)</text>
<polyline points="91.4,264.58 113.9,290.2 146.5,313.73 179.4,327.48 212.6,329.79" fill="none" stroke="#2a2a2a" stroke-width="0.8"/>
<line x1="91.4" y1="262.9" x2="91.4" y2="266.26" stroke="#222" stroke-width="0.6"/>
<line x1="90" y1="262.9" x2="92.8" y2="262.9" stroke="#222" stroke-width="0.6"/>
<line x1="90" y1="266.26" x2="92.8" y2="266.26" stroke="#222" stroke-width="0.6"/>
<circle cx="91.4" cy="264.58" r="1.5" fill="#111"/>
<line x1="113.9" y1="289.57" x2="113.9" y2="290.83" stroke="#222" stroke-width="0.6"/>
<line x1="112.5" y1="289.57" x2="115.3" y2="289.57" stroke="#222" stroke-width="0.6"/>
<line x1="112.5" y1="290.83" x2="115.3" y2="290.83" stroke="#222" stroke-width="0.6"/>
<circle cx="113.9" cy="290.2" r="1.5" fill="#111"/>
<line x1="146.5" y1="313.1" x2="146.5" y2="314.36" stroke="#222" stroke-width="0.6"/>
<line x1="145.1" y1="313.1" x2="147.9" y2="313.1" stroke="#222" stroke-width="0.6"/>
<line x1="145.1" y1="314.36" x2="147.9" y2="314.36" stroke="#222" stroke-width="0.6"/>
<circle cx="146.5" cy="313.73" r="1.5" fill="#111"/>
<line x1="179.4" y1="326.64" x2="179.4" y2="328.32" stroke="#222" stroke-width="0.6"/>
<line x1="178" y1="326.64" x2="180.8" y2="326.64" stroke="#222" stroke-width="0.6"/>
<line x1="178" y1="328.32" x2="180.8" y2="328.32" stroke="#222" stroke-width="0.6"/>
<circle cx="179.4" cy="327.48" r="1.5" fill="#111"/>
<line x1="212.6" y1="328.95" x2="212.6" y2="330.63" stroke="#222" stroke-width="0.6"/>
<line x1="211.2" y1="328.95" x2="214" y2="328.95" stroke="#222" stroke-width="0.6"/>
<line x1="211.2" y1="330.63" x2="214" y2="330.63" stroke="#222" stroke-width="0.6"/>
<circle cx="212.6" cy="329.79" r="1.5" fill="#111"/>
<polyline points="91.4,274.35 113.9,301.65 146.5,319.5 179.4,328.43 212.6,331.05" fill="none" stroke="#2a2a2a" stroke-width="0.8"/>
<line x1="91.4" y1="272.25" x2="91.4" y2="276.45" stroke="#222" stroke-width="0.6"/>
<line x1="90" y1="272.25" x2="92.8" y2="272.25" stroke="#222" stroke-width="0.6"/>
<line x1="90" y1="276.45" x2="92.8" y2="276.45" stroke="#222" stroke-width="0.6"/>
<rect x="89.9" y="272.85" width="3" height="3" fill="#111"/>
<line x1="113.9" y1="300.7" x2="113.9" y2="302.6" stroke="#222" stroke-width="0.6"/>
<line x1="112.5" y1="300.7" x2="115.3" y2="300.7" stroke="#222" stroke-width="0.6"/>
<line x1="112.5" y1="302.6" x2="115.3" y2="302.6" stroke="#222" stroke-width="0.6"/>
<rect x="112.4" y="300.15" width="3" height="3" fill="#111"/>
<line x1="146.5" y1="318.87" x2="146.5" y2="320.13" stroke="#222" stroke-width="0.6"/>
<line x1="145.1" y1="318.87" x2="147.9" y2="318.87" stroke="#222" stroke-width="0.6"/>
<line x1="145.1" y1="320.13" x2="147.9" y2="320.13" stroke="#222" stroke-width="0.6"/>
<rect x="145" y="318" width="3" height="3" fill="#111"/>
<line x1="179.4" y1="327.38" x2="179.4" y2="329.48" stroke="#222" stroke-width="0.6"/>
<line x1="178" y1="327.38" x2="180.8" y2="327.38" stroke="#222" stroke-width="0.6"/>
<line x1="178" y1="329.48" x2="180.8" y2="329.48" stroke="#222" stroke-width="0.6"/>
<rect x="177.9" y="326.93" width="3" height="3" fill="#111"/>
<line x1="212.6" y1="330.21" x2="212.6" y2="331.89" stroke="#222" stroke-width="0.6"/>
<line x1="211.2" y1="330.21" x2="214" y2="330.21" stroke="#222" stroke-width="0.6"/>
<line x1="211.2" y1="331.89" x2="214" y2="331.89" stroke="#222" stroke-width="0.6"/>
<rect x="211.1" y="329.55" width="3" height="3" fill="#111"/>
<polyline points="91.4,305.43 113.9,318.87 146.5,328.95 179.4,333.36 212.6,334.2" fill="none" stroke="#2a2a2a" stroke-width="0.8"/>
<line x1="91.4" y1="303.75" x2="91.4" y2="307.11" stroke="#222" stroke-width="0.6"/>
<line x1="90" y1="303.75" x2="92.8" y2="303.75" stroke="#222" stroke-width="0.6"/>
<line x1="90" y1="307.11" x2="92.8" y2="307.11" stroke="#222" stroke-width="0.6"/>
<path d="M91.4,303.73 L93.1,306.79 L89.7,306.79 Z" fill="#111"/>
<line x1="113.9" y1="318.24" x2="113.9" y2="319.5" stroke="#222" stroke-width="0.6"/>
<line x1="112.5" y1="318.24" x2="115.3" y2="318.24" stroke="#222" stroke-width="0.6"/>
<line x1="112.5" y1="319.5" x2="115.3" y2="319.5" stroke="#222" stroke-width="0.6"/>
<path d="M113.9,317.17 L115.6,320.23 L112.2,320.23 Z" fill="#111"/>
<line x1="146.5" y1="328.32" x2="146.5" y2="329.58" stroke="#222" stroke-width="0.6"/>
<line x1="145.1" y1="328.32" x2="147.9" y2="328.32" stroke="#222" stroke-width="0.6"/>
<line x1="145.1" y1="329.58" x2="147.9" y2="329.58" stroke="#222" stroke-width="0.6"/>
<path d="M146.5,327.25 L148.2,330.31 L144.8,330.31 Z" fill="#111"/>
<line x1="179.4" y1="332.83" x2="179.4" y2="333.88" stroke="#222" stroke-width="0.6"/>
<line x1="178" y1="332.83" x2="180.8" y2="332.83" stroke="#222" stroke-width="0.6"/>
<line x1="178" y1="333.88" x2="180.8" y2="333.88" stroke="#222" stroke-width="0.6"/>
<path d="M179.4,331.66 L181.1,334.72 L177.7,334.72 Z" fill="#111"/>
<line x1="212.6" y1="333.68" x2="212.6" y2="334.73" stroke="#222" stroke-width="0.6"/>
<line x1="211.2" y1="333.68" x2="214" y2="333.68" stroke="#222" stroke-width="0.6"/>
<line x1="211.2" y1="334.73" x2="214" y2="334.73" stroke="#222" stroke-width="0.6"/>
<path d="M212.6,332.5 L214.3,335.56 L210.9,335.56 Z" fill="#111"/>
<polyline points="91.4,330.42 113.9,332.42 146.5,334.2 179.4,334.2 212.6,334.73" fill="none" stroke="#2a2a2a" stroke-width="0.8"/>
<line x1="91.4" y1="329.89" x2="91.4" y2="330.94" stroke="#222" stroke-width="0.6"/>
<line x1="90" y1="329.89" x2="92.8" y2="329.89" stroke="#222" stroke-width="0.6"/>
<line x1="90" y1="330.94" x2="92.8" y2="330.94" stroke="#222" stroke-width="0.6"/>
<path d="M91.4,332.12 L93.1,329.06 L89.7,329.06 Z" fill="#111"/>
<line x1="113.9" y1="332" x2="113.9" y2="332.83" stroke="#222" stroke-width="0.6"/>
<line x1="112.5" y1="332" x2="115.3" y2="332" stroke="#222" stroke-width="0.6"/>
<line x1="112.5" y1="332.83" x2="115.3" y2="332.83" stroke="#222" stroke-width="0.6"/>
<path d="M113.9,334.12 L115.6,331.06 L112.2,331.06 Z" fill="#111"/>
<line x1="146.5" y1="333.78" x2="146.5" y2="334.62" stroke="#222" stroke-width="0.6"/>
<line x1="145.1" y1="333.78" x2="147.9" y2="333.78" stroke="#222" stroke-width="0.6"/>
<line x1="145.1" y1="334.62" x2="147.9" y2="334.62" stroke="#222" stroke-width="0.6"/>
<path d="M146.5,335.9 L148.2,332.84 L144.8,332.84 Z" fill="#111"/>
<line x1="179.4" y1="333.78" x2="179.4" y2="334.62" stroke="#222" stroke-width="0.6"/>
<line x1="178" y1="333.78" x2="180.8" y2="333.78" stroke="#222" stroke-width="0.6"/>
<line x1="178" y1="334.62" x2="180.8" y2="334.62" stroke="#222" stroke-width="0.6"/>
<path d="M179.4,335.9 L181.1,332.84 L177.7,332.84 Z" fill="#111"/>
<line x1="212.6" y1="334.31" x2="212.6" y2="335.14" stroke="#222" stroke-width="0.6"/>
<line x1="211.2" y1="334.31" x2="214" y2="334.31" stroke="#222" stroke-width="0.6"/>
<line x1="211.2" y1="335.14" x2="214" y2="335.14" stroke="#222" stroke-width="0.6"/>
<path d="M212.6,336.43 L214.3,333.37 L210.9,333.37 Z" fill="#111"/>
<rect x="177.6" y="258.6" width="31.8" height="32.6" fill="#fff" stroke="#7a7a7a" stroke-width="0.8"/>
<line x1="179.5" y1="263.5" x2="189.6" y2="263.5" stroke="#222" stroke-width="0.8"/>
<circle cx="184.6" cy="263.5" r="1.5" fill="#111"/>
<text x="194.8" y="265.9" font-size="6.6" fill="#111" stroke="#111" stroke-width="0.12">20:1</text>
<line x1="179.5" y1="271.2" x2="189.6" y2="271.2" stroke="#222" stroke-width="0.8"/>
<rect x="183.1" y="269.7" width="3" height="3" fill="#111"/>
<text x="194.8" y="273.6" font-size="6.6" fill="#111" stroke="#111" stroke-width="0.12">10:1</text>
<line x1="179.5" y1="278.5" x2="189.6" y2="278.5" stroke="#222" stroke-width="0.8"/>
<path d="M184.6,276.8 L186.3,279.86 L182.9,279.86 Z" fill="#111"/>
<text x="194.8" y="280.9" font-size="6.6" fill="#111" stroke="#111" stroke-width="0.12">5:1</text>
<line x1="179.5" y1="286.2" x2="189.6" y2="286.2" stroke="#222" stroke-width="0.8"/>
<path d="M184.6,287.9 L186.3,284.84 L182.9,284.84 Z" fill="#111"/>
<text x="194.8" y="288.6" font-size="6.6" fill="#111" stroke="#111" stroke-width="0.12">1:1</text>
</g>
<g>
<line x1="360.2" y1="254.7" x2="360.2" y2="340.3" stroke="#1a1a1a" stroke-width="1.15"/>
<line x1="357.4" y1="340.2" x2="360.2" y2="340.2" stroke="#1a1a1a" stroke-width="1.0"/>
<text x="356.4" y="342.5" font-size="6.4" font-weight="bold" text-anchor="end" fill="#111" stroke="#111" stroke-width="0.15">0</text>
<line x1="357.4" y1="318.95" x2="360.2" y2="318.95" stroke="#1a1a1a" stroke-width="1.0"/>
<text x="356.4" y="321.25" font-size="6.4" font-weight="bold" text-anchor="end" fill="#111" stroke="#111" stroke-width="0.15">2000</text>
<line x1="357.4" y1="297.7" x2="360.2" y2="297.7" stroke="#1a1a1a" stroke-width="1.0"/>
<text x="356.4" y="300" font-size="6.4" font-weight="bold" text-anchor="end" fill="#111" stroke="#111" stroke-width="0.15">4000</text>
<line x1="357.4" y1="276.45" x2="360.2" y2="276.45" stroke="#1a1a1a" stroke-width="1.0"/>
<text x="356.4" y="278.75" font-size="6.4" font-weight="bold" text-anchor="end" fill="#111" stroke="#111" stroke-width="0.15">6000</text>
<line x1="357.4" y1="255.2" x2="360.2" y2="255.2" stroke="#1a1a1a" stroke-width="1.0"/>
<text x="356.4" y="257.5" font-size="6.4" font-weight="bold" text-anchor="end" fill="#111" stroke="#111" stroke-width="0.15">8000</text>
<text transform="translate(329.0,297.6) rotate(-90)" font-size="6.7" font-weight="bold" text-anchor="middle" fill="#111" stroke="#111" stroke-width="0.15">IFN-γ (pg/ml)</text>
<line x1="386" y1="268.1" x2="386" y2="275.5" stroke="#333" stroke-width="0.9"/>
<line x1="380.4" y1="268.1" x2="391.6" y2="268.1" stroke="#333" stroke-width="0.9"/>
<rect x="375" y="275.5" width="22" height="64.9" fill="#8f8f8f" stroke="#4a4a4a" stroke-width="0.9"/>
<line x1="419.2" y1="272.4" x2="419.2" y2="279.11" stroke="#333" stroke-width="0.9"/>
<line x1="413.6" y1="272.4" x2="424.8" y2="272.4" stroke="#333" stroke-width="0.9"/>
<rect x="408.2" y="279.11" width="22" height="61.29" fill="#8f8f8f" stroke="#4a4a4a" stroke-width="0.9"/>
<line x1="451.6" y1="292.1" x2="451.6" y2="298.2" stroke="#333" stroke-width="0.9"/>
<line x1="446" y1="292.1" x2="457.2" y2="292.1" stroke="#333" stroke-width="0.9"/>
<rect x="440.6" y="298.2" width="22" height="42.2" fill="#8f8f8f" stroke="#4a4a4a" stroke-width="0.9"/>
<line x1="484.2" y1="304.4" x2="484.2" y2="307.31" stroke="#333" stroke-width="0.9"/>
<line x1="478.6" y1="304.4" x2="489.8" y2="304.4" stroke="#333" stroke-width="0.9"/>
<rect x="473.2" y="307.31" width="22" height="33.09" fill="#8f8f8f" stroke="#4a4a4a" stroke-width="0.9"/>
<line x1="369.5" y1="349.6" x2="501.6" y2="349.6" stroke="#2a2a2a" stroke-width="1.3"/>
<text x="385.9" y="359.3" font-size="6.7" font-weight="bold" text-anchor="middle" fill="#111" stroke="#111" stroke-width="0.15">0</text>
<text x="419.3" y="359.3" font-size="6.7" font-weight="bold" text-anchor="middle" fill="#111" stroke="#111" stroke-width="0.15">10</text>
<text x="451.7" y="359.3" font-size="6.7" font-weight="bold" text-anchor="middle" fill="#111" stroke="#111" stroke-width="0.15">100</text>
<text x="484.8" y="359.3" font-size="6.7" font-weight="bold" text-anchor="middle" fill="#111" stroke="#111" stroke-width="0.15">1000</text>
<text x="435.4" y="374.3" font-size="6.6" font-weight="bold" text-anchor="middle" fill="#111" stroke="#111" stroke-width="0.15">PGE2 (ng/ml)</text>
<path d="M384.3,262.3 L384.3,260 L454.1,260 L454.1,262.3" fill="none" stroke="#666" stroke-width="0.8"/>
<path d="M384.3,251.8 L384.3,249.5 L485,249.5 L485,251.8" fill="none" stroke="#666" stroke-width="0.8"/>
<circle cx="419.3" cy="256.5" r="1.15" fill="#111"/>
<circle cx="434.6" cy="246.1" r="1.15" fill="#111"/>
</g>
</svg>
</body></html>
